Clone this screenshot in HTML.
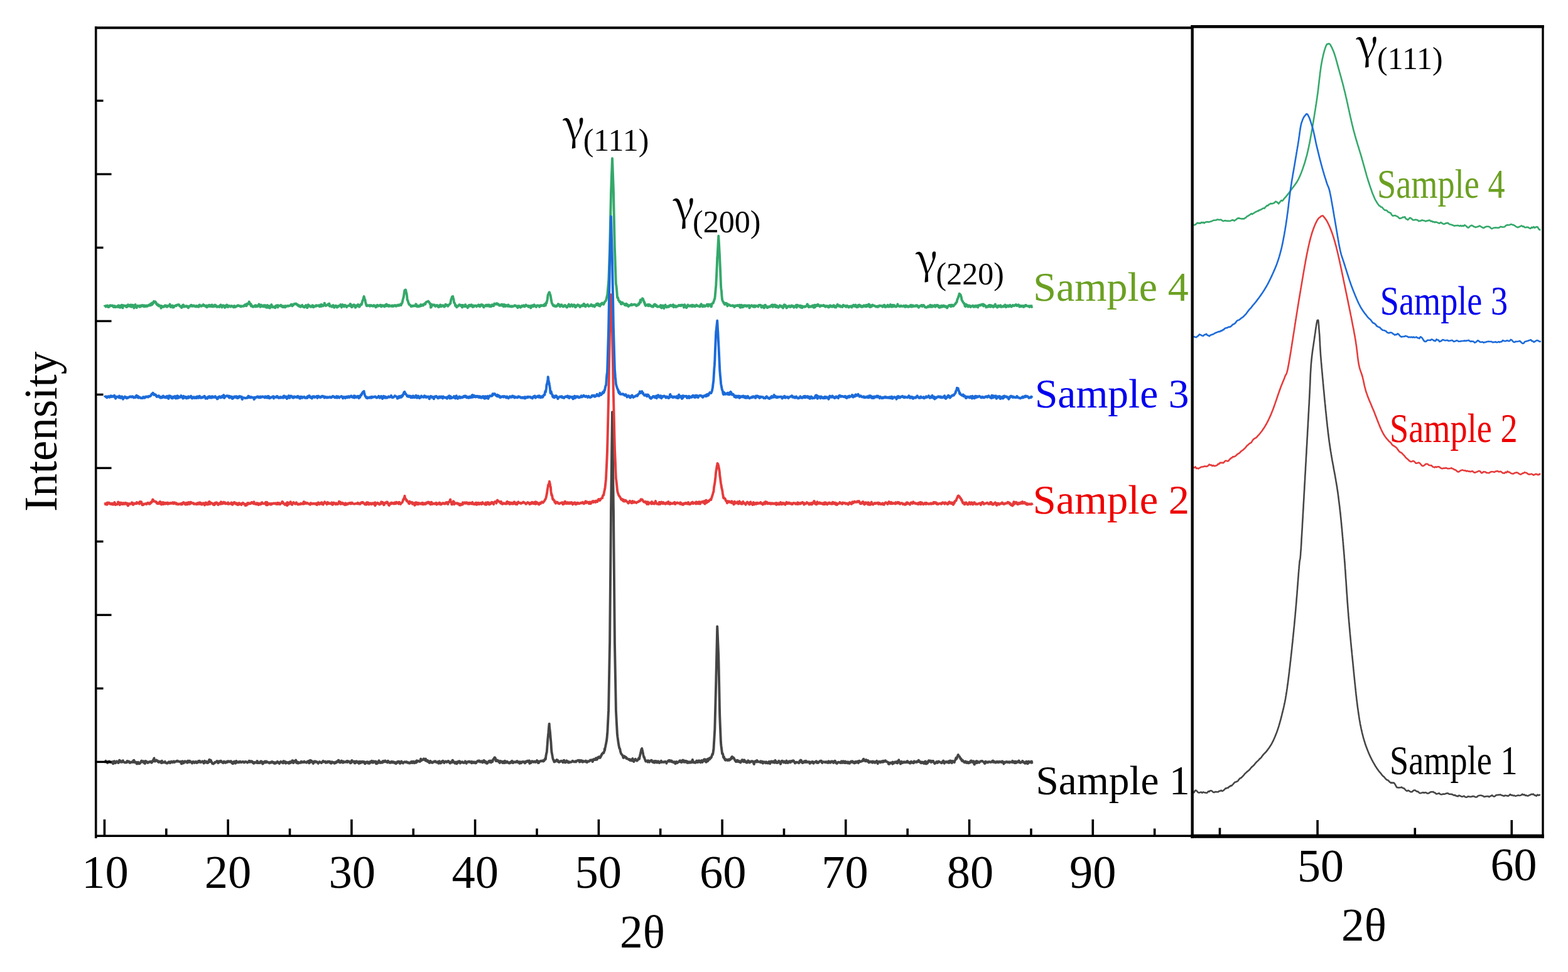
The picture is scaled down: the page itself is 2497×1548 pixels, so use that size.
<!DOCTYPE html>
<html><head><meta charset="utf-8"><title>XRD patterns</title><style>
html,body{margin:0;padding:0;background:#fff;width:2497px;height:1548px;overflow:hidden;}
svg{display:block;position:absolute;left:0;top:0;}
text{font-family:"Liberation Serif",serif;}
text.g{font-family:"Noto Serif CJK SC","Liberation Serif",serif;}
</style></head><body>
<svg width="2497" height="1548" viewBox="0 0 2497 1548">
<rect x="0" y="0" width="2497" height="1548" fill="#fff"/>
<polyline fill="none" stroke="#34a86a" stroke-width="3.9" stroke-linejoin="round" points="166.4,485.7 166.9,486.8 167.4,487.0 167.9,487.3 168.4,488.4 168.4,488.4 168.9,488.1 169.4,488.2 169.9,488.0 170.3,486.6 170.4,486.6 170.9,486.5 171.4,487.4 171.9,487.4 172.3,489.1 172.4,489.0 172.9,489.1 173.4,488.8 173.9,488.6 174.3,486.6 174.4,486.6 174.9,487.0 175.4,487.4 175.9,486.3 176.2,486.6 176.4,486.5 176.9,487.1 177.4,487.0 177.9,486.9 178.2,486.4 178.4,486.4 178.9,486.4 179.4,487.3 179.9,488.1 180.2,488.1 180.4,486.9 180.9,489.1 181.4,489.1 181.9,489.1 182.1,487.9 182.4,487.3 182.9,487.3 183.4,489.1 183.9,489.1 184.1,489.2 184.4,488.7 184.9,488.9 185.4,488.8 185.9,488.0 186.1,488.1 186.4,487.8 186.9,488.6 187.4,488.9 187.9,487.5 188.0,487.3 188.4,486.4 188.9,486.5 189.4,486.6 189.9,489.2 190.0,489.3 190.4,489.5 190.9,487.0 191.4,489.9 191.9,487.8 192.0,489.0 192.4,488.6 192.9,488.0 193.4,486.1 193.9,485.7 193.9,485.6 194.4,485.9 194.9,490.1 195.4,490.4 195.9,486.2 195.9,486.6 196.4,486.7 196.9,486.5 197.4,486.4 197.9,487.3 197.9,486.7 198.4,486.9 198.9,487.0 199.4,486.9 199.8,487.0 199.9,487.2 200.4,487.2 200.9,488.8 201.4,488.9 201.8,489.0 201.9,486.9 202.4,486.4 202.9,488.2 203.4,487.8 203.8,485.3 203.9,485.3 204.4,486.9 204.9,487.1 205.4,487.3 205.7,487.7 205.9,487.7 206.4,487.6 206.9,485.8 207.4,485.7 207.7,488.1 207.9,488.2 208.4,488.4 208.9,485.4 209.4,488.6 209.7,488.7 209.9,488.7 210.4,487.0 210.9,486.9 211.4,486.8 211.7,485.8 211.9,486.0 212.4,487.6 212.9,488.0 213.4,490.5 213.6,489.6 213.9,489.4 214.4,488.5 214.9,485.6 215.4,485.2 215.6,485.0 215.9,487.4 216.4,487.8 216.9,488.2 217.4,490.0 217.6,490.1 217.9,487.9 218.4,489.0 218.9,487.2 219.4,486.8 219.5,487.5 219.9,487.5 220.4,487.7 220.9,487.7 221.4,487.8 221.5,487.9 221.9,487.5 222.4,486.8 222.9,488.9 223.4,487.6 223.5,486.7 223.9,486.7 224.4,486.7 224.9,487.9 225.4,487.9 225.4,487.9 225.9,486.2 226.4,486.0 226.9,487.5 227.4,487.3 227.4,486.5 227.9,486.7 228.4,487.0 228.9,487.2 229.4,486.3 229.4,488.6 229.9,486.6 230.4,486.6 230.9,486.6 231.3,488.0 231.4,488.0 231.9,488.0 232.4,486.8 232.9,486.4 233.3,486.4 233.4,487.9 233.9,488.0 234.4,487.4 234.9,487.5 235.3,487.5 235.4,486.7 235.9,486.4 236.4,485.9 236.9,485.6 237.2,486.4 237.4,486.5 237.9,486.4 238.4,486.6 238.9,486.6 239.2,486.5 239.4,484.3 239.9,483.9 240.4,483.5 240.9,485.3 241.2,485.1 241.4,485.7 241.9,482.5 242.4,485.2 242.9,484.5 243.1,482.5 243.4,481.9 243.9,481.8 244.4,481.7 244.9,479.9 245.1,482.0 245.4,481.6 245.9,481.5 246.4,481.3 246.9,480.3 247.1,480.3 247.4,480.7 247.9,481.1 248.4,481.7 248.9,483.8 249.0,484.0 249.4,484.6 249.9,483.9 250.4,484.8 250.9,486.1 251.0,486.2 251.4,486.2 251.9,485.3 252.4,485.3 252.9,485.9 253.0,487.6 253.4,486.9 253.9,487.0 254.4,487.1 254.9,486.9 254.9,486.7 255.4,486.9 255.9,487.1 256.4,490.8 256.9,487.1 256.9,487.1 257.4,487.1 257.9,489.1 258.4,489.2 258.9,488.4 258.9,487.9 259.4,488.0 259.9,488.1 260.4,488.7 260.8,488.8 260.9,488.8 261.4,487.4 261.9,487.0 262.4,486.8 262.8,486.4 262.9,486.5 263.4,487.8 263.9,487.3 264.4,486.6 264.8,486.9 264.9,488.3 265.4,488.0 265.9,488.9 266.4,488.5 266.7,488.2 266.9,488.2 267.4,486.9 267.9,487.4 268.4,487.2 268.7,487.1 268.9,487.0 269.4,487.1 269.9,487.1 270.4,484.5 270.7,487.8 270.9,487.9 271.4,488.3 271.9,489.0 272.4,487.9 272.6,488.1 272.9,488.0 273.4,486.7 273.9,486.7 274.4,486.6 274.6,488.2 274.9,489.6 275.4,487.3 275.9,487.3 276.4,489.2 276.6,489.5 276.9,489.3 277.4,487.8 277.9,487.4 278.4,487.0 278.5,487.0 278.9,487.0 279.4,487.1 279.9,486.6 280.4,486.0 280.5,487.3 280.9,487.1 281.4,486.1 281.9,486.0 282.4,485.6 282.5,485.5 282.9,485.4 283.4,485.5 283.9,485.4 284.4,485.3 284.4,484.9 284.9,485.2 285.4,485.6 285.9,487.3 286.4,487.6 286.4,487.6 286.9,487.9 287.4,488.1 287.9,488.4 288.4,488.3 288.4,488.2 288.9,490.1 289.4,490.0 289.9,488.7 290.3,488.7 290.4,486.5 290.9,486.1 291.4,487.8 291.9,485.5 292.3,488.3 292.4,488.4 292.9,488.7 293.4,487.1 293.9,487.4 294.3,487.7 294.4,487.8 294.9,487.5 295.4,488.2 295.9,488.3 296.2,488.1 296.4,488.1 296.9,487.1 297.4,487.2 297.9,487.4 298.2,487.5 298.4,487.6 298.9,487.8 299.4,490.2 299.9,490.3 300.2,488.4 300.4,488.3 300.9,488.7 301.4,488.5 301.9,487.4 302.2,487.3 302.4,487.7 302.9,487.7 303.4,487.6 303.9,486.0 304.1,486.0 304.4,486.3 304.9,485.8 305.4,486.0 305.9,487.8 306.1,487.8 306.4,487.7 306.9,487.6 307.4,487.7 307.9,487.5 308.1,486.6 308.4,486.5 308.9,486.5 309.4,487.6 309.9,487.6 310.0,487.6 310.4,488.0 310.9,488.2 311.4,488.4 311.9,487.3 312.0,487.2 312.4,487.1 312.9,486.9 313.4,487.8 313.9,487.6 314.0,488.5 314.4,488.2 314.9,488.3 315.4,488.4 315.9,487.1 315.9,487.6 316.4,488.8 316.9,486.0 317.4,485.8 317.9,485.5 317.9,486.5 318.4,487.3 318.9,487.3 319.4,487.6 319.9,487.1 319.9,487.1 320.4,486.8 320.9,487.7 321.4,486.9 321.8,486.5 321.9,486.5 322.4,486.6 322.9,486.0 323.4,486.1 323.8,485.0 323.9,486.8 324.4,486.6 324.9,486.3 325.4,486.0 325.8,487.1 325.9,487.3 326.4,486.7 326.9,487.2 327.4,487.8 327.7,488.4 327.9,486.9 328.4,486.8 328.9,486.6 329.4,489.3 329.7,489.2 329.9,488.3 330.4,488.1 330.9,488.2 331.4,487.6 331.7,487.6 331.9,486.5 332.4,486.2 332.9,485.8 333.4,487.9 333.6,487.7 333.9,487.9 334.4,486.8 334.9,487.7 335.4,486.3 335.6,487.3 335.9,487.3 336.4,488.2 336.9,485.7 337.4,485.6 337.6,485.5 337.9,488.0 338.4,488.3 338.9,488.5 339.4,488.2 339.5,488.3 339.9,487.2 340.4,486.7 340.9,486.2 341.4,488.0 341.5,487.9 341.9,487.8 342.4,485.6 342.9,486.0 343.4,486.4 343.5,486.4 343.9,486.5 344.4,486.6 344.9,488.8 345.4,488.9 345.4,488.9 345.9,488.7 346.4,488.7 346.9,488.3 347.4,487.9 347.4,488.0 347.9,488.2 348.4,488.6 348.9,488.8 349.4,489.0 349.4,487.2 349.9,487.0 350.4,486.8 350.9,485.9 351.3,485.8 351.4,485.4 351.9,485.6 352.4,487.2 352.9,487.4 353.3,487.6 353.4,489.5 353.9,488.1 354.4,487.8 354.9,487.9 355.3,487.9 355.4,486.3 355.9,486.5 356.4,486.6 356.9,487.5 357.2,487.7 357.4,487.6 357.9,489.9 358.4,489.7 358.9,489.5 359.2,486.6 359.4,486.6 359.9,486.4 360.4,486.8 360.9,486.6 361.2,485.6 361.4,485.7 361.9,486.0 362.4,488.5 362.9,488.2 363.1,489.0 363.4,487.7 363.9,487.6 364.4,487.5 364.9,487.5 365.1,486.9 365.4,487.0 365.9,487.2 366.4,487.4 366.9,488.5 367.1,488.6 367.4,487.6 367.9,487.3 368.4,487.5 368.9,487.2 369.0,487.1 369.4,487.6 369.9,487.9 370.4,488.3 370.9,487.8 371.0,487.9 371.4,487.7 371.9,489.4 372.4,489.2 372.9,489.0 373.0,487.0 373.4,487.0 373.9,489.1 374.4,489.1 374.9,489.1 374.9,488.3 375.4,488.4 375.9,488.6 376.4,487.6 376.9,487.3 376.9,487.3 377.4,487.0 377.9,487.3 378.4,487.4 378.9,486.3 378.9,486.3 379.4,486.3 379.9,486.8 380.4,486.8 380.8,486.8 380.9,487.3 381.4,487.5 381.9,487.7 382.4,487.9 382.8,488.0 382.9,487.3 383.4,487.2 383.9,488.4 384.4,488.2 384.8,487.6 384.9,487.6 385.4,487.6 385.9,487.6 386.4,487.6 386.7,487.3 386.9,487.2 387.4,487.8 387.9,487.7 388.4,487.5 388.7,487.5 388.9,487.5 389.4,485.7 389.9,486.7 390.4,486.6 390.7,485.0 390.9,486.3 391.4,486.1 391.9,486.0 392.4,487.3 392.7,486.5 392.9,486.3 393.4,483.8 393.9,484.8 394.4,484.4 394.6,484.5 394.9,484.0 395.4,483.0 395.9,483.2 396.4,482.3 396.6,480.4 396.9,481.2 397.4,482.2 397.9,484.1 398.4,485.2 398.6,485.5 398.9,483.7 399.4,484.1 399.9,487.6 400.4,485.8 400.5,485.9 400.9,486.2 401.4,487.0 401.9,487.6 402.4,488.0 402.5,488.8 402.9,488.7 403.4,488.6 403.9,488.6 404.4,487.8 404.5,487.7 404.9,487.5 405.4,487.1 405.9,487.0 406.4,486.9 406.4,486.1 406.9,486.2 407.4,488.5 407.9,487.5 408.4,487.6 408.4,486.7 408.9,486.6 409.4,488.2 409.9,488.1 410.4,487.3 410.4,488.0 410.9,487.8 411.4,486.1 411.9,485.9 412.3,484.4 412.4,484.5 412.9,486.4 413.4,486.7 413.9,486.9 414.3,487.1 414.4,488.9 414.9,488.4 415.4,487.0 415.9,485.6 416.3,486.0 416.4,487.4 416.9,487.5 417.4,487.4 417.9,488.1 418.2,488.0 418.4,488.1 418.9,487.6 419.4,487.7 419.9,486.2 420.2,488.5 420.4,487.2 420.9,486.9 421.4,486.6 421.9,486.3 422.2,486.1 422.4,486.3 422.9,488.7 423.4,489.1 423.9,489.6 424.1,487.7 424.4,488.4 424.9,488.1 425.4,487.9 425.9,486.1 426.1,489.9 426.4,486.7 426.9,487.2 427.4,487.2 427.9,487.2 428.1,487.2 428.4,487.2 428.9,490.4 429.4,490.5 429.9,490.6 430.0,488.6 430.4,488.5 430.9,488.2 431.4,486.1 431.9,485.8 432.0,485.8 432.4,485.1 432.9,487.5 433.4,488.8 433.9,489.4 434.0,489.4 434.4,488.7 434.9,488.5 435.4,488.3 435.9,488.6 435.9,488.6 436.4,488.6 436.9,489.8 437.4,489.8 437.9,488.6 437.9,489.0 438.4,490.1 438.9,487.1 439.4,486.9 439.9,486.7 439.9,487.4 440.4,487.3 440.9,487.1 441.4,486.3 441.8,488.1 441.9,488.1 442.4,489.4 442.9,486.2 443.4,486.4 443.8,487.4 443.9,487.3 444.4,487.5 444.9,487.3 445.4,487.1 445.8,487.0 445.9,487.1 446.4,487.3 446.9,487.4 447.4,485.8 447.7,487.4 447.9,487.7 448.4,487.6 448.9,487.6 449.4,488.8 449.7,488.8 449.9,488.9 450.4,487.3 450.9,487.5 451.4,487.5 451.7,487.6 451.9,489.3 452.4,489.1 452.9,489.0 453.4,487.3 453.6,487.3 453.9,487.2 454.4,489.4 454.9,487.3 455.4,487.3 455.6,487.5 455.9,487.4 456.4,487.6 456.9,487.8 457.4,487.2 457.6,487.3 457.9,487.1 458.4,487.6 458.9,487.3 459.4,487.1 459.5,487.5 459.9,487.4 460.4,487.2 460.9,487.1 461.4,487.0 461.5,486.8 461.9,486.7 462.4,486.6 462.9,485.4 463.4,485.9 463.5,486.0 463.9,484.7 464.4,484.9 464.9,485.0 465.4,487.4 465.4,486.8 465.9,486.4 466.4,485.8 466.9,485.3 467.4,484.8 467.4,485.8 467.9,484.3 468.4,484.1 468.9,483.8 469.4,484.4 469.4,484.4 469.9,484.3 470.4,483.7 470.9,483.6 471.3,483.4 471.4,483.5 471.9,483.9 472.4,484.3 472.9,485.5 473.3,485.8 473.4,485.9 473.9,485.0 474.4,485.4 474.9,485.8 475.3,487.3 475.4,487.5 475.9,487.6 476.4,486.5 476.9,486.6 477.2,486.7 477.4,488.3 477.9,488.5 478.4,488.8 478.9,487.5 479.2,487.6 479.4,488.3 479.9,488.0 480.4,487.6 480.9,486.0 481.2,485.8 481.4,486.5 481.9,487.4 482.4,487.6 482.9,488.9 483.2,489.0 483.4,487.8 483.9,487.9 484.4,488.1 484.9,489.6 485.1,489.6 485.4,488.5 485.9,487.8 486.4,487.2 486.9,486.2 487.1,486.0 487.4,486.2 487.9,487.0 488.4,487.9 488.9,487.9 489.1,490.4 489.4,490.0 489.9,489.4 490.4,485.9 490.9,485.2 491.0,486.5 491.4,486.5 491.9,487.5 492.4,486.7 492.9,486.7 493.0,486.7 493.4,487.0 493.9,487.4 494.4,488.5 494.9,488.8 495.0,488.0 495.4,488.7 495.9,488.6 496.4,487.5 496.9,487.4 496.9,487.4 497.4,486.2 497.9,486.4 498.4,486.5 498.9,488.2 498.9,489.3 499.4,489.2 499.9,489.1 500.4,487.8 500.9,487.7 500.9,487.7 501.4,487.6 501.9,487.6 502.4,487.9 502.8,487.8 502.9,486.4 503.4,486.3 503.9,486.2 504.4,487.4 504.8,487.0 504.9,487.0 505.4,486.9 505.9,486.7 506.4,486.6 506.8,486.5 506.9,486.9 507.4,487.2 507.9,486.3 508.4,487.9 508.7,488.0 508.9,488.3 509.4,486.3 509.9,485.9 510.4,485.4 510.7,487.6 510.9,487.7 511.4,487.9 511.9,485.0 512.4,485.2 512.7,485.4 512.9,487.5 513.4,486.3 513.9,487.2 514.4,487.3 514.6,487.0 514.9,486.7 515.4,486.1 515.9,485.9 516.4,485.4 516.6,482.8 516.9,482.9 517.4,486.3 517.9,486.4 518.4,486.5 518.6,487.0 518.9,486.9 519.4,486.8 519.9,486.3 520.4,486.2 520.5,485.5 520.9,485.5 521.4,485.4 521.9,485.5 522.4,484.6 522.5,485.8 522.9,484.5 523.4,484.7 523.9,484.9 524.4,483.6 524.5,487.3 524.9,487.6 525.4,486.1 525.9,486.4 526.4,486.9 526.4,486.9 526.9,487.8 527.4,487.6 527.9,487.7 528.4,487.8 528.4,488.7 528.9,487.1 529.4,487.0 529.9,486.9 530.4,486.0 530.4,486.0 530.9,486.4 531.4,489.0 531.9,489.4 532.3,489.8 532.4,489.3 532.9,487.7 533.4,487.6 533.9,487.5 534.3,486.7 534.4,486.7 534.9,487.3 535.4,487.2 535.9,487.1 536.3,489.5 536.4,489.5 536.9,489.6 537.4,488.1 537.9,488.2 538.2,488.5 538.4,488.5 538.9,488.4 539.4,487.1 539.9,487.5 540.2,487.5 540.4,487.4 540.9,486.9 541.4,486.4 541.9,485.9 542.2,485.6 542.4,485.0 542.9,485.7 543.4,486.4 543.9,489.5 544.1,488.6 544.4,488.2 544.9,485.7 545.4,485.0 545.9,487.2 546.1,486.9 546.4,486.8 546.9,487.1 547.4,487.4 547.9,488.4 548.1,486.2 548.4,486.1 548.9,485.8 549.4,487.5 549.9,487.3 550.0,486.3 550.4,486.5 550.9,486.8 551.4,487.7 551.9,488.0 552.0,489.4 552.4,487.4 552.9,487.4 553.4,487.1 553.9,487.1 554.0,487.3 554.4,487.3 554.9,486.6 555.4,486.6 555.9,486.6 555.9,486.6 556.4,486.5 556.9,486.9 557.4,484.5 557.9,484.0 557.9,484.0 558.4,484.7 558.9,486.7 559.4,488.0 559.9,488.6 559.9,489.2 560.4,489.1 560.9,489.0 561.4,486.2 561.8,486.1 561.9,486.1 562.4,487.1 562.9,486.7 563.4,486.2 563.8,485.2 563.9,487.0 564.4,487.6 564.9,486.2 565.4,488.9 565.8,489.4 565.9,489.8 566.4,489.5 566.9,487.9 567.4,487.6 567.7,486.5 567.9,487.9 568.4,487.6 568.9,487.5 569.4,487.3 569.7,487.3 569.9,485.0 570.4,485.2 570.9,485.3 571.4,487.1 571.7,487.2 571.9,488.7 572.4,488.4 572.9,488.1 573.4,486.0 573.7,485.9 573.9,485.8 574.4,484.8 574.9,484.5 575.4,484.2 575.6,485.4 575.9,484.4 576.4,482.8 576.9,480.5 577.4,478.9 577.6,478.4 577.9,478.0 578.4,476.3 578.9,474.3 579.4,472.6 579.6,472.0 579.9,473.1 580.4,475.4 580.9,477.0 581.4,478.6 581.5,477.5 581.9,481.0 582.4,482.8 582.9,484.7 583.4,484.8 583.5,486.8 583.9,487.0 584.4,487.3 584.9,486.1 585.4,486.5 585.5,486.5 585.9,486.5 586.4,486.9 586.9,486.9 587.4,486.1 587.4,486.1 587.9,486.2 588.4,486.1 588.9,487.8 589.4,486.3 589.4,486.6 589.9,486.6 590.4,486.5 590.9,486.0 591.4,486.5 591.4,486.6 591.9,487.1 592.4,487.0 592.9,487.6 593.3,487.3 593.4,487.3 593.9,487.6 594.4,487.3 594.9,486.2 595.3,486.0 595.4,486.4 595.9,487.6 596.4,487.6 596.9,487.6 597.3,487.0 597.4,487.0 597.9,487.3 598.4,489.3 598.9,487.0 599.2,488.8 599.4,488.7 599.9,488.3 600.4,486.2 600.9,485.7 601.2,486.1 601.4,486.1 601.9,487.5 602.4,487.5 602.9,487.4 603.2,486.9 603.4,486.9 603.9,487.0 604.4,486.5 604.9,486.6 605.1,485.8 605.4,485.9 605.9,485.6 606.4,485.7 606.9,488.3 607.1,488.4 607.4,488.0 607.9,486.8 608.4,486.7 608.9,486.6 609.1,486.1 609.4,486.1 609.9,487.6 610.4,487.6 610.9,487.6 611.0,486.8 611.4,486.9 611.9,487.0 612.4,488.5 612.9,486.6 613.0,485.9 613.4,485.8 613.9,485.7 614.4,487.3 614.9,484.6 615.0,484.6 615.4,484.5 615.9,485.7 616.4,487.3 616.9,487.1 616.9,485.5 617.4,485.8 617.9,486.1 618.4,487.6 618.9,487.9 618.9,487.9 619.4,487.2 619.9,486.0 620.4,487.6 620.9,487.3 620.9,487.3 621.4,487.3 621.9,487.1 622.4,487.1 622.8,486.8 622.9,487.9 623.4,487.6 623.9,487.7 624.4,487.8 624.8,486.5 624.9,486.5 625.4,486.5 625.9,488.0 626.4,487.9 626.8,487.9 626.9,487.6 627.4,487.3 627.9,487.0 628.4,486.2 628.7,486.0 628.9,486.7 629.4,486.8 629.9,486.8 630.4,486.4 630.7,487.7 630.9,487.6 631.4,487.5 631.9,487.2 632.4,487.1 632.7,486.2 632.9,486.2 633.4,486.2 633.9,485.5 634.4,485.5 634.6,486.7 634.9,486.8 635.4,486.3 635.9,486.5 636.4,485.8 636.6,485.5 636.9,485.2 637.4,484.9 637.9,484.5 638.4,485.8 638.6,486.0 638.9,485.6 639.4,483.2 639.9,483.3 640.4,482.7 640.5,482.4 640.9,480.3 641.4,477.9 641.9,475.9 642.4,473.9 642.5,474.5 642.9,472.1 643.4,468.8 643.9,465.4 644.4,462.3 644.5,463.8 644.9,462.1 645.4,461.8 645.9,461.5 646.4,462.8 646.4,462.8 646.9,466.1 647.4,466.8 647.9,470.5 648.4,474.2 648.4,476.7 648.9,478.5 649.4,478.4 649.9,480.3 650.4,482.6 650.4,482.6 650.9,483.0 651.4,484.9 651.9,484.7 652.3,485.1 652.4,485.0 652.9,485.4 653.4,486.4 653.9,486.8 654.3,487.2 654.4,488.0 654.9,488.0 655.4,488.1 655.9,486.9 656.3,487.2 656.4,487.3 656.9,487.5 657.4,487.0 657.9,487.3 658.2,487.5 658.4,486.8 658.9,486.7 659.4,486.6 659.9,487.3 660.2,487.3 660.4,487.2 660.9,486.9 661.4,486.6 661.9,487.3 662.2,484.3 662.4,484.3 662.9,484.6 663.4,487.3 663.9,487.5 664.2,488.2 664.4,486.8 664.9,487.3 665.4,487.3 665.9,488.4 666.1,488.4 666.4,488.4 666.9,487.0 667.4,487.0 667.9,487.0 668.1,487.9 668.4,487.8 668.9,487.2 669.4,487.4 669.9,485.1 670.1,485.7 670.4,487.3 670.9,487.2 671.4,487.0 671.9,485.3 672.0,485.2 672.4,485.4 672.9,485.6 673.4,485.8 673.9,486.4 674.0,486.5 674.4,485.0 674.9,484.9 675.4,484.1 675.9,484.8 676.0,484.8 676.4,484.0 676.9,483.0 677.4,484.4 677.9,481.9 677.9,481.9 678.4,481.5 678.9,481.0 679.4,480.6 679.9,480.8 679.9,480.8 680.4,480.8 680.9,480.4 681.4,480.0 681.9,479.6 681.9,479.7 682.4,480.4 682.9,480.7 683.4,481.4 683.8,481.8 683.9,482.0 684.4,483.2 684.9,484.7 685.4,483.6 685.8,484.5 685.9,489.7 686.4,489.3 686.9,489.0 687.4,486.2 687.8,485.9 687.9,485.0 688.4,485.2 688.9,485.4 689.4,486.1 689.7,486.2 689.9,486.3 690.4,485.4 690.9,485.5 691.4,485.5 691.7,485.5 691.9,485.6 692.4,486.1 692.9,487.5 693.4,487.9 693.7,486.9 693.9,486.8 694.4,486.5 694.9,486.5 695.4,487.1 695.6,486.9 695.9,486.0 696.4,486.3 696.9,486.4 697.4,486.7 697.6,486.8 697.9,489.1 698.4,489.1 698.9,489.0 699.4,486.9 699.6,487.0 699.9,486.9 700.4,486.7 700.9,485.5 701.4,485.4 701.5,488.0 701.9,488.1 702.4,488.2 702.9,486.4 703.4,487.8 703.5,487.0 703.9,486.8 704.4,487.3 704.9,486.3 705.4,486.7 705.5,486.6 705.9,486.9 706.4,486.6 706.9,488.3 707.4,488.7 707.4,488.7 707.9,488.4 708.4,488.0 708.9,487.7 709.4,485.1 709.4,484.7 709.9,486.5 710.4,486.5 710.9,486.2 711.4,486.2 711.4,486.2 711.9,485.5 712.4,485.9 712.9,486.1 713.3,487.7 713.4,487.6 713.9,487.1 714.4,485.9 714.9,485.5 715.3,485.1 715.4,485.2 715.9,484.9 716.4,484.1 716.9,483.4 717.3,482.0 717.4,483.1 717.9,479.1 718.4,476.7 718.9,476.4 719.2,474.8 719.4,474.7 719.9,472.4 720.4,472.3 720.9,472.2 721.2,472.1 721.4,473.0 721.9,475.6 722.4,476.6 722.9,480.7 723.2,482.0 723.4,481.8 723.9,482.7 724.4,483.5 724.9,486.5 725.1,486.9 725.4,487.2 725.9,486.0 726.4,486.6 726.9,487.2 727.1,489.4 727.4,489.2 727.9,488.8 728.4,487.5 728.9,487.6 729.1,487.5 729.4,487.5 729.9,487.0 730.4,486.2 730.9,486.2 731.0,486.2 731.4,485.1 731.9,485.2 732.4,485.3 732.9,486.7 733.0,486.7 733.4,486.7 733.9,487.3 734.4,487.3 734.9,487.3 735.0,486.0 735.4,485.9 735.9,489.5 736.4,489.4 736.9,485.9 736.9,485.9 737.4,486.1 737.9,487.0 738.4,487.2 738.9,487.4 738.9,487.5 739.4,487.4 739.9,488.2 740.4,486.9 740.9,485.3 740.9,485.3 741.4,485.3 741.9,488.1 742.4,488.1 742.8,488.0 742.9,487.9 743.4,488.3 743.9,488.7 744.4,488.1 744.8,490.3 744.9,487.5 745.4,487.2 745.9,488.6 746.4,488.3 746.8,488.1 746.9,485.9 747.4,485.7 747.9,487.4 748.4,487.2 748.8,486.6 748.9,486.6 749.4,487.4 749.9,487.4 750.4,485.4 750.7,485.3 750.9,485.4 751.4,486.7 751.9,486.9 752.4,488.8 752.7,488.9 752.9,486.6 753.4,486.4 753.9,488.6 754.4,488.5 754.7,488.4 754.9,487.0 755.4,487.0 755.9,487.0 756.4,486.6 756.6,486.6 756.9,486.8 757.4,486.6 757.9,487.0 758.4,487.4 758.6,487.1 758.9,488.4 759.4,487.0 759.9,486.7 760.4,486.5 760.6,487.2 760.9,487.2 761.4,487.1 761.9,485.4 762.4,485.4 762.5,486.6 762.9,486.7 763.4,487.9 763.9,488.1 764.4,488.2 764.5,485.9 764.9,485.8 765.4,487.0 765.9,486.6 766.4,486.8 766.5,485.0 766.9,485.1 767.4,485.9 767.9,486.0 768.4,486.2 768.4,485.5 768.9,485.8 769.4,486.1 769.9,489.1 770.4,489.4 770.4,489.4 770.9,488.3 771.4,487.9 771.9,487.6 772.4,487.5 772.4,487.5 772.9,487.4 773.4,485.8 773.9,485.7 774.3,486.6 774.4,486.6 774.9,487.4 775.4,485.7 775.9,485.6 776.3,487.0 776.4,487.1 776.9,486.2 777.4,487.4 777.9,485.5 778.3,485.7 778.4,487.0 778.9,486.0 779.4,485.8 779.9,488.2 780.2,488.1 780.4,487.7 780.9,487.8 781.4,487.8 781.9,486.9 782.2,488.2 782.4,486.4 782.9,485.9 783.4,485.4 783.9,487.2 784.2,487.0 784.4,487.0 784.9,485.6 785.4,487.2 785.9,487.3 786.1,487.3 786.4,484.9 786.9,484.8 787.4,483.6 787.9,484.1 788.1,484.1 788.4,484.0 788.9,484.7 789.4,484.7 789.9,484.6 790.1,484.2 790.4,484.1 790.9,483.2 791.4,483.1 791.9,484.8 792.0,484.8 792.4,484.1 792.9,484.3 793.4,484.2 793.9,484.3 794.0,485.6 794.4,485.9 794.9,486.4 795.4,486.1 795.9,486.6 796.0,486.7 796.4,485.7 796.9,485.6 797.4,485.5 797.9,486.5 797.9,485.2 798.4,484.9 798.9,484.7 799.4,486.2 799.9,485.9 799.9,484.8 800.4,484.9 800.9,486.7 801.4,487.9 801.9,488.1 801.9,486.8 802.4,487.0 802.9,485.0 803.4,485.2 803.8,485.4 803.9,487.9 804.4,488.0 804.9,488.0 805.4,486.1 805.8,486.2 805.9,486.1 806.4,487.2 806.9,486.9 807.4,486.6 807.8,486.4 807.9,486.4 808.4,487.8 808.9,485.4 809.4,485.5 809.7,485.5 809.9,487.7 810.4,487.5 810.9,487.7 811.4,488.0 811.7,487.3 811.9,487.9 812.4,488.3 812.9,488.3 813.4,487.5 813.7,487.5 813.9,487.4 814.4,487.5 814.9,488.6 815.4,488.6 815.6,488.6 815.9,488.1 816.4,487.6 816.9,487.4 817.4,487.5 817.6,487.5 817.9,487.8 818.4,487.5 818.9,487.4 819.4,487.3 819.6,486.3 819.9,486.6 820.4,486.4 820.9,486.6 821.4,487.2 821.5,487.1 821.9,487.4 822.4,488.1 822.9,488.4 823.4,487.8 823.5,487.9 823.9,488.6 824.4,490.2 824.9,487.2 825.4,487.1 825.5,487.2 825.9,488.5 826.4,488.6 826.9,487.2 827.4,489.1 827.4,489.1 827.9,489.0 828.4,488.7 828.9,489.7 829.4,489.4 829.4,488.2 829.9,488.1 830.4,488.1 830.9,487.0 831.4,486.9 831.4,486.9 831.9,488.1 832.4,488.1 832.9,487.5 833.3,487.5 833.4,487.5 833.9,486.2 834.4,487.5 834.9,487.5 835.3,487.5 835.4,488.6 835.9,488.2 836.4,486.5 836.9,486.1 837.3,485.8 837.4,485.6 837.9,486.0 838.4,486.3 838.9,486.6 839.3,486.8 839.4,487.4 839.9,487.4 840.4,487.4 840.9,487.4 841.2,487.4 841.4,488.8 841.9,487.0 842.4,487.1 842.9,488.7 843.2,488.7 843.4,487.9 843.9,487.8 844.4,487.8 844.9,487.0 845.2,490.5 845.4,490.5 845.9,489.0 846.4,487.1 846.9,487.0 847.1,486.9 847.4,486.5 847.9,486.4 848.4,488.4 848.9,488.4 849.1,488.4 849.4,485.9 849.9,485.8 850.4,487.3 850.9,485.3 851.1,487.1 851.4,487.3 851.9,487.1 852.4,487.4 852.9,487.9 853.0,488.0 853.4,487.9 853.9,489.0 854.4,487.0 854.9,486.8 855.0,486.5 855.4,486.5 855.9,486.4 856.4,486.4 856.9,486.4 857.0,486.7 857.4,486.9 857.9,487.1 858.4,486.7 858.9,486.9 858.9,488.7 859.4,488.7 859.9,486.4 860.4,486.4 860.9,486.4 860.9,486.2 861.4,487.0 861.9,486.0 862.4,487.0 862.9,486.7 862.9,486.8 863.4,486.6 863.9,486.8 864.4,486.7 864.8,486.9 864.9,486.9 865.4,485.6 865.9,485.3 866.4,487.3 866.8,487.0 866.9,487.0 867.4,485.5 867.9,483.9 868.4,483.5 868.8,486.5 868.9,486.1 869.4,483.7 869.9,482.1 870.4,482.8 870.7,481.0 870.9,480.2 871.4,478.2 871.9,475.9 872.4,470.8 872.7,469.6 872.9,468.9 873.4,468.9 873.9,467.4 874.4,465.4 874.7,466.1 874.9,465.4 875.4,466.8 875.9,468.9 876.4,469.6 876.6,470.4 876.9,472.0 877.4,475.0 877.9,477.9 878.4,480.9 878.6,482.0 878.9,482.8 879.4,483.7 879.9,484.3 880.4,485.8 880.6,486.1 880.9,486.9 881.4,487.0 881.9,487.2 882.4,487.4 882.5,486.1 882.9,486.5 883.4,486.9 883.9,487.5 884.4,487.9 884.5,488.0 884.9,487.3 885.4,487.1 885.9,488.0 886.4,487.8 886.5,487.5 886.9,486.6 887.4,487.2 887.9,487.0 888.4,486.7 888.4,486.5 888.9,484.1 889.4,484.6 889.9,484.8 890.4,484.9 890.4,486.0 890.9,486.0 891.4,485.9 891.9,488.4 892.4,485.8 892.4,485.8 892.9,485.8 893.4,486.9 893.9,486.9 894.3,486.8 894.4,485.3 894.9,487.2 895.4,487.8 895.9,486.9 896.3,487.3 896.4,487.3 896.9,488.5 897.4,488.2 897.9,487.8 898.3,487.6 898.4,487.6 898.9,486.2 899.4,486.2 899.9,486.0 900.2,487.7 900.4,487.6 900.9,487.8 901.4,487.9 901.9,488.3 902.2,488.4 902.4,489.5 902.9,489.4 903.4,489.4 903.9,487.8 904.2,487.7 904.4,486.4 904.9,486.2 905.4,486.0 905.9,484.5 906.1,487.0 906.4,487.0 906.9,485.7 907.4,485.7 907.9,488.4 908.1,486.4 908.4,486.8 908.9,486.6 909.4,486.1 909.9,485.7 910.1,484.9 910.4,485.2 910.9,485.7 911.4,486.0 911.9,488.0 912.0,487.1 912.4,486.4 912.9,486.1 913.4,485.9 913.9,485.5 914.0,485.4 914.4,486.9 914.9,485.9 915.4,486.1 915.9,486.3 916.0,489.3 916.4,489.1 916.9,489.0 917.4,488.3 917.9,488.0 917.9,488.0 918.4,486.6 918.9,486.4 919.4,486.1 919.9,485.2 919.9,485.2 920.4,485.3 920.9,485.7 921.4,485.8 921.9,485.9 921.9,487.3 922.4,487.7 922.9,488.0 923.4,488.8 923.8,489.1 923.9,489.1 924.4,487.7 924.9,487.3 925.4,486.7 925.8,486.4 925.9,486.4 926.4,486.6 926.9,486.8 927.4,487.3 927.8,487.5 927.9,487.3 928.4,485.3 928.9,484.8 929.4,484.2 929.8,486.9 929.9,483.8 930.4,484.1 930.9,487.0 931.4,486.8 931.7,486.9 931.9,488.1 932.4,488.4 932.9,486.0 933.4,486.3 933.7,486.5 933.9,486.8 934.4,486.3 934.9,485.8 935.4,485.2 935.7,484.9 935.9,485.2 936.4,486.6 936.9,487.2 937.4,487.7 937.6,487.9 937.9,487.7 938.4,487.5 938.9,487.2 939.4,486.9 939.6,487.1 939.9,487.1 940.4,487.1 940.9,485.7 941.4,484.9 941.6,484.9 941.9,485.1 942.4,485.5 942.9,486.1 943.4,486.5 943.5,487.7 943.9,487.8 944.4,487.4 944.9,487.0 945.4,486.1 945.5,486.1 945.9,486.3 946.4,488.2 946.9,488.5 947.4,486.8 947.5,486.8 947.9,486.6 948.4,486.4 948.9,486.1 949.4,485.8 949.4,484.3 949.9,485.6 950.4,485.7 950.9,485.8 951.4,485.7 951.4,483.5 951.9,483.5 952.4,483.6 952.9,486.5 953.4,486.6 953.4,486.8 953.9,486.7 954.4,486.8 954.9,486.7 955.3,486.7 955.4,487.6 955.9,484.4 956.4,484.1 956.9,485.5 957.3,485.2 957.4,485.1 957.9,483.5 958.4,482.9 958.9,482.4 959.3,482.6 959.4,482.7 959.9,483.1 960.4,482.9 960.9,484.5 961.2,484.8 961.4,483.2 961.9,483.2 962.4,482.3 962.9,480.8 963.2,480.3 963.4,480.1 963.9,480.0 964.4,479.6 964.9,478.4 965.2,478.2 965.4,477.2 965.9,474.9 966.4,472.8 966.9,470.7 967.1,470.4 967.4,467.6 967.9,462.5 968.4,456.2 968.9,451.1 969.1,449.0 969.4,443.3 969.9,429.8 970.4,414.9 970.9,401.4 971.1,396.7 971.4,380.2 971.9,357.3 972.4,334.3 972.9,313.7 973.0,307.6 973.4,296.2 973.9,281.9 974.4,269.2 974.9,255.0 975.0,252.1 975.4,261.4 975.9,275.4 976.4,288.7 976.9,302.6 977.0,306.5 977.4,326.4 977.9,349.6 978.4,373.6 978.9,396.7 978.9,395.5 979.4,408.2 979.9,424.5 980.4,438.3 980.9,452.3 980.9,452.4 981.4,454.7 981.9,459.9 982.4,465.1 982.9,472.6 982.9,472.7 983.4,474.3 983.9,473.8 984.4,475.4 984.8,477.9 984.9,477.7 985.4,478.5 985.9,479.3 986.4,480.0 986.8,481.0 986.9,481.1 987.4,480.0 987.9,480.6 988.4,481.2 988.8,483.5 988.9,484.2 989.4,484.2 989.9,484.2 990.4,484.1 990.7,481.7 990.9,481.7 991.4,481.9 991.9,483.3 992.4,483.3 992.7,483.4 992.9,483.5 993.4,484.1 993.9,484.1 994.4,484.3 994.7,485.7 994.9,484.2 995.4,484.4 995.9,485.2 996.4,485.4 996.6,486.3 996.9,484.0 997.4,483.7 997.9,486.5 998.4,486.2 998.6,486.1 998.9,484.9 999.4,485.5 999.9,486.0 1000.4,486.6 1000.6,488.1 1000.9,487.9 1001.4,487.3 1001.9,487.1 1002.4,486.7 1002.5,486.6 1002.9,485.9 1003.4,485.9 1003.9,485.6 1004.4,485.6 1004.5,486.0 1004.9,486.0 1005.4,484.4 1005.9,484.4 1006.4,486.1 1006.5,485.4 1006.9,485.5 1007.4,485.5 1007.9,485.4 1008.4,485.3 1008.4,485.2 1008.9,485.2 1009.4,485.2 1009.9,484.6 1010.4,484.6 1010.4,485.0 1010.9,485.1 1011.4,485.2 1011.9,485.1 1012.4,485.1 1012.4,485.1 1012.9,486.6 1013.4,487.1 1013.9,486.6 1014.3,486.7 1014.4,486.5 1014.9,486.2 1015.4,486.1 1015.9,485.9 1016.3,484.5 1016.4,484.3 1016.9,483.5 1017.4,484.9 1017.9,484.1 1018.3,482.9 1018.4,482.7 1018.9,480.9 1019.4,480.0 1019.9,477.4 1020.3,481.6 1020.4,478.6 1020.9,478.1 1021.4,477.7 1021.9,477.7 1022.2,477.4 1022.4,477.5 1022.9,475.3 1023.4,475.5 1023.9,475.7 1024.2,477.0 1024.4,477.5 1024.9,478.8 1025.4,480.5 1025.9,481.8 1026.2,482.4 1026.4,481.5 1026.9,484.8 1027.4,485.7 1027.9,485.2 1028.1,487.0 1028.4,486.3 1028.9,485.4 1029.4,485.8 1029.9,486.0 1030.1,486.2 1030.4,486.0 1030.9,485.3 1031.4,485.1 1031.9,484.9 1032.1,486.5 1032.4,487.3 1032.9,487.2 1033.4,486.9 1033.9,485.1 1034.0,485.0 1034.4,485.2 1034.9,485.7 1035.4,485.9 1035.9,487.3 1036.0,487.3 1036.4,486.7 1036.9,487.1 1037.4,487.5 1037.9,488.4 1038.0,487.4 1038.4,487.5 1038.9,487.7 1039.4,488.6 1039.9,488.8 1039.9,488.8 1040.4,488.4 1040.9,486.2 1041.4,485.9 1041.9,485.1 1041.9,484.9 1042.4,484.7 1042.9,484.5 1043.4,485.4 1043.9,485.2 1043.9,487.0 1044.4,487.3 1044.9,487.1 1045.4,487.4 1045.8,486.5 1045.9,486.5 1046.4,488.4 1046.9,488.5 1047.4,488.7 1047.8,488.2 1047.9,488.2 1048.4,488.2 1048.9,488.6 1049.4,488.2 1049.8,488.3 1049.9,488.1 1050.4,488.0 1050.9,488.7 1051.4,488.6 1051.7,486.3 1051.9,488.1 1052.4,486.1 1052.9,490.0 1053.4,490.4 1053.7,487.5 1053.9,487.4 1054.4,486.9 1054.9,488.2 1055.4,486.7 1055.7,486.5 1055.9,486.8 1056.4,490.1 1056.9,490.6 1057.4,491.1 1057.6,489.6 1057.9,489.3 1058.4,488.6 1058.9,486.5 1059.4,485.8 1059.6,485.5 1059.9,487.5 1060.4,488.4 1060.9,488.9 1061.4,489.4 1061.6,488.0 1061.9,487.9 1062.4,487.9 1062.9,489.0 1063.4,487.6 1063.5,487.6 1063.9,487.6 1064.4,488.8 1064.9,488.7 1065.4,488.7 1065.5,487.1 1065.9,486.8 1066.4,486.5 1066.9,487.4 1067.4,485.9 1067.5,485.8 1067.9,487.1 1068.4,487.2 1068.9,487.3 1069.4,486.5 1069.4,486.6 1069.9,486.5 1070.4,486.3 1070.9,487.7 1071.4,485.4 1071.4,485.4 1071.9,487.0 1072.4,485.3 1072.9,489.2 1073.4,486.7 1073.4,486.7 1073.9,486.8 1074.4,488.1 1074.9,488.2 1075.3,487.0 1075.4,487.0 1075.9,489.1 1076.4,489.1 1076.9,487.4 1077.3,487.4 1077.4,488.6 1077.9,488.3 1078.4,488.0 1078.9,487.7 1079.3,487.2 1079.4,487.1 1079.9,487.2 1080.4,487.3 1080.9,485.9 1081.2,486.0 1081.4,487.0 1081.9,486.6 1082.4,486.3 1082.9,486.1 1083.2,486.7 1083.4,486.4 1083.9,486.8 1084.4,487.2 1084.9,485.7 1085.2,486.0 1085.4,486.1 1085.9,485.9 1086.4,485.7 1086.9,485.8 1087.1,485.7 1087.4,486.2 1087.9,486.5 1088.4,486.9 1088.9,489.5 1089.1,489.7 1089.4,489.5 1089.9,485.5 1090.4,485.2 1090.9,487.2 1091.1,487.1 1091.4,487.2 1091.9,487.1 1092.4,487.3 1092.9,489.0 1093.0,490.2 1093.4,490.1 1093.9,488.8 1094.4,488.7 1094.9,487.9 1095.0,487.8 1095.4,485.5 1095.9,486.5 1096.4,486.5 1096.9,486.6 1097.0,487.2 1097.4,487.0 1097.9,487.0 1098.4,487.7 1098.9,487.7 1098.9,487.7 1099.4,486.5 1099.9,486.3 1100.4,487.3 1100.9,487.1 1100.9,487.1 1101.4,487.8 1101.9,488.2 1102.4,485.6 1102.9,485.9 1102.9,485.9 1103.4,486.3 1103.9,486.8 1104.4,487.7 1104.8,486.3 1104.9,486.3 1105.4,486.7 1105.9,487.6 1106.4,488.0 1106.8,488.3 1106.9,487.4 1107.4,486.7 1107.9,486.9 1108.4,486.2 1108.8,485.7 1108.9,485.6 1109.4,485.9 1109.9,487.3 1110.4,486.6 1110.8,486.9 1110.9,486.9 1111.4,487.1 1111.9,487.4 1112.4,487.6 1112.7,487.8 1112.9,487.6 1113.4,487.6 1113.9,487.6 1114.4,488.5 1114.7,488.4 1114.9,488.2 1115.4,485.7 1115.9,485.2 1116.4,487.5 1116.7,484.3 1116.9,484.5 1117.4,486.2 1117.9,486.5 1118.4,487.9 1118.6,488.0 1118.9,488.0 1119.4,488.4 1119.9,487.3 1120.4,486.1 1120.6,486.1 1120.9,486.4 1121.4,486.4 1121.9,486.4 1122.4,488.1 1122.6,488.1 1122.9,488.0 1123.4,487.0 1123.9,486.9 1124.4,486.7 1124.5,486.7 1124.9,486.9 1125.4,486.8 1125.9,484.8 1126.4,484.6 1126.5,484.6 1126.9,487.6 1127.4,487.7 1127.9,487.7 1128.4,484.8 1128.5,484.8 1128.9,484.8 1129.4,486.4 1129.9,486.3 1130.4,486.3 1130.4,486.3 1130.9,486.2 1131.4,486.1 1131.9,484.6 1132.4,484.5 1132.4,488.6 1132.9,488.2 1133.4,484.7 1133.9,484.0 1134.4,483.6 1134.4,483.5 1134.9,482.8 1135.4,483.0 1135.9,482.4 1136.3,480.7 1136.4,480.6 1136.9,479.4 1137.4,477.6 1137.9,476.4 1138.3,475.4 1138.4,474.4 1138.9,469.6 1139.4,464.3 1139.9,458.0 1140.3,454.1 1140.4,450.7 1140.9,441.8 1141.4,430.8 1141.9,419.7 1142.2,410.0 1142.4,409.8 1142.9,400.8 1143.4,391.8 1143.9,382.3 1144.2,375.6 1144.4,379.3 1144.9,387.0 1145.4,396.1 1145.9,405.2 1146.2,411.7 1146.4,416.3 1146.9,427.5 1147.4,438.8 1147.9,451.3 1148.1,456.5 1148.4,460.0 1148.9,463.0 1149.4,470.6 1149.9,475.9 1150.1,477.3 1150.4,478.1 1150.9,479.4 1151.4,480.6 1151.9,480.7 1152.1,481.2 1152.4,482.6 1152.9,482.3 1153.4,482.9 1153.9,484.9 1154.0,484.1 1154.4,484.3 1154.9,484.4 1155.4,484.6 1155.9,482.7 1156.0,482.7 1156.4,484.1 1156.9,484.2 1157.4,484.3 1157.9,483.6 1158.0,485.9 1158.4,487.4 1158.9,484.4 1159.4,484.6 1159.9,485.7 1159.9,485.7 1160.4,485.7 1160.9,485.7 1161.4,485.4 1161.9,485.4 1161.9,485.7 1162.4,486.3 1162.9,486.8 1163.4,486.5 1163.9,487.0 1163.9,487.0 1164.4,486.8 1164.9,486.7 1165.4,486.7 1165.8,486.7 1165.9,486.7 1166.4,487.2 1166.9,486.2 1167.4,486.8 1167.8,487.1 1167.9,487.3 1168.4,487.2 1168.9,486.7 1169.4,489.0 1169.8,488.9 1169.9,488.9 1170.4,487.6 1170.9,487.4 1171.4,487.4 1171.7,487.3 1171.9,486.6 1172.4,486.8 1172.9,487.0 1173.4,486.9 1173.7,487.0 1173.9,487.0 1174.4,486.1 1174.9,487.0 1175.4,487.0 1175.7,487.0 1175.9,486.2 1176.4,486.2 1176.9,486.2 1177.4,486.0 1177.6,485.7 1177.9,485.9 1178.4,489.4 1178.9,489.6 1179.4,489.8 1179.6,487.6 1179.9,487.8 1180.4,485.7 1180.9,486.0 1181.4,488.5 1181.6,488.6 1181.9,488.6 1182.4,489.0 1182.9,489.3 1183.4,487.5 1183.5,487.5 1183.9,486.5 1184.4,488.1 1184.9,487.7 1185.4,487.3 1185.5,487.1 1185.9,486.3 1186.4,487.4 1186.9,486.5 1187.4,486.5 1187.5,486.5 1187.9,486.8 1188.4,486.8 1188.9,488.0 1189.4,488.0 1189.4,486.7 1189.9,486.5 1190.4,487.2 1190.9,487.0 1191.4,486.9 1191.4,486.8 1191.9,487.1 1192.4,487.5 1192.9,486.4 1193.4,487.5 1193.4,490.4 1193.9,490.2 1194.4,487.8 1194.9,487.7 1195.4,487.7 1195.4,486.9 1195.9,486.8 1196.4,487.3 1196.9,486.3 1197.3,486.3 1197.4,487.5 1197.9,487.6 1198.4,487.4 1198.9,487.5 1199.3,488.4 1199.4,488.3 1199.9,488.2 1200.4,488.8 1200.9,486.5 1201.3,487.8 1201.4,488.8 1201.9,488.9 1202.4,488.9 1202.9,486.7 1203.2,486.7 1203.4,486.8 1203.9,487.4 1204.4,487.7 1204.9,487.3 1205.2,487.5 1205.4,487.5 1205.9,487.2 1206.4,487.2 1206.9,487.8 1207.2,487.7 1207.4,488.6 1207.9,486.2 1208.4,486.0 1208.9,485.9 1209.1,486.3 1209.4,486.1 1209.9,485.8 1210.4,486.1 1210.9,485.9 1211.1,485.7 1211.4,486.1 1211.9,486.8 1212.4,489.5 1212.9,489.2 1213.1,488.7 1213.4,487.8 1213.9,487.4 1214.4,487.1 1214.9,489.1 1215.0,489.0 1215.4,489.0 1215.9,489.0 1216.4,490.4 1216.9,490.5 1217.0,490.5 1217.4,487.1 1217.9,486.0 1218.4,486.2 1218.9,485.9 1219.0,485.8 1219.4,487.8 1219.9,488.4 1220.4,487.9 1220.9,488.1 1220.9,488.2 1221.4,490.0 1221.9,490.0 1222.4,490.1 1222.9,488.4 1222.9,489.3 1223.4,489.0 1223.9,488.9 1224.4,488.2 1224.9,488.2 1224.9,488.7 1225.4,488.8 1225.9,487.9 1226.4,488.1 1226.8,488.6 1226.9,488.5 1227.4,488.0 1227.9,486.7 1228.4,486.1 1228.8,485.8 1228.9,486.0 1229.4,486.5 1229.9,487.1 1230.4,485.4 1230.8,489.0 1230.9,488.3 1231.4,488.0 1231.9,487.7 1232.4,486.7 1232.7,486.5 1232.9,485.6 1233.4,485.6 1233.9,487.2 1234.4,485.5 1234.7,487.2 1234.9,488.9 1235.4,489.0 1235.9,489.1 1236.4,486.8 1236.7,486.7 1236.9,486.7 1237.4,486.8 1237.9,488.0 1238.4,488.1 1238.6,488.2 1238.9,489.7 1239.4,489.7 1239.9,489.7 1240.4,488.6 1240.6,488.0 1240.9,488.0 1241.4,487.9 1241.9,486.3 1242.4,487.2 1242.6,487.2 1242.9,487.6 1243.4,487.8 1243.9,488.5 1244.4,488.7 1244.5,487.3 1244.9,487.5 1245.4,487.9 1245.9,488.7 1246.4,489.1 1246.5,489.4 1246.9,490.6 1247.4,488.1 1247.9,488.8 1248.4,488.4 1248.5,485.4 1248.9,485.3 1249.4,486.4 1249.9,487.8 1250.4,485.8 1250.4,485.8 1250.9,486.1 1251.4,487.0 1251.9,487.3 1252.4,490.5 1252.4,490.5 1252.9,490.4 1253.4,489.9 1253.9,488.0 1254.4,488.8 1254.4,487.9 1254.9,487.6 1255.4,488.1 1255.9,487.8 1256.3,488.1 1256.4,488.2 1256.9,487.0 1257.4,487.4 1257.9,487.8 1258.3,489.1 1258.4,489.0 1258.9,488.5 1259.4,487.4 1259.9,488.4 1260.3,488.0 1260.4,488.1 1260.9,486.5 1261.4,486.8 1261.9,487.1 1262.2,488.2 1262.4,488.3 1262.9,488.6 1263.4,487.3 1263.9,487.6 1264.2,489.2 1264.4,489.8 1264.9,488.1 1265.4,487.6 1265.9,487.6 1266.2,487.3 1266.4,487.3 1266.9,486.9 1267.4,488.1 1267.9,485.8 1268.1,485.9 1268.4,489.7 1268.9,489.6 1269.4,485.6 1269.9,485.6 1270.1,486.9 1270.4,487.1 1270.9,487.5 1271.4,487.1 1271.9,486.8 1272.1,487.0 1272.4,486.7 1272.9,487.3 1273.4,488.4 1273.9,488.1 1274.0,486.6 1274.4,489.3 1274.9,489.4 1275.4,486.8 1275.9,487.6 1276.0,488.9 1276.4,489.0 1276.9,490.1 1277.4,490.2 1277.9,487.5 1278.0,487.5 1278.4,487.8 1278.9,487.9 1279.4,488.8 1279.9,488.9 1279.9,488.9 1280.4,488.6 1280.9,488.5 1281.4,488.5 1281.9,488.8 1281.9,487.7 1282.4,488.6 1282.9,488.3 1283.4,488.0 1283.9,487.9 1283.9,487.8 1284.4,487.7 1284.9,487.2 1285.4,484.4 1285.9,484.4 1285.9,486.7 1286.4,487.2 1286.9,486.2 1287.4,486.8 1287.8,489.2 1287.9,489.2 1288.4,489.0 1288.9,488.8 1289.4,487.8 1289.8,487.7 1289.9,488.5 1290.4,488.7 1290.9,488.4 1291.4,488.5 1291.8,488.0 1291.9,488.0 1292.4,487.7 1292.9,488.4 1293.4,488.1 1293.7,486.4 1293.9,486.4 1294.4,487.3 1294.9,487.4 1295.4,487.5 1295.7,489.7 1295.9,489.4 1296.4,489.7 1296.9,485.7 1297.4,485.9 1297.7,486.1 1297.9,489.2 1298.4,488.7 1298.9,486.4 1299.4,485.9 1299.6,485.7 1299.9,486.4 1300.4,486.6 1300.9,486.8 1301.4,487.1 1301.6,487.2 1301.9,487.0 1302.4,484.7 1302.9,485.9 1303.4,485.6 1303.6,485.5 1303.9,486.6 1304.4,487.1 1304.9,487.6 1305.4,488.1 1305.5,488.2 1305.9,488.0 1306.4,488.0 1306.9,487.2 1307.4,486.3 1307.5,487.0 1307.9,486.9 1308.4,487.0 1308.9,487.0 1309.4,486.8 1309.5,486.8 1309.9,487.1 1310.4,487.2 1310.9,487.1 1311.4,485.9 1311.4,485.9 1311.9,486.2 1312.4,486.5 1312.9,487.0 1313.4,488.1 1313.4,488.1 1313.9,488.1 1314.4,488.7 1314.9,487.3 1315.4,487.3 1315.4,487.2 1315.9,487.1 1316.4,487.1 1316.9,487.3 1317.3,487.3 1317.4,487.3 1317.9,488.7 1318.4,488.9 1318.9,487.7 1319.3,487.9 1319.4,488.8 1319.9,489.5 1320.4,489.1 1320.9,486.8 1321.3,486.7 1321.4,486.8 1321.9,486.3 1322.4,488.3 1322.9,487.0 1323.2,487.2 1323.4,487.0 1323.9,487.1 1324.4,487.5 1324.9,488.6 1325.2,488.7 1325.4,488.6 1325.9,487.8 1326.4,487.4 1326.9,488.0 1327.2,486.2 1327.4,486.3 1327.9,486.6 1328.4,486.4 1328.9,489.1 1329.1,489.2 1329.4,488.1 1329.9,488.3 1330.4,488.4 1330.9,489.5 1331.1,489.5 1331.4,489.2 1331.9,487.5 1332.4,487.0 1332.9,486.4 1333.1,486.2 1333.4,484.9 1333.9,485.0 1334.4,487.4 1334.9,487.5 1335.0,486.8 1335.4,486.9 1335.9,486.7 1336.4,486.6 1336.9,486.4 1337.0,486.4 1337.4,486.6 1337.9,488.4 1338.4,488.7 1338.9,487.4 1339.0,487.4 1339.4,488.1 1339.9,488.3 1340.4,487.8 1340.9,488.0 1340.9,488.1 1341.4,489.0 1341.9,488.4 1342.4,486.4 1342.9,485.8 1342.9,485.8 1343.4,486.2 1343.9,486.5 1344.4,486.7 1344.9,487.4 1344.9,487.4 1345.4,487.4 1345.9,487.9 1346.4,487.1 1346.8,487.5 1346.9,487.4 1347.4,489.0 1347.9,488.4 1348.4,488.2 1348.8,487.7 1348.9,486.6 1349.4,486.9 1349.9,488.2 1350.4,488.5 1350.8,488.2 1350.9,488.2 1351.4,489.5 1351.9,489.5 1352.4,487.7 1352.7,487.7 1352.9,488.4 1353.4,488.0 1353.9,487.8 1354.4,487.6 1354.7,487.6 1354.9,487.7 1355.4,487.4 1355.9,489.3 1356.4,489.5 1356.7,488.3 1356.9,488.2 1357.4,488.1 1357.9,487.1 1358.4,486.8 1358.6,487.8 1358.9,485.8 1359.4,485.8 1359.9,487.5 1360.4,487.4 1360.6,487.7 1360.9,487.7 1361.4,487.7 1361.9,486.4 1362.4,486.4 1362.6,485.6 1362.9,485.8 1363.4,488.7 1363.9,488.9 1364.4,488.3 1364.5,488.3 1364.9,489.2 1365.4,489.0 1365.9,488.8 1366.4,488.9 1366.5,488.8 1366.9,485.9 1367.4,485.8 1367.9,485.7 1368.4,485.6 1368.5,487.4 1368.9,487.4 1369.4,487.5 1369.9,488.1 1370.4,486.5 1370.4,486.5 1370.9,487.1 1371.4,487.3 1371.9,488.7 1372.4,488.9 1372.4,488.9 1372.9,487.4 1373.4,487.4 1373.9,487.4 1374.4,488.4 1374.4,488.4 1374.9,488.1 1375.4,486.5 1375.9,486.2 1376.4,486.7 1376.4,486.7 1376.9,487.1 1377.4,487.8 1377.9,488.2 1378.3,488.0 1378.4,487.9 1378.9,486.1 1379.4,485.7 1379.9,488.4 1380.3,488.1 1380.4,487.2 1380.9,487.4 1381.4,485.8 1381.9,485.6 1382.3,487.2 1382.4,487.2 1382.9,487.5 1383.4,484.4 1383.9,484.7 1384.2,484.9 1384.4,488.2 1384.9,488.8 1385.4,488.9 1385.9,489.1 1386.2,486.2 1386.4,486.3 1386.9,488.2 1387.4,488.3 1387.9,488.3 1388.2,488.0 1388.4,486.4 1388.9,486.0 1389.4,485.6 1389.9,486.7 1390.1,486.5 1390.4,486.2 1390.9,486.3 1391.4,486.4 1391.9,487.0 1392.1,487.0 1392.4,487.2 1392.9,486.9 1393.4,487.2 1393.9,488.1 1394.1,488.1 1394.4,488.0 1394.9,488.5 1395.4,487.9 1395.9,487.8 1396.0,488.3 1396.4,488.4 1396.9,488.5 1397.4,488.8 1397.9,489.0 1398.0,487.5 1398.4,487.5 1398.9,488.2 1399.4,487.4 1399.9,487.7 1400.0,487.7 1400.4,487.3 1400.9,486.6 1401.4,487.4 1401.9,487.0 1401.9,487.0 1402.4,486.9 1402.9,487.0 1403.4,487.1 1403.9,487.2 1403.9,487.2 1404.4,487.9 1404.9,487.6 1405.4,488.7 1405.9,487.0 1405.9,487.0 1406.4,486.8 1406.9,486.2 1407.4,488.2 1407.8,487.7 1407.9,487.7 1408.4,485.7 1408.9,486.3 1409.4,488.6 1409.8,489.1 1409.9,487.6 1410.4,488.0 1410.9,487.8 1411.4,487.6 1411.8,487.8 1411.9,488.6 1412.4,488.5 1412.9,488.3 1413.4,485.9 1413.7,485.8 1413.9,486.0 1414.4,487.5 1414.9,488.1 1415.4,488.6 1415.7,487.7 1415.9,487.4 1416.4,488.2 1416.9,488.0 1417.4,488.2 1417.7,487.9 1417.9,484.9 1418.4,485.8 1418.9,485.8 1419.4,487.0 1419.6,487.1 1419.9,488.7 1420.4,488.8 1420.9,488.4 1421.4,488.4 1421.6,485.7 1421.9,488.1 1422.4,488.1 1422.9,488.0 1423.4,488.0 1423.6,486.0 1423.9,486.1 1424.4,486.2 1424.9,487.8 1425.4,488.0 1425.5,488.0 1425.9,488.0 1426.4,488.5 1426.9,488.3 1427.4,488.3 1427.5,488.4 1427.9,488.1 1428.4,486.9 1428.9,486.4 1429.4,484.5 1429.5,485.4 1429.9,486.0 1430.4,486.6 1430.9,486.9 1431.4,487.5 1431.4,487.6 1431.9,488.0 1432.4,488.0 1432.9,488.0 1433.4,488.1 1433.4,488.1 1433.9,486.9 1434.4,486.9 1434.9,486.8 1435.4,487.9 1435.4,487.9 1435.9,487.9 1436.4,487.8 1436.9,487.7 1437.3,488.0 1437.4,488.0 1437.9,487.7 1438.4,487.3 1438.9,487.0 1439.3,486.8 1439.4,486.9 1439.9,487.4 1440.4,487.8 1440.9,488.6 1441.3,488.9 1441.4,488.8 1441.9,486.8 1442.4,486.6 1442.9,488.5 1443.2,488.4 1443.4,488.4 1443.9,487.3 1444.4,487.2 1444.9,487.5 1445.2,487.5 1445.4,487.5 1445.9,488.8 1446.4,489.0 1446.9,488.0 1447.2,488.2 1447.4,488.2 1447.9,487.5 1448.4,487.2 1448.9,488.4 1449.1,488.4 1449.4,488.3 1449.9,486.2 1450.4,485.9 1450.9,487.0 1451.1,486.9 1451.4,488.6 1451.9,488.6 1452.4,488.5 1452.9,486.2 1453.1,486.3 1453.4,486.5 1453.9,486.8 1454.4,488.1 1454.9,486.8 1455.0,486.9 1455.4,487.7 1455.9,487.6 1456.4,487.7 1456.9,487.8 1457.0,488.0 1457.4,487.8 1457.9,486.8 1458.4,486.5 1458.9,486.8 1459.0,486.1 1459.4,486.2 1459.9,486.4 1460.4,486.5 1460.9,486.4 1460.9,488.2 1461.4,487.9 1461.9,487.9 1462.4,487.9 1462.9,489.8 1462.9,489.8 1463.4,487.7 1463.9,488.0 1464.4,488.2 1464.9,487.3 1464.9,487.3 1465.4,487.1 1465.9,487.4 1466.4,487.2 1466.9,487.2 1466.9,486.4 1467.4,486.0 1467.9,486.4 1468.4,486.0 1468.8,488.2 1468.9,486.2 1469.4,486.3 1469.9,486.5 1470.4,486.6 1470.8,486.8 1470.9,485.9 1471.4,487.1 1471.9,487.5 1472.4,487.8 1472.8,489.2 1472.9,489.2 1473.4,489.2 1473.9,489.1 1474.4,489.1 1474.7,489.1 1474.9,489.7 1475.4,489.7 1475.9,489.2 1476.4,489.2 1476.7,488.7 1476.9,488.6 1477.4,488.3 1477.9,487.6 1478.4,487.4 1478.7,488.8 1478.9,488.7 1479.4,488.6 1479.9,487.2 1480.4,487.0 1480.6,487.0 1480.9,488.4 1481.4,485.7 1481.9,487.6 1482.4,487.9 1482.6,488.8 1482.9,488.7 1483.4,486.7 1483.9,486.6 1484.4,486.4 1484.6,488.7 1484.9,488.7 1485.4,487.1 1485.9,487.1 1486.4,487.9 1486.5,487.9 1486.9,487.9 1487.4,486.9 1487.9,486.9 1488.4,486.0 1488.5,486.0 1488.9,486.2 1489.4,488.8 1489.9,486.4 1490.4,486.6 1490.5,486.6 1490.9,486.9 1491.4,486.7 1491.9,486.4 1492.4,487.5 1492.4,485.7 1492.9,486.8 1493.4,486.9 1493.9,487.0 1494.4,486.6 1494.4,486.6 1494.9,489.2 1495.4,489.6 1495.9,487.4 1496.4,487.8 1496.4,487.7 1496.9,489.7 1497.4,489.4 1497.9,487.8 1498.3,487.5 1498.4,487.5 1498.9,486.8 1499.4,487.0 1499.9,487.2 1500.3,488.8 1500.4,488.7 1500.9,488.5 1501.4,486.9 1501.9,486.7 1502.3,486.6 1502.4,488.0 1502.9,488.1 1503.4,486.9 1503.9,486.9 1504.2,488.6 1504.4,488.6 1504.9,487.4 1505.4,488.1 1505.9,487.9 1506.2,487.8 1506.4,489.0 1506.9,489.3 1507.4,489.7 1507.9,488.4 1508.2,490.5 1508.4,490.3 1508.9,489.0 1509.4,488.6 1509.9,488.2 1510.1,487.2 1510.4,487.1 1510.9,487.1 1511.4,486.1 1511.9,486.0 1512.1,486.0 1512.4,486.0 1512.9,485.9 1513.4,485.9 1513.9,485.9 1514.1,488.3 1514.4,488.2 1514.9,488.1 1515.4,485.7 1515.9,485.6 1516.0,485.5 1516.4,486.9 1516.9,487.1 1517.4,487.4 1517.9,486.8 1518.0,486.9 1518.4,487.4 1518.9,486.6 1519.4,486.1 1519.9,485.6 1520.0,485.4 1520.4,484.6 1520.9,484.5 1521.4,484.0 1521.9,483.5 1521.9,482.7 1522.4,482.2 1522.9,482.3 1523.4,481.2 1523.9,480.6 1523.9,479.0 1524.4,477.5 1524.9,475.9 1525.4,475.3 1525.9,473.8 1525.9,473.7 1526.4,472.2 1526.9,470.9 1527.4,469.1 1527.8,467.6 1527.9,467.6 1528.4,468.3 1528.9,469.0 1529.4,469.1 1529.8,469.6 1529.9,470.3 1530.4,471.9 1530.9,473.6 1531.4,476.9 1531.8,478.1 1531.9,478.0 1532.4,479.1 1532.9,480.1 1533.4,480.7 1533.7,481.4 1533.9,481.6 1534.4,482.1 1534.9,483.3 1535.4,483.8 1535.7,484.2 1535.9,483.3 1536.4,487.0 1536.9,487.7 1537.4,488.3 1537.7,487.3 1537.9,486.2 1538.4,486.3 1538.9,484.9 1539.4,486.6 1539.6,486.7 1539.9,486.8 1540.4,487.5 1540.9,487.7 1541.4,486.3 1541.6,488.7 1541.9,488.5 1542.4,488.0 1542.9,487.6 1543.4,486.6 1543.6,486.9 1543.9,487.2 1544.4,487.2 1544.9,487.0 1545.4,487.5 1545.5,489.1 1545.9,488.9 1546.4,487.7 1546.9,487.6 1547.4,487.7 1547.5,487.5 1547.9,487.6 1548.4,487.7 1548.9,486.6 1549.4,486.7 1549.5,486.7 1549.9,488.4 1550.4,488.6 1550.9,488.9 1551.4,487.6 1551.4,487.7 1551.9,487.9 1552.4,487.5 1552.9,487.2 1553.4,486.7 1553.4,488.6 1553.9,488.5 1554.4,488.5 1554.9,487.8 1555.4,487.8 1555.4,487.8 1555.9,486.7 1556.4,486.7 1556.9,486.6 1557.4,487.3 1557.4,489.5 1557.9,486.5 1558.4,486.3 1558.9,486.6 1559.3,486.5 1559.4,485.8 1559.9,485.6 1560.4,485.8 1560.9,486.5 1561.3,486.6 1561.4,486.6 1561.9,485.6 1562.4,485.4 1562.9,484.9 1563.3,484.8 1563.4,484.8 1563.9,485.7 1564.4,485.8 1564.9,485.8 1565.2,486.8 1565.4,484.5 1565.9,484.4 1566.4,487.6 1566.9,486.7 1567.2,486.6 1567.4,485.4 1567.9,485.9 1568.4,486.2 1568.9,486.9 1569.2,487.2 1569.4,487.1 1569.9,487.5 1570.4,489.4 1570.9,487.8 1571.1,487.7 1571.4,488.4 1571.9,488.2 1572.4,488.7 1572.9,488.9 1573.1,488.8 1573.4,488.6 1573.9,486.8 1574.4,486.4 1574.9,486.1 1575.1,487.8 1575.4,487.8 1575.9,485.9 1576.4,488.6 1576.9,488.7 1577.0,486.2 1577.4,486.2 1577.9,487.4 1578.4,486.2 1578.9,488.4 1579.0,488.4 1579.4,488.4 1579.9,487.3 1580.4,487.3 1580.9,487.0 1581.0,488.1 1581.4,488.6 1581.9,489.1 1582.4,488.7 1582.9,488.6 1582.9,488.7 1583.4,488.0 1583.9,487.2 1584.4,485.3 1584.9,484.5 1584.9,484.5 1585.4,486.8 1585.9,487.6 1586.4,487.9 1586.9,488.6 1586.9,487.5 1587.4,487.5 1587.9,489.5 1588.4,489.5 1588.8,489.4 1588.9,487.3 1589.4,487.0 1589.9,486.7 1590.4,488.1 1590.8,487.9 1590.9,487.9 1591.4,487.0 1591.9,487.1 1592.4,488.4 1592.8,488.4 1592.9,488.5 1593.4,486.2 1593.9,488.5 1594.4,488.8 1594.7,489.0 1594.9,488.6 1595.4,488.3 1595.9,488.1 1596.4,488.0 1596.7,487.8 1596.9,487.7 1597.4,488.6 1597.9,488.2 1598.4,486.9 1598.7,487.6 1598.9,487.7 1599.4,488.0 1599.9,487.0 1600.4,487.3 1600.6,485.5 1600.9,485.7 1601.4,488.8 1601.9,489.2 1602.4,488.9 1602.6,489.0 1602.9,488.8 1603.4,487.4 1603.9,487.0 1604.4,486.6 1604.6,486.5 1604.9,486.8 1605.4,487.1 1605.9,487.5 1606.4,488.3 1606.5,488.4 1606.9,488.1 1607.4,486.5 1607.9,486.2 1608.4,485.9 1608.5,487.3 1608.9,487.5 1609.4,487.2 1609.9,487.4 1610.4,487.6 1610.5,488.6 1610.9,488.4 1611.4,487.9 1611.9,487.7 1612.4,487.4 1612.4,486.1 1612.9,486.0 1613.4,486.8 1613.9,486.7 1614.4,486.7 1614.4,486.7 1614.9,487.1 1615.4,486.3 1615.9,486.5 1616.4,486.5 1616.4,486.5 1616.9,485.6 1617.4,485.3 1617.9,485.0 1618.3,485.4 1618.4,485.4 1618.9,486.9 1619.4,486.4 1619.9,486.9 1620.3,486.3 1620.4,486.2 1620.9,486.2 1621.4,485.7 1621.9,485.3 1622.3,485.8 1622.4,485.9 1622.9,486.3 1623.4,488.5 1623.9,486.6 1624.2,486.8 1624.4,486.8 1624.9,488.3 1625.4,488.1 1625.9,487.0 1626.2,486.9 1626.4,487.8 1626.9,488.0 1627.4,487.2 1627.9,487.8 1628.2,488.0 1628.4,488.1 1628.9,486.9 1629.4,487.0 1629.9,488.9 1630.1,489.0 1630.4,488.9 1630.9,488.1 1631.4,487.8 1631.9,487.8 1632.1,487.7 1632.4,487.7 1632.9,486.0 1633.4,486.0 1633.9,485.9 1634.1,487.1 1634.4,487.2 1634.9,487.3 1635.4,487.1 1635.9,487.2 1636.0,487.2 1636.4,487.5 1636.9,487.7 1637.4,487.7 1637.9,487.4 1638.0,487.7 1638.4,487.8 1638.9,488.2 1639.4,488.9 1639.9,487.7 1640.0,487.4 1640.4,487.2 1640.9,487.3 1641.4,487.1 1641.9,487.1 1642.0,487.1 1642.4,488.6 1642.9,488.9 1643.4,487.3 1643.9,487.5 1643.9,487.5"/>
<polyline fill="none" stroke="#454545" stroke-width="3.9" stroke-linejoin="round" points="166.4,1213.6 166.9,1213.5 167.4,1213.2 167.9,1213.0 168.4,1211.8 168.4,1211.8 168.9,1212.6 169.4,1213.0 169.9,1213.5 170.3,1213.9 170.4,1213.9 170.9,1215.1 171.4,1215.1 171.9,1213.7 172.3,1213.7 172.4,1213.7 172.9,1212.7 173.4,1212.6 173.9,1212.4 174.3,1213.6 174.4,1213.6 174.9,1213.7 175.4,1214.0 175.9,1213.6 176.2,1213.7 176.4,1213.8 176.9,1214.0 177.4,1214.2 177.9,1214.4 178.2,1213.9 178.4,1213.4 178.9,1213.2 179.4,1213.1 179.9,1216.2 180.2,1216.2 180.4,1216.2 180.9,1214.7 181.4,1213.5 181.9,1212.1 182.1,1212.1 182.4,1213.1 182.9,1213.1 183.4,1215.3 183.9,1215.3 184.1,1214.3 184.4,1214.1 184.9,1213.8 185.4,1212.8 185.9,1212.2 186.1,1212.7 186.4,1213.5 186.9,1213.8 187.4,1213.7 187.9,1214.0 188.0,1213.5 188.4,1215.1 188.9,1214.6 189.4,1213.3 189.9,1211.7 190.0,1210.6 190.4,1210.8 190.9,1211.1 191.4,1213.4 191.9,1213.6 192.0,1212.0 192.4,1213.3 192.9,1213.2 193.4,1213.7 193.9,1213.7 193.9,1213.7 194.4,1213.7 194.9,1211.7 195.4,1211.5 195.9,1211.2 195.9,1213.2 196.4,1213.1 196.9,1213.4 197.4,1213.7 197.9,1214.0 197.9,1214.0 198.4,1213.9 198.9,1214.2 199.4,1214.5 199.8,1214.5 199.9,1214.5 200.4,1214.1 200.9,1213.8 201.4,1213.4 201.8,1213.1 201.9,1214.4 202.4,1211.9 202.9,1212.6 203.4,1212.4 203.8,1212.3 203.9,1213.2 204.4,1213.4 204.9,1213.6 205.4,1212.7 205.7,1212.8 205.9,1212.9 206.4,1214.7 206.9,1214.9 207.4,1214.1 207.7,1214.4 207.9,1214.3 208.4,1213.7 208.9,1213.6 209.4,1213.5 209.7,1213.5 209.9,1213.5 210.4,1214.0 210.9,1213.9 211.4,1212.9 211.7,1212.9 211.9,1212.8 212.4,1211.2 212.9,1210.9 213.4,1210.7 213.6,1214.1 213.9,1212.2 214.4,1213.0 214.9,1213.3 215.4,1213.6 215.6,1213.2 215.9,1214.6 216.4,1214.9 216.9,1213.9 217.4,1213.9 217.6,1216.3 217.9,1216.4 218.4,1216.5 218.9,1215.5 219.4,1215.6 219.5,1215.7 219.9,1213.7 220.4,1216.1 220.9,1216.1 221.4,1216.1 221.5,1216.3 221.9,1216.2 222.4,1216.1 222.9,1215.3 223.4,1215.2 223.5,1214.3 223.9,1214.5 224.4,1214.1 224.9,1212.0 225.4,1211.6 225.4,1211.6 225.9,1213.2 226.4,1213.2 226.9,1213.2 227.4,1213.8 227.4,1213.8 227.9,1212.3 228.4,1212.3 228.9,1212.4 229.4,1213.1 229.4,1213.1 229.9,1215.5 230.4,1215.8 230.9,1216.0 231.3,1212.1 231.4,1212.1 231.9,1211.9 232.4,1213.5 232.9,1213.3 233.3,1212.6 233.4,1212.6 233.9,1213.6 234.4,1213.9 234.9,1214.8 235.3,1215.0 235.4,1215.0 235.9,1214.3 236.4,1214.1 236.9,1213.4 237.2,1213.3 237.4,1213.8 237.9,1213.7 238.4,1213.7 238.9,1213.6 239.2,1212.8 239.4,1212.8 239.9,1212.9 240.4,1212.8 240.9,1214.5 241.2,1214.5 241.4,1214.7 241.9,1214.3 242.4,1213.0 242.9,1211.8 243.1,1211.7 243.4,1211.3 243.9,1212.4 244.4,1209.3 244.9,1208.8 245.1,1208.6 245.4,1207.4 245.9,1211.7 246.4,1212.2 246.9,1212.7 247.1,1211.7 247.4,1211.7 247.9,1211.6 248.4,1211.6 248.9,1210.4 249.0,1210.4 249.4,1210.7 249.9,1211.1 250.4,1211.2 250.9,1211.6 251.0,1212.7 251.4,1212.6 251.9,1212.0 252.4,1213.9 252.9,1213.7 253.0,1213.7 253.4,1213.9 253.9,1213.8 254.4,1212.6 254.9,1212.7 254.9,1212.7 255.4,1212.8 255.9,1212.6 256.4,1212.8 256.9,1215.1 256.9,1215.1 257.4,1213.4 257.9,1211.7 258.4,1214.8 258.9,1214.6 258.9,1214.7 259.4,1213.6 259.9,1213.7 260.4,1214.0 260.8,1214.3 260.9,1213.9 261.4,1213.9 261.9,1214.0 262.4,1213.6 262.8,1212.8 262.9,1214.6 263.4,1214.7 263.9,1214.8 264.4,1214.7 264.8,1214.8 264.9,1214.9 265.4,1215.5 265.9,1215.6 266.4,1215.4 266.7,1215.5 266.9,1214.8 267.4,1214.4 267.9,1214.1 268.4,1213.5 268.7,1213.3 268.9,1213.3 269.4,1214.6 269.9,1213.5 270.4,1213.5 270.7,1213.5 270.9,1215.4 271.4,1214.1 271.9,1214.0 272.4,1213.9 272.6,1212.6 272.9,1212.6 273.4,1212.6 273.9,1213.5 274.4,1214.2 274.6,1214.4 274.9,1214.3 275.4,1214.2 275.9,1212.8 276.4,1212.7 276.6,1212.6 276.9,1212.2 277.4,1213.8 277.9,1214.1 278.4,1213.2 278.5,1213.3 278.9,1213.3 279.4,1213.2 279.9,1212.6 280.4,1212.6 280.5,1212.6 280.9,1212.1 281.4,1211.9 281.9,1211.8 282.4,1212.8 282.5,1212.8 282.9,1211.9 283.4,1212.3 283.9,1212.6 284.4,1212.5 284.4,1212.7 284.9,1212.9 285.4,1213.0 285.9,1213.2 286.4,1213.4 286.4,1213.4 286.9,1213.5 287.4,1212.7 287.9,1213.5 288.4,1213.6 288.4,1213.6 288.9,1216.4 289.4,1216.2 289.9,1216.0 290.3,1212.2 290.4,1212.2 290.9,1213.4 291.4,1215.4 291.9,1215.4 292.3,1215.4 292.4,1213.1 292.9,1212.9 293.4,1214.1 293.9,1214.0 294.3,1213.9 294.4,1212.3 294.9,1212.4 295.4,1212.6 295.9,1212.6 296.2,1213.6 296.4,1213.6 296.9,1214.0 297.4,1214.0 297.9,1213.9 298.2,1214.7 298.4,1214.7 298.9,1211.7 299.4,1211.7 299.9,1211.7 300.2,1212.4 300.4,1212.4 300.9,1213.9 301.4,1213.8 301.9,1211.6 302.2,1211.6 302.4,1213.5 302.9,1213.7 303.4,1213.1 303.9,1213.3 304.1,1213.0 304.4,1213.6 304.9,1213.8 305.4,1214.0 305.9,1215.6 306.1,1215.6 306.4,1213.5 306.9,1213.1 307.4,1214.3 307.9,1213.9 308.1,1213.6 308.4,1213.0 308.9,1214.0 309.4,1214.5 309.9,1214.9 310.0,1214.2 310.4,1214.0 310.9,1213.7 311.4,1213.3 311.9,1213.6 312.0,1212.7 312.4,1213.8 312.9,1213.8 313.4,1214.9 313.9,1214.7 314.0,1214.7 314.4,1214.5 314.9,1213.7 315.4,1213.4 315.9,1213.1 315.9,1212.0 316.4,1211.9 316.9,1213.9 317.4,1213.9 317.9,1213.8 317.9,1211.6 318.4,1212.5 318.9,1213.0 319.4,1213.6 319.9,1214.2 319.9,1214.2 320.4,1213.9 320.9,1213.5 321.4,1213.2 321.8,1213.1 321.9,1213.1 322.4,1212.4 322.9,1213.0 323.4,1213.3 323.8,1214.4 323.9,1214.4 324.4,1215.6 324.9,1215.4 325.4,1214.3 325.8,1214.2 325.9,1211.8 326.4,1214.2 326.9,1214.3 327.4,1214.3 327.7,1213.8 327.9,1213.9 328.4,1214.0 328.9,1212.8 329.4,1213.0 329.7,1213.1 329.9,1215.0 330.4,1214.7 330.9,1215.0 331.4,1214.7 331.7,1214.4 331.9,1214.1 332.4,1213.6 332.9,1210.4 333.4,1209.8 333.6,1212.8 333.9,1212.9 334.4,1213.2 334.9,1212.8 335.4,1210.6 335.6,1210.7 335.9,1211.0 336.4,1213.4 336.9,1213.5 337.4,1214.0 337.6,1214.2 337.9,1215.9 338.4,1216.0 338.9,1215.5 339.4,1215.7 339.5,1216.6 339.9,1216.3 340.4,1215.9 340.9,1215.3 341.4,1215.0 341.5,1214.9 341.9,1215.0 342.4,1213.7 342.9,1214.1 343.4,1214.0 343.5,1213.7 343.9,1213.5 344.4,1213.4 344.9,1213.1 345.4,1213.0 345.4,1211.9 345.9,1212.2 346.4,1212.5 346.9,1214.4 347.4,1214.7 347.4,1215.2 347.9,1214.8 348.4,1212.7 348.9,1212.3 349.4,1213.2 349.4,1213.2 349.9,1213.4 350.4,1213.5 350.9,1212.7 351.3,1212.8 351.4,1211.6 351.9,1211.8 352.4,1212.1 352.9,1213.2 353.3,1213.4 353.4,1213.4 353.9,1214.5 354.4,1214.5 354.9,1214.1 355.3,1214.0 355.4,1215.2 355.9,1214.1 356.4,1212.7 356.9,1212.6 357.2,1212.6 357.4,1213.6 357.9,1213.8 358.4,1214.6 358.9,1214.8 359.2,1215.0 359.4,1214.1 359.9,1213.7 360.4,1213.2 360.9,1212.9 361.2,1214.1 361.4,1214.1 361.9,1214.1 362.4,1213.5 362.9,1212.1 363.1,1212.1 363.4,1213.1 363.9,1213.3 364.4,1213.4 364.9,1212.5 365.1,1212.5 365.4,1212.7 365.9,1212.8 366.4,1213.3 366.9,1213.3 367.1,1213.4 367.4,1212.2 367.9,1212.1 368.4,1213.5 368.9,1213.4 369.0,1215.0 369.4,1215.3 369.9,1215.7 370.4,1215.0 370.9,1215.4 371.0,1216.2 371.4,1215.8 371.9,1213.3 372.4,1212.9 372.9,1212.8 373.0,1214.4 373.4,1214.6 373.9,1214.8 374.4,1213.8 374.9,1215.7 374.9,1215.7 375.4,1215.5 375.9,1212.1 376.4,1211.9 376.9,1214.4 376.9,1214.4 377.4,1213.2 377.9,1213.4 378.4,1214.0 378.9,1214.2 378.9,1214.1 379.4,1214.4 379.9,1213.4 380.4,1213.2 380.8,1213.1 380.9,1212.9 381.4,1212.9 381.9,1214.1 382.4,1214.1 382.8,1212.8 382.9,1212.9 383.4,1213.1 383.9,1213.4 384.4,1213.9 384.8,1214.2 384.9,1214.1 385.4,1213.7 385.9,1213.3 386.4,1213.0 386.7,1213.0 386.9,1213.1 387.4,1212.9 387.9,1213.3 388.4,1213.7 388.7,1214.5 388.9,1214.4 389.4,1213.9 389.9,1214.0 390.4,1213.2 390.7,1212.9 390.9,1213.3 391.4,1213.3 391.9,1213.4 392.4,1213.3 392.7,1213.3 392.9,1213.5 393.4,1214.3 393.9,1214.6 394.4,1213.9 394.6,1213.8 394.9,1214.1 395.4,1213.7 395.9,1213.1 396.4,1212.9 396.6,1211.7 396.9,1213.4 397.4,1213.5 397.9,1213.7 398.4,1212.3 398.6,1212.3 398.9,1212.9 399.4,1213.2 399.9,1213.0 400.4,1213.3 400.5,1212.3 400.9,1212.3 401.4,1212.4 401.9,1214.2 402.4,1213.3 402.5,1213.3 402.9,1213.6 403.4,1215.4 403.9,1215.8 404.4,1215.8 404.5,1215.8 404.9,1214.3 405.4,1214.2 405.9,1213.8 406.4,1214.3 406.4,1214.3 406.9,1214.6 407.4,1214.4 407.9,1214.2 408.4,1214.3 408.4,1214.4 408.9,1214.8 409.4,1211.9 409.9,1212.3 410.4,1212.7 410.4,1215.2 410.9,1214.9 411.4,1214.7 411.9,1214.6 412.3,1214.6 412.4,1215.0 412.9,1214.7 413.4,1214.4 413.9,1215.0 414.3,1214.7 414.4,1214.8 414.9,1212.5 415.4,1214.0 415.9,1214.2 416.3,1212.4 416.4,1212.5 416.9,1212.8 417.4,1214.9 417.9,1215.2 418.2,1216.6 418.4,1216.5 418.9,1216.2 419.4,1213.6 419.9,1215.2 420.2,1215.0 420.4,1214.3 420.9,1214.1 421.4,1212.8 421.9,1212.5 422.2,1212.4 422.4,1214.3 422.9,1214.4 423.4,1214.6 423.9,1212.5 424.1,1212.5 424.4,1213.7 424.9,1213.7 425.4,1213.4 425.9,1213.4 426.1,1213.4 426.4,1214.2 426.9,1214.3 427.4,1214.4 427.9,1214.3 428.1,1214.7 428.4,1214.7 428.9,1215.4 429.4,1215.0 429.9,1214.4 430.0,1214.4 430.4,1213.9 430.9,1214.8 431.4,1214.4 431.9,1214.1 432.0,1214.6 432.4,1214.6 432.9,1213.0 433.4,1213.0 433.9,1213.9 434.0,1213.9 434.4,1214.1 434.9,1214.4 435.4,1214.7 435.9,1213.9 435.9,1215.5 436.4,1214.8 436.9,1214.8 437.4,1214.7 437.9,1216.0 437.9,1216.0 438.4,1214.3 438.9,1215.0 439.4,1215.2 439.9,1215.2 439.9,1215.2 440.4,1214.7 440.9,1213.7 441.4,1213.2 441.8,1212.7 441.9,1213.5 442.4,1213.6 442.9,1213.7 443.4,1214.9 443.8,1215.0 443.9,1215.1 444.4,1215.7 444.9,1216.1 445.4,1214.2 445.8,1214.4 445.9,1214.3 446.4,1213.3 446.9,1212.9 447.4,1214.0 447.7,1213.8 447.9,1213.3 448.4,1213.4 448.9,1213.6 449.4,1213.6 449.7,1213.7 449.9,1214.9 450.4,1214.8 450.9,1215.3 451.4,1212.2 451.7,1212.1 451.9,1212.1 452.4,1213.3 452.9,1213.2 453.4,1213.0 453.6,1212.7 453.9,1214.7 454.4,1215.1 454.9,1215.6 455.4,1213.7 455.6,1213.9 455.9,1213.7 456.4,1215.1 456.9,1214.8 457.4,1214.5 457.6,1214.4 457.9,1214.3 458.4,1214.2 458.9,1214.3 459.4,1214.2 459.5,1214.1 459.9,1215.8 460.4,1215.8 460.9,1213.7 461.4,1213.8 461.5,1213.1 461.9,1213.2 462.4,1213.3 462.9,1214.9 463.4,1213.0 463.5,1213.0 463.9,1213.9 464.4,1213.6 464.9,1213.2 465.4,1211.1 465.4,1211.1 465.9,1211.2 466.4,1214.8 466.9,1214.9 467.4,1215.1 467.4,1212.1 467.9,1212.1 468.4,1212.0 468.9,1212.5 469.4,1212.4 469.4,1212.4 469.9,1212.1 470.4,1211.9 470.9,1212.1 471.3,1210.6 471.4,1214.2 471.9,1214.8 472.4,1212.7 472.9,1213.2 473.3,1213.7 473.4,1215.3 473.9,1215.4 474.4,1215.5 474.9,1215.6 475.3,1213.8 475.4,1214.3 475.9,1214.2 476.4,1214.6 476.9,1214.8 477.2,1214.7 477.4,1214.6 477.9,1214.9 478.4,1214.4 478.9,1213.9 479.2,1213.0 479.4,1213.2 479.9,1214.6 480.4,1212.8 480.9,1213.2 481.2,1213.4 481.4,1214.0 481.9,1214.0 482.4,1213.9 482.9,1213.9 483.2,1214.0 483.4,1213.8 483.9,1212.9 484.4,1212.6 484.9,1213.9 485.1,1213.1 485.4,1213.3 485.9,1213.7 486.4,1213.9 486.9,1214.2 487.1,1213.9 487.4,1213.7 487.9,1214.7 488.4,1214.3 488.9,1213.0 489.1,1212.9 489.4,1212.9 489.9,1213.5 490.4,1213.5 490.9,1212.4 491.0,1212.0 491.4,1212.1 491.9,1215.3 492.4,1215.4 492.9,1213.9 493.0,1213.9 493.4,1213.9 493.9,1210.8 494.4,1212.4 494.9,1212.4 495.0,1212.4 495.4,1213.7 495.9,1211.5 496.4,1212.9 496.9,1212.5 496.9,1212.5 497.4,1212.8 497.9,1214.2 498.4,1214.6 498.9,1216.0 498.9,1214.7 499.4,1214.3 499.9,1212.9 500.4,1212.5 500.9,1214.0 500.9,1214.0 501.4,1212.4 501.9,1213.6 502.4,1213.8 502.8,1212.6 502.9,1213.6 503.4,1213.6 503.9,1213.4 504.4,1213.4 504.8,1213.3 504.9,1213.2 505.4,1213.8 505.9,1214.9 506.4,1215.4 506.8,1215.8 506.9,1215.4 507.4,1214.4 507.9,1214.2 508.4,1213.8 508.7,1213.9 508.9,1213.1 509.4,1213.3 509.9,1214.1 510.4,1214.3 510.7,1214.1 510.9,1214.2 511.4,1214.5 511.9,1215.0 512.4,1214.4 512.7,1213.9 512.9,1213.6 513.4,1213.1 513.9,1212.6 514.4,1212.1 514.6,1211.8 514.9,1213.4 515.4,1213.5 515.9,1212.9 516.4,1213.3 516.6,1213.3 516.9,1213.3 517.4,1212.6 517.9,1212.7 518.4,1212.8 518.6,1214.9 518.9,1214.8 519.4,1213.6 519.9,1213.4 520.4,1213.2 520.5,1213.8 520.9,1213.9 521.4,1214.4 521.9,1213.1 522.4,1212.6 522.5,1213.9 522.9,1213.6 523.4,1213.3 523.9,1213.3 524.4,1213.0 524.5,1213.0 524.9,1212.6 525.4,1212.9 525.9,1215.1 526.4,1215.4 526.4,1214.5 526.9,1214.4 527.4,1215.7 527.9,1215.6 528.4,1213.2 528.4,1213.2 528.9,1213.6 529.4,1213.5 529.9,1213.8 530.4,1213.8 530.4,1213.8 530.9,1214.4 531.4,1214.6 531.9,1214.7 532.3,1214.3 532.4,1215.8 532.9,1215.6 533.4,1215.4 533.9,1213.9 534.3,1214.7 534.4,1214.8 534.9,1215.0 535.4,1214.8 535.9,1212.7 536.3,1213.9 536.4,1213.8 536.9,1213.4 537.4,1212.3 537.9,1213.5 538.2,1212.5 538.4,1212.5 538.9,1210.7 539.4,1210.9 539.9,1213.4 540.2,1213.4 540.4,1213.6 540.9,1214.2 541.4,1214.5 541.9,1213.7 542.2,1213.9 542.4,1213.5 542.9,1214.2 543.4,1211.7 543.9,1211.9 544.1,1211.6 544.4,1212.4 544.9,1212.5 545.4,1213.0 545.9,1213.4 546.1,1214.8 546.4,1214.7 546.9,1212.4 547.4,1214.0 547.9,1213.9 548.1,1213.9 548.4,1213.8 548.9,1213.4 549.4,1213.3 549.9,1213.3 550.0,1213.9 550.4,1212.9 550.9,1213.3 551.4,1212.9 551.9,1212.9 552.0,1212.9 552.4,1212.0 552.9,1214.1 553.4,1211.9 553.9,1212.3 554.0,1213.0 554.4,1213.3 554.9,1213.4 555.4,1213.5 555.9,1213.0 555.9,1212.5 556.4,1212.9 556.9,1213.3 557.4,1213.8 557.9,1214.2 557.9,1215.4 558.4,1215.0 558.9,1214.9 559.4,1214.9 559.9,1213.8 559.9,1211.3 560.4,1211.1 560.9,1212.7 561.4,1212.5 561.8,1213.0 561.9,1213.0 562.4,1213.0 562.9,1212.8 563.4,1212.9 563.8,1212.4 563.9,1212.4 564.4,1215.2 564.9,1215.4 565.4,1215.5 565.8,1215.0 565.9,1215.0 566.4,1214.2 566.9,1212.4 567.4,1212.2 567.7,1212.5 567.9,1214.2 568.4,1214.1 568.9,1213.9 569.4,1213.1 569.7,1213.0 569.9,1213.1 570.4,1213.6 570.9,1215.4 571.4,1215.8 571.7,1215.9 571.9,1213.1 572.4,1212.9 572.9,1212.7 573.4,1214.1 573.7,1214.0 573.9,1214.1 574.4,1215.1 574.9,1213.0 575.4,1213.1 575.6,1214.2 575.9,1212.9 576.4,1213.0 576.9,1213.2 577.4,1212.7 577.6,1212.7 577.9,1214.1 578.4,1213.4 578.9,1213.5 579.4,1213.6 579.6,1213.0 579.9,1213.1 580.4,1213.3 580.9,1216.2 581.4,1216.4 581.5,1216.4 581.9,1214.9 582.4,1214.0 582.9,1213.7 583.4,1213.5 583.5,1214.6 583.9,1214.6 584.4,1214.6 584.9,1213.2 585.4,1213.2 585.5,1213.2 585.9,1215.5 586.4,1215.6 586.9,1215.7 587.4,1214.3 587.4,1214.3 587.9,1215.9 588.4,1215.8 588.9,1213.2 589.4,1213.1 589.4,1214.9 589.9,1214.5 590.4,1214.3 590.9,1214.0 591.4,1213.6 591.4,1213.4 591.9,1211.8 592.4,1214.2 592.9,1214.4 593.3,1214.6 593.4,1212.3 593.9,1214.6 594.4,1214.5 594.9,1213.6 595.3,1213.5 595.4,1212.3 595.9,1212.6 596.4,1213.5 596.9,1213.9 597.3,1214.1 597.4,1213.9 597.9,1214.0 598.4,1212.6 598.9,1216.2 599.2,1216.2 599.4,1216.2 599.9,1215.2 600.4,1215.0 600.9,1215.9 601.2,1213.4 601.4,1213.3 601.9,1214.1 602.4,1213.8 602.9,1213.6 603.2,1214.6 603.4,1211.2 603.9,1214.2 604.4,1212.8 604.9,1213.1 605.1,1214.8 605.4,1214.4 605.9,1214.1 606.4,1213.8 606.9,1213.8 607.1,1214.9 607.4,1213.5 607.9,1213.7 608.4,1213.9 608.9,1213.0 609.1,1213.0 609.4,1214.5 609.9,1211.9 610.4,1212.7 610.9,1212.4 611.0,1212.4 611.4,1213.4 611.9,1213.4 612.4,1213.0 612.9,1213.0 613.0,1211.4 613.4,1211.4 613.9,1213.2 614.4,1213.2 614.9,1212.6 615.0,1212.6 615.4,1213.5 615.9,1213.7 616.4,1212.5 616.9,1214.4 616.9,1214.2 617.4,1214.1 617.9,1211.7 618.4,1212.8 618.9,1212.6 618.9,1213.7 619.4,1213.9 619.9,1213.5 620.4,1214.7 620.9,1214.9 620.9,1214.9 621.4,1214.7 621.9,1214.4 622.4,1214.7 622.8,1214.4 622.9,1213.0 623.4,1213.3 623.9,1213.6 624.4,1212.8 624.8,1213.1 624.9,1214.6 625.4,1214.4 625.9,1213.5 626.4,1213.3 626.8,1213.2 626.9,1213.3 627.4,1214.6 627.9,1214.9 628.4,1215.3 628.7,1214.2 628.9,1214.2 629.4,1214.3 629.9,1214.3 630.4,1214.2 630.7,1216.2 630.9,1215.0 631.4,1214.8 631.9,1215.2 632.4,1214.9 632.7,1214.8 632.9,1212.9 633.4,1213.0 633.9,1213.2 634.4,1213.3 634.6,1212.8 634.9,1212.8 635.4,1212.8 635.9,1214.4 636.4,1214.4 636.6,1215.8 636.9,1215.9 637.4,1215.9 637.9,1213.5 638.4,1214.4 638.6,1214.5 638.9,1212.6 639.4,1212.5 639.9,1214.4 640.4,1214.3 640.5,1214.2 640.9,1215.0 641.4,1215.3 641.9,1215.5 642.4,1214.2 642.5,1214.3 642.9,1214.0 643.4,1213.8 643.9,1213.5 644.4,1213.2 644.5,1213.6 644.9,1213.4 645.4,1214.0 645.9,1213.8 646.4,1213.5 646.4,1213.3 646.9,1213.7 647.4,1214.0 647.9,1213.3 648.4,1213.8 648.4,1213.8 648.9,1214.9 649.4,1214.9 649.9,1214.3 650.4,1214.3 650.4,1215.0 650.9,1215.2 651.4,1214.8 651.9,1214.9 652.3,1215.1 652.4,1215.5 652.9,1215.4 653.4,1214.3 653.9,1214.3 654.3,1214.9 654.4,1214.9 654.9,1213.0 655.4,1212.9 655.9,1213.9 656.3,1213.8 656.4,1213.8 656.9,1215.1 657.4,1212.8 657.9,1212.8 658.2,1212.8 658.4,1213.4 658.9,1214.0 659.4,1214.0 659.9,1215.2 660.2,1213.1 660.4,1213.3 660.9,1213.1 661.4,1213.0 661.9,1213.3 662.2,1213.2 662.4,1214.8 662.9,1212.0 663.4,1211.4 663.9,1211.8 664.2,1213.3 664.4,1213.4 664.9,1211.7 665.4,1211.8 665.9,1211.8 666.1,1212.2 666.4,1212.2 666.9,1212.3 667.4,1212.3 667.9,1212.4 668.1,1212.5 668.4,1213.0 668.9,1212.5 669.4,1212.0 669.9,1208.8 670.1,1208.6 670.4,1211.4 670.9,1211.5 671.4,1210.5 671.9,1210.6 672.0,1210.6 672.4,1210.4 672.9,1210.0 673.4,1210.1 673.9,1209.1 674.0,1209.0 674.4,1209.0 674.9,1208.3 675.4,1208.9 675.9,1208.9 676.0,1210.0 676.4,1209.8 676.9,1209.9 677.4,1211.4 677.9,1211.5 677.9,1208.5 678.4,1210.8 678.9,1211.3 679.4,1211.1 679.9,1212.2 679.9,1211.1 680.4,1212.8 680.9,1211.0 681.4,1211.2 681.9,1213.2 681.9,1212.4 682.4,1212.8 682.9,1213.2 683.4,1214.7 683.8,1215.0 683.9,1215.0 684.4,1212.4 684.9,1212.1 685.4,1211.9 685.8,1214.1 685.9,1214.1 686.4,1213.7 686.9,1214.6 687.4,1214.6 687.8,1213.5 687.9,1213.5 688.4,1214.8 688.9,1214.9 689.4,1213.8 689.7,1213.9 689.9,1213.8 690.4,1213.3 690.9,1212.9 691.4,1212.5 691.7,1212.4 691.9,1213.3 692.4,1213.4 692.9,1213.5 693.4,1212.3 693.7,1212.4 693.9,1212.6 694.4,1213.4 694.9,1213.7 695.4,1214.2 695.6,1214.4 695.9,1213.8 696.4,1213.6 696.9,1213.4 697.4,1213.2 697.6,1213.1 697.9,1214.7 698.4,1215.8 698.9,1214.8 699.4,1213.2 699.6,1212.2 699.9,1213.5 700.4,1213.7 700.9,1213.9 701.4,1215.4 701.5,1215.5 701.9,1215.3 702.4,1214.6 702.9,1214.8 703.4,1212.6 703.5,1213.7 703.9,1213.7 704.4,1213.3 704.9,1213.3 705.4,1211.7 705.5,1213.6 705.9,1213.6 706.4,1213.6 706.9,1212.7 707.4,1215.0 707.4,1213.6 707.9,1213.3 708.4,1213.6 708.9,1213.4 709.4,1213.1 709.4,1212.6 709.9,1212.4 710.4,1212.9 710.9,1213.3 711.4,1213.8 711.4,1214.0 711.9,1213.8 712.4,1212.9 712.9,1212.7 713.3,1212.5 713.4,1212.0 713.9,1212.0 714.4,1212.1 714.9,1213.7 715.3,1214.1 715.4,1214.1 715.9,1214.0 716.4,1215.5 716.9,1215.5 717.3,1213.6 717.4,1214.1 717.9,1213.8 718.4,1213.7 718.9,1213.6 719.2,1213.0 719.4,1212.9 719.9,1214.2 720.4,1211.0 720.9,1210.7 721.2,1211.5 721.4,1211.7 721.9,1212.1 722.4,1213.4 722.9,1213.9 723.2,1214.5 723.4,1214.8 723.9,1215.2 724.4,1215.6 724.9,1215.1 725.1,1213.8 725.4,1213.7 725.9,1213.5 726.4,1214.5 726.9,1214.1 727.1,1216.3 727.4,1216.2 727.9,1215.9 728.4,1215.1 728.9,1214.9 729.1,1212.9 729.4,1212.8 729.9,1212.7 730.4,1214.0 730.9,1213.9 731.0,1213.8 731.4,1212.2 731.9,1212.4 732.4,1214.1 732.9,1215.6 733.0,1214.3 733.4,1214.5 733.9,1213.5 734.4,1213.6 734.9,1214.3 735.0,1214.3 735.4,1213.6 735.9,1213.4 736.4,1213.3 736.9,1214.6 736.9,1214.6 737.4,1214.7 737.9,1214.8 738.4,1214.7 738.9,1214.9 738.9,1214.9 739.4,1214.1 739.9,1213.8 740.4,1213.7 740.9,1212.3 740.9,1213.9 741.4,1214.3 741.9,1214.6 742.4,1215.3 742.8,1215.8 742.9,1215.6 743.4,1213.6 743.9,1213.5 744.4,1213.3 744.8,1213.2 744.9,1213.2 745.4,1213.1 745.9,1213.2 746.4,1213.9 746.8,1213.8 746.9,1212.4 747.4,1213.7 747.9,1213.0 748.4,1213.8 748.8,1213.8 748.9,1213.7 749.4,1213.8 749.9,1213.2 750.4,1213.3 750.7,1212.8 750.9,1215.3 751.4,1215.4 751.9,1214.3 752.4,1213.3 752.7,1213.3 752.9,1213.7 753.4,1213.6 753.9,1213.5 754.4,1215.0 754.7,1214.9 754.9,1214.9 755.4,1214.7 755.9,1213.5 756.4,1213.6 756.6,1213.7 756.9,1213.9 757.4,1215.5 757.9,1214.6 758.4,1214.9 758.6,1214.3 758.9,1213.8 759.4,1213.1 759.9,1212.7 760.4,1212.0 760.6,1211.8 760.9,1211.8 761.4,1212.3 761.9,1212.3 762.4,1212.2 762.5,1212.9 762.9,1211.3 763.4,1211.7 763.9,1212.9 764.4,1213.3 764.5,1213.4 764.9,1213.6 765.4,1213.5 765.9,1213.3 766.4,1212.3 766.5,1212.3 766.9,1213.3 767.4,1213.4 767.9,1212.4 768.4,1214.5 768.4,1214.6 768.9,1214.0 769.4,1213.7 769.9,1213.4 770.4,1211.6 770.4,1210.9 770.9,1211.2 771.4,1211.5 771.9,1214.0 772.4,1214.3 772.4,1214.3 772.9,1213.6 773.4,1214.4 773.9,1213.1 774.3,1213.3 774.4,1213.3 774.9,1215.8 775.4,1215.7 775.9,1215.7 776.3,1215.7 776.4,1214.4 776.9,1214.5 777.4,1214.1 777.9,1213.7 778.3,1212.2 778.4,1213.0 778.9,1213.1 779.4,1213.6 779.9,1213.7 780.2,1213.8 780.4,1211.4 780.9,1212.0 781.4,1212.1 781.9,1212.2 782.2,1214.4 782.4,1213.8 782.9,1213.7 783.4,1211.4 783.9,1211.2 784.2,1211.1 784.4,1213.0 784.9,1210.8 785.4,1209.7 785.9,1208.6 786.1,1208.6 786.4,1208.3 786.9,1207.9 787.4,1206.5 787.9,1206.3 788.1,1206.4 788.4,1206.8 788.9,1207.6 789.4,1211.3 789.9,1212.0 790.1,1210.0 790.4,1210.3 790.9,1210.1 791.4,1210.4 791.9,1210.4 792.0,1212.3 792.4,1211.2 792.9,1211.4 793.4,1211.3 793.9,1211.5 794.0,1211.5 794.4,1212.9 794.9,1214.0 795.4,1214.5 795.9,1214.9 796.0,1212.9 796.4,1212.5 796.9,1212.1 797.4,1213.6 797.9,1213.2 797.9,1212.3 798.4,1212.5 798.9,1213.0 799.4,1213.2 799.9,1214.7 799.9,1214.7 800.4,1215.0 800.9,1212.7 801.4,1213.0 801.9,1213.3 801.9,1213.7 802.4,1213.4 802.9,1215.2 803.4,1215.0 803.8,1212.8 803.9,1211.8 804.4,1212.1 804.9,1212.3 805.4,1214.5 805.8,1214.7 805.9,1214.7 806.4,1213.3 806.9,1212.9 807.4,1213.0 807.8,1212.7 807.9,1212.8 808.4,1213.6 808.9,1214.6 809.4,1215.0 809.7,1215.2 809.9,1214.5 810.4,1214.5 810.9,1214.4 811.4,1215.3 811.7,1215.3 811.9,1215.4 812.4,1214.1 812.9,1214.3 813.4,1214.5 813.7,1214.6 813.9,1214.4 814.4,1212.5 814.9,1212.2 815.4,1211.9 815.6,1213.4 815.9,1213.4 816.4,1215.0 816.9,1215.0 817.4,1215.0 817.6,1214.6 817.9,1214.6 818.4,1213.2 818.9,1213.4 819.4,1213.5 819.6,1213.8 819.9,1213.7 820.4,1213.9 820.9,1214.1 821.4,1213.7 821.5,1213.0 821.9,1212.7 822.4,1213.8 822.9,1212.4 823.4,1212.1 823.5,1212.0 823.9,1212.9 824.4,1213.0 824.9,1214.1 825.4,1213.2 825.5,1213.6 825.9,1213.9 826.4,1214.3 826.9,1213.2 827.4,1215.9 827.4,1214.9 827.9,1213.4 828.4,1213.2 828.9,1214.1 829.4,1213.7 829.4,1215.4 829.9,1215.4 830.4,1214.5 830.9,1214.5 831.4,1213.2 831.4,1213.2 831.9,1212.9 832.4,1213.4 832.9,1213.2 833.3,1213.0 833.4,1213.6 833.9,1213.8 834.4,1214.1 834.9,1213.2 835.3,1213.4 835.4,1213.4 835.9,1215.4 836.4,1215.0 836.9,1214.4 837.3,1214.1 837.4,1212.6 837.9,1212.5 838.4,1212.4 838.9,1213.0 839.3,1212.9 839.4,1213.1 839.9,1211.6 840.4,1211.7 840.9,1211.8 841.2,1212.0 841.4,1212.2 841.9,1213.6 842.4,1214.0 842.9,1211.3 843.2,1211.5 843.4,1215.8 843.9,1215.5 844.4,1214.3 844.9,1214.1 845.2,1213.9 845.4,1215.1 845.9,1213.2 846.4,1213.0 846.9,1212.8 847.1,1212.1 847.4,1212.1 847.9,1213.6 848.4,1213.1 848.9,1213.2 849.1,1213.5 849.4,1213.6 849.9,1213.8 850.4,1213.9 850.9,1212.5 851.1,1212.5 851.4,1212.6 851.9,1213.5 852.4,1213.6 852.9,1213.7 853.0,1214.0 853.4,1213.6 853.9,1212.7 854.4,1212.2 854.9,1211.2 855.0,1211.1 855.4,1211.5 855.9,1211.7 856.4,1212.2 856.9,1212.7 857.0,1215.1 857.4,1215.0 857.9,1214.9 858.4,1214.3 858.9,1212.8 858.9,1212.8 859.4,1213.0 859.9,1212.7 860.4,1212.3 860.9,1211.7 860.9,1212.4 861.4,1212.3 861.9,1212.3 862.4,1212.2 862.9,1212.2 862.9,1211.6 863.4,1211.4 863.9,1211.5 864.4,1211.5 864.8,1211.9 864.9,1211.2 865.4,1212.5 865.9,1212.1 866.4,1211.7 866.8,1211.2 866.9,1210.2 867.4,1209.6 867.9,1208.4 868.4,1207.9 868.8,1209.3 868.9,1208.6 869.4,1203.8 869.9,1201.2 870.4,1198.6 870.7,1198.3 870.9,1196.0 871.4,1189.4 871.9,1182.8 872.4,1176.3 872.7,1173.6 872.9,1171.5 873.4,1166.4 873.9,1159.8 874.4,1154.7 874.7,1152.6 874.9,1156.1 875.4,1161.6 875.9,1165.1 876.4,1170.9 876.6,1173.4 876.9,1176.9 877.4,1182.2 877.9,1190.7 878.4,1197.1 878.6,1198.5 878.9,1199.9 879.4,1202.3 879.9,1205.3 880.4,1207.7 880.6,1208.5 880.9,1209.6 881.4,1210.4 881.9,1211.2 882.4,1213.3 882.5,1213.5 882.9,1211.9 883.4,1211.4 883.9,1211.5 884.4,1211.7 884.5,1212.8 884.9,1212.7 885.4,1211.5 885.9,1211.3 886.4,1211.1 886.5,1210.0 886.9,1210.2 887.4,1210.4 887.9,1210.7 888.4,1211.0 888.4,1211.0 888.9,1213.3 889.4,1212.3 889.9,1213.8 890.4,1213.9 890.4,1213.0 890.9,1213.1 891.4,1213.3 891.9,1213.2 892.4,1212.2 892.4,1212.2 892.9,1212.0 893.4,1212.1 893.9,1211.9 894.3,1211.7 894.4,1212.3 894.9,1212.5 895.4,1213.0 895.9,1213.2 896.3,1213.4 896.4,1214.3 896.9,1213.0 897.4,1213.0 897.9,1210.8 898.3,1210.8 898.4,1213.8 898.9,1214.0 899.4,1214.2 899.9,1214.2 900.2,1214.4 900.4,1214.2 900.9,1214.1 901.4,1213.4 901.9,1212.7 902.2,1211.3 902.4,1211.7 902.9,1213.0 903.4,1213.4 903.9,1213.9 904.2,1212.4 904.4,1212.4 904.9,1214.4 905.4,1214.6 905.9,1214.6 906.1,1214.6 906.4,1213.6 906.9,1213.6 907.4,1213.3 907.9,1213.4 908.1,1213.4 908.4,1213.8 908.9,1213.7 909.4,1213.7 909.9,1213.6 910.1,1213.3 910.4,1213.2 910.9,1213.1 911.4,1211.9 911.9,1211.7 912.0,1212.4 912.4,1212.6 912.9,1212.4 913.4,1212.6 913.9,1212.9 914.0,1213.3 914.4,1213.0 914.9,1213.0 915.4,1213.3 915.9,1213.3 916.0,1213.3 916.4,1212.2 916.9,1212.0 917.4,1213.4 917.9,1212.5 917.9,1212.4 918.4,1212.3 918.9,1211.8 919.4,1211.7 919.9,1211.6 919.9,1210.9 920.4,1211.2 920.9,1210.8 921.4,1211.2 921.9,1211.5 921.9,1211.0 922.4,1210.7 922.9,1213.6 923.4,1213.3 923.8,1213.1 923.9,1212.3 924.4,1212.6 924.9,1212.8 925.4,1211.0 925.8,1211.2 925.9,1211.4 926.4,1212.8 926.9,1212.9 927.4,1213.1 927.8,1211.7 927.9,1213.7 928.4,1213.5 928.9,1212.6 929.4,1212.4 929.8,1212.2 929.9,1212.8 930.4,1212.7 930.9,1212.7 931.4,1212.9 931.7,1212.9 931.9,1212.8 932.4,1213.1 932.9,1211.5 933.4,1212.1 933.7,1212.1 933.9,1213.7 934.4,1213.9 934.9,1214.1 935.4,1212.4 935.7,1212.5 935.9,1212.4 936.4,1212.3 936.9,1212.3 937.4,1212.3 937.6,1212.7 937.9,1212.5 938.4,1212.2 938.9,1212.0 939.4,1211.7 939.6,1211.6 939.9,1210.4 940.4,1210.4 940.9,1210.4 941.4,1210.5 941.6,1210.5 941.9,1210.6 942.4,1210.4 942.9,1210.1 943.4,1213.0 943.5,1212.9 943.9,1212.8 944.4,1210.1 944.9,1209.8 945.4,1209.6 945.5,1209.1 945.9,1209.2 946.4,1210.0 946.9,1210.1 947.4,1209.5 947.5,1208.6 947.9,1210.0 948.4,1207.8 948.9,1207.5 949.4,1207.2 949.4,1208.6 949.9,1208.6 950.4,1209.7 950.9,1209.5 951.4,1207.5 951.4,1206.9 951.9,1206.5 952.4,1205.9 952.9,1205.5 953.4,1206.9 953.4,1206.9 953.9,1205.4 954.4,1205.8 954.9,1205.9 955.3,1204.9 955.4,1207.0 955.9,1206.8 956.4,1204.5 956.9,1204.8 957.3,1204.0 957.4,1203.9 957.9,1201.7 958.4,1202.1 958.9,1200.3 959.3,1200.1 959.4,1199.9 959.9,1199.7 960.4,1199.0 960.9,1198.3 961.2,1199.4 961.4,1199.0 961.9,1197.4 962.4,1196.3 962.9,1192.2 963.2,1194.5 963.4,1192.1 963.9,1190.1 964.4,1187.5 964.9,1185.0 965.2,1184.0 965.4,1182.3 965.9,1180.2 966.4,1176.6 966.9,1170.8 967.1,1169.1 967.4,1165.3 967.9,1155.2 968.4,1145.1 968.9,1134.6 969.1,1131.9 969.4,1115.4 969.9,1086.8 970.4,1059.4 970.9,1032.3 971.1,1023.2 971.4,988.4 971.9,935.3 972.4,882.2 972.9,826.9 973.0,812.5 973.4,783.7 973.9,743.6 974.4,703.6 974.9,664.2 975.0,656.1 975.4,688.4 975.9,730.3 976.4,769.5 976.9,810.1 977.0,814.1 977.4,859.5 977.9,912.3 978.4,966.8 978.9,1018.0 978.9,1021.8 979.4,1048.9 979.9,1076.3 980.4,1102.9 980.9,1130.3 980.9,1131.2 981.4,1140.8 981.9,1150.8 982.4,1159.7 982.9,1168.9 982.9,1169.1 983.4,1173.3 983.9,1176.8 984.4,1180.4 984.8,1183.5 984.9,1183.8 985.4,1187.0 985.9,1189.4 986.4,1191.8 986.8,1192.1 986.9,1192.0 987.4,1193.2 987.9,1196.7 988.4,1198.1 988.8,1199.2 988.9,1200.0 989.4,1200.6 989.9,1201.3 990.4,1201.9 990.7,1202.4 990.9,1202.3 991.4,1203.2 991.9,1204.1 992.4,1206.3 992.7,1206.9 992.9,1206.4 993.4,1206.1 993.9,1204.2 994.4,1204.2 994.7,1206.2 994.9,1205.6 995.4,1205.8 995.9,1206.2 996.4,1206.3 996.6,1205.7 996.9,1205.9 997.4,1207.9 997.9,1207.0 998.4,1207.8 998.6,1208.0 998.9,1208.2 999.4,1208.4 999.9,1208.8 1000.4,1209.2 1000.6,1209.1 1000.9,1209.0 1001.4,1209.9 1001.9,1209.9 1002.4,1209.8 1002.5,1209.2 1002.9,1210.7 1003.4,1211.0 1003.9,1209.8 1004.4,1209.8 1004.5,1210.8 1004.9,1210.5 1005.4,1210.2 1005.9,1211.4 1006.4,1211.1 1006.5,1211.0 1006.9,1208.9 1007.4,1208.0 1007.9,1209.1 1008.4,1210.8 1008.4,1212.2 1008.9,1212.6 1009.4,1213.0 1009.9,1210.8 1010.4,1211.2 1010.4,1211.3 1010.9,1210.1 1011.4,1209.4 1011.9,1208.7 1012.4,1210.9 1012.4,1210.9 1012.9,1210.8 1013.4,1210.5 1013.9,1211.0 1014.3,1211.6 1014.4,1211.5 1014.9,1211.1 1015.4,1210.8 1015.9,1209.7 1016.3,1209.4 1016.4,1209.2 1016.9,1207.8 1017.4,1207.1 1017.9,1208.8 1018.3,1208.3 1018.4,1206.4 1018.9,1204.5 1019.4,1202.1 1019.9,1200.2 1020.3,1198.5 1020.4,1197.9 1020.9,1195.8 1021.4,1193.5 1021.9,1193.2 1022.2,1192.0 1022.4,1192.8 1022.9,1195.1 1023.4,1196.9 1023.9,1199.3 1024.2,1200.6 1024.4,1202.1 1024.9,1204.1 1025.4,1206.1 1025.9,1205.7 1026.2,1207.1 1026.4,1207.5 1026.9,1209.2 1027.4,1210.1 1027.9,1211.8 1028.1,1212.1 1028.4,1212.5 1028.9,1212.0 1029.4,1212.1 1029.9,1212.1 1030.1,1211.7 1030.4,1211.6 1030.9,1212.6 1031.4,1213.6 1031.9,1211.3 1032.1,1211.2 1032.4,1211.2 1032.9,1211.6 1033.4,1212.0 1033.9,1212.3 1034.0,1213.9 1034.4,1212.5 1034.9,1212.1 1035.4,1211.8 1035.9,1211.6 1036.0,1211.5 1036.4,1211.6 1036.9,1210.8 1037.4,1210.7 1037.9,1210.8 1038.0,1212.5 1038.4,1213.0 1038.9,1213.5 1039.4,1213.4 1039.9,1213.9 1039.9,1213.9 1040.4,1212.6 1040.9,1212.5 1041.4,1212.3 1041.9,1212.1 1041.9,1214.7 1042.4,1214.6 1042.9,1213.0 1043.4,1213.2 1043.9,1213.1 1043.9,1213.1 1044.4,1211.9 1044.9,1212.3 1045.4,1214.0 1045.8,1214.2 1045.9,1214.6 1046.4,1214.3 1046.9,1214.0 1047.4,1214.3 1047.8,1212.1 1047.9,1212.2 1048.4,1212.8 1048.9,1213.0 1049.4,1213.3 1049.8,1213.3 1049.9,1215.0 1050.4,1214.7 1050.9,1214.5 1051.4,1213.3 1051.7,1213.1 1051.9,1213.1 1052.4,1213.2 1052.9,1211.7 1053.4,1214.0 1053.7,1214.1 1053.9,1214.1 1054.4,1213.7 1054.9,1213.8 1055.4,1213.9 1055.7,1213.6 1055.9,1213.8 1056.4,1213.3 1056.9,1213.6 1057.4,1213.9 1057.6,1213.6 1057.9,1213.4 1058.4,1213.0 1058.9,1213.3 1059.4,1212.9 1059.6,1212.8 1059.9,1213.0 1060.4,1213.3 1060.9,1214.1 1061.4,1215.7 1061.6,1213.9 1061.9,1213.8 1062.4,1213.6 1062.9,1212.7 1063.4,1212.5 1063.5,1212.4 1063.9,1211.6 1064.4,1211.3 1064.9,1210.9 1065.4,1211.0 1065.5,1210.9 1065.9,1212.8 1066.4,1212.7 1066.9,1211.3 1067.4,1211.3 1067.5,1211.3 1067.9,1212.4 1068.4,1211.9 1068.9,1212.1 1069.4,1213.2 1069.4,1211.5 1069.9,1211.8 1070.4,1213.1 1070.9,1213.4 1071.4,1213.8 1071.4,1213.8 1071.9,1213.6 1072.4,1214.3 1072.9,1214.1 1073.4,1214.0 1073.4,1213.3 1073.9,1213.6 1074.4,1213.2 1074.9,1213.5 1075.3,1216.3 1075.4,1214.9 1075.9,1215.3 1076.4,1213.5 1076.9,1215.3 1077.3,1215.1 1077.4,1213.0 1077.9,1214.5 1078.4,1214.7 1078.9,1214.9 1079.3,1214.2 1079.4,1214.2 1079.9,1214.0 1080.4,1213.6 1080.9,1213.4 1081.2,1213.4 1081.4,1213.3 1081.9,1211.7 1082.4,1211.5 1082.9,1211.2 1083.2,1212.8 1083.4,1212.9 1083.9,1213.2 1084.4,1213.9 1084.9,1214.2 1085.2,1211.6 1085.4,1211.5 1085.9,1213.7 1086.4,1213.4 1086.9,1213.2 1087.1,1210.6 1087.4,1210.5 1087.9,1212.1 1088.4,1213.6 1088.9,1213.5 1089.1,1213.4 1089.4,1211.4 1089.9,1211.5 1090.4,1213.8 1090.9,1212.4 1091.1,1212.5 1091.4,1212.5 1091.9,1211.9 1092.4,1211.9 1092.9,1212.0 1093.0,1213.8 1093.4,1213.9 1093.9,1214.2 1094.4,1214.9 1094.9,1212.6 1095.0,1212.6 1095.4,1214.7 1095.9,1214.8 1096.4,1214.9 1096.9,1214.8 1097.0,1214.8 1097.4,1213.4 1097.9,1213.3 1098.4,1213.3 1098.9,1213.8 1098.9,1214.5 1099.4,1214.3 1099.9,1213.4 1100.4,1214.5 1100.9,1213.7 1100.9,1213.7 1101.4,1214.1 1101.9,1213.9 1102.4,1210.6 1102.9,1209.9 1102.9,1209.9 1103.4,1213.7 1103.9,1214.0 1104.4,1214.3 1104.8,1213.1 1104.9,1213.2 1105.4,1213.6 1105.9,1214.2 1106.4,1214.7 1106.8,1214.1 1106.9,1214.9 1107.4,1214.3 1107.9,1214.4 1108.4,1213.8 1108.8,1213.4 1108.9,1211.8 1109.4,1211.6 1109.9,1213.2 1110.4,1213.0 1110.8,1214.0 1110.9,1214.0 1111.4,1214.0 1111.9,1211.8 1112.4,1213.3 1112.7,1211.5 1112.9,1211.4 1113.4,1212.7 1113.9,1212.7 1114.4,1212.6 1114.7,1211.7 1114.9,1211.7 1115.4,1214.3 1115.9,1214.3 1116.4,1213.2 1116.7,1213.2 1116.9,1213.4 1117.4,1211.0 1117.9,1211.4 1118.4,1211.7 1118.6,1214.0 1118.9,1212.9 1119.4,1212.9 1119.9,1212.2 1120.4,1211.6 1120.6,1210.7 1120.9,1209.4 1121.4,1209.4 1121.9,1209.4 1122.4,1210.9 1122.6,1209.3 1122.9,1212.4 1123.4,1212.6 1123.9,1212.9 1124.4,1210.3 1124.5,1213.7 1124.9,1213.5 1125.4,1213.1 1125.9,1212.0 1126.4,1209.0 1126.5,1208.9 1126.9,1208.8 1127.4,1212.1 1127.9,1210.7 1128.4,1210.5 1128.5,1208.3 1128.9,1207.9 1129.4,1207.9 1129.9,1207.4 1130.4,1209.2 1130.4,1207.1 1130.9,1206.8 1131.4,1206.5 1131.9,1207.4 1132.4,1206.2 1132.4,1206.2 1132.9,1206.1 1133.4,1204.0 1133.9,1202.7 1134.4,1201.2 1134.4,1201.0 1134.9,1201.9 1135.4,1199.8 1135.9,1196.6 1136.3,1193.0 1136.4,1194.2 1136.9,1184.7 1137.4,1176.8 1137.9,1168.2 1138.3,1162.0 1138.4,1157.8 1138.9,1138.0 1139.4,1119.8 1139.9,1100.0 1140.3,1084.5 1140.4,1078.5 1140.9,1057.6 1141.4,1035.5 1141.9,1013.4 1142.2,997.8 1142.4,1001.2 1142.9,1013.1 1143.4,1025.1 1143.9,1037.0 1144.2,1044.1 1144.4,1052.3 1144.9,1076.1 1145.4,1099.9 1145.9,1126.5 1146.2,1139.1 1146.4,1144.7 1146.9,1157.7 1147.4,1169.6 1147.9,1181.5 1148.1,1183.9 1148.4,1187.2 1148.9,1191.0 1149.4,1195.1 1149.9,1199.0 1150.1,1200.6 1150.4,1199.4 1150.9,1200.5 1151.4,1201.8 1151.9,1205.7 1152.1,1206.1 1152.4,1206.8 1152.9,1205.3 1153.4,1207.4 1153.9,1208.5 1154.0,1208.7 1154.4,1210.0 1154.9,1210.4 1155.4,1210.8 1155.9,1209.2 1156.0,1209.2 1156.4,1209.7 1156.9,1209.9 1157.4,1210.0 1157.9,1210.0 1158.0,1210.0 1158.4,1210.9 1158.9,1210.8 1159.4,1211.1 1159.9,1209.5 1159.9,1209.5 1160.4,1209.4 1160.9,1209.4 1161.4,1209.5 1161.9,1210.7 1161.9,1210.7 1162.4,1209.7 1162.9,1209.0 1163.4,1208.2 1163.9,1209.0 1163.9,1209.0 1164.4,1207.2 1164.9,1206.1 1165.4,1205.7 1165.8,1206.7 1165.9,1204.9 1166.4,1207.5 1166.9,1207.6 1167.4,1207.6 1167.8,1206.4 1167.9,1206.5 1168.4,1207.0 1168.9,1207.8 1169.4,1208.5 1169.8,1209.5 1169.9,1209.7 1170.4,1211.0 1170.9,1211.7 1171.4,1211.0 1171.7,1213.0 1171.9,1213.1 1172.4,1211.8 1172.9,1212.8 1173.4,1212.8 1173.7,1212.9 1173.9,1210.8 1174.4,1210.9 1174.9,1210.9 1175.4,1212.8 1175.7,1212.9 1175.9,1213.1 1176.4,1212.8 1176.9,1213.2 1177.4,1213.6 1177.6,1212.2 1177.9,1213.5 1178.4,1213.3 1178.9,1213.0 1179.4,1214.4 1179.6,1212.7 1179.9,1212.1 1180.4,1212.0 1180.9,1211.7 1181.4,1212.6 1181.6,1210.3 1181.9,1210.1 1182.4,1212.3 1182.9,1211.7 1183.4,1211.5 1183.5,1211.4 1183.9,1213.2 1184.4,1213.3 1184.9,1210.3 1185.4,1210.4 1185.5,1210.5 1185.9,1212.7 1186.4,1212.9 1186.9,1213.1 1187.4,1213.0 1187.5,1213.8 1187.9,1212.6 1188.4,1212.7 1188.9,1214.6 1189.4,1214.7 1189.4,1214.8 1189.9,1213.9 1190.4,1213.6 1190.9,1213.2 1191.4,1211.3 1191.4,1211.3 1191.9,1211.6 1192.4,1213.9 1192.9,1214.2 1193.4,1214.4 1193.4,1214.4 1193.9,1214.5 1194.4,1212.8 1194.9,1212.9 1195.4,1213.0 1195.4,1213.5 1195.9,1213.4 1196.4,1213.2 1196.9,1212.2 1197.3,1212.1 1197.4,1212.1 1197.9,1212.2 1198.4,1212.3 1198.9,1212.4 1199.3,1213.0 1199.4,1214.0 1199.9,1214.2 1200.4,1216.7 1200.9,1217.0 1201.3,1214.5 1201.4,1214.4 1201.9,1214.0 1202.4,1212.5 1202.9,1212.1 1203.2,1212.9 1203.4,1212.9 1203.9,1212.7 1204.4,1212.2 1204.9,1213.6 1205.2,1213.5 1205.4,1211.0 1205.9,1211.2 1206.4,1212.7 1206.9,1212.9 1207.2,1213.1 1207.4,1213.3 1207.9,1213.2 1208.4,1213.1 1208.9,1213.3 1209.1,1213.3 1209.4,1213.2 1209.9,1213.4 1210.4,1213.5 1210.9,1214.4 1211.1,1214.4 1211.4,1212.3 1211.9,1213.0 1212.4,1213.1 1212.9,1213.5 1213.1,1213.5 1213.4,1212.6 1213.9,1212.7 1214.4,1215.5 1214.9,1215.5 1215.0,1215.5 1215.4,1213.6 1215.9,1213.5 1216.4,1213.4 1216.9,1214.4 1217.0,1213.3 1217.4,1213.4 1217.9,1213.6 1218.4,1214.0 1218.9,1214.2 1219.0,1214.3 1219.4,1215.2 1219.9,1215.0 1220.4,1213.3 1220.9,1213.8 1220.9,1215.0 1221.4,1215.1 1221.9,1215.3 1222.4,1215.4 1222.9,1215.5 1222.9,1214.4 1223.4,1214.5 1223.9,1214.4 1224.4,1213.0 1224.9,1212.9 1224.9,1215.3 1225.4,1215.3 1225.9,1215.3 1226.4,1216.1 1226.8,1213.9 1226.9,1213.9 1227.4,1212.7 1227.9,1212.6 1228.4,1212.4 1228.8,1213.7 1228.9,1213.8 1229.4,1213.8 1229.9,1212.6 1230.4,1212.7 1230.8,1214.4 1230.9,1214.4 1231.4,1214.3 1231.9,1212.5 1232.4,1212.4 1232.7,1212.3 1232.9,1214.7 1233.4,1214.8 1233.9,1214.8 1234.4,1211.0 1234.7,1211.0 1234.9,1212.2 1235.4,1212.3 1235.9,1213.0 1236.4,1213.0 1236.7,1214.8 1236.9,1214.9 1237.4,1213.4 1237.9,1213.6 1238.4,1213.8 1238.6,1214.8 1238.9,1214.7 1239.4,1213.5 1239.9,1213.3 1240.4,1211.8 1240.6,1213.6 1240.9,1213.7 1241.4,1213.8 1241.9,1213.5 1242.4,1213.7 1242.6,1213.7 1242.9,1216.7 1243.4,1216.3 1243.9,1214.0 1244.4,1212.2 1244.5,1212.1 1244.9,1212.7 1245.4,1211.6 1245.9,1211.7 1246.4,1212.3 1246.5,1212.3 1246.9,1212.5 1247.4,1213.9 1247.9,1214.2 1248.4,1214.5 1248.5,1212.7 1248.9,1212.5 1249.4,1214.0 1249.9,1213.8 1250.4,1213.7 1250.4,1214.0 1250.9,1213.7 1251.4,1214.9 1251.9,1214.5 1252.4,1212.8 1252.4,1211.4 1252.9,1213.4 1253.4,1213.5 1253.9,1213.8 1254.4,1215.1 1254.4,1215.1 1254.9,1215.1 1255.4,1214.1 1255.9,1212.8 1256.3,1212.8 1256.4,1212.6 1256.9,1212.5 1257.4,1212.3 1257.9,1213.0 1258.3,1214.3 1258.4,1214.3 1258.9,1214.2 1259.4,1212.2 1259.9,1212.1 1260.3,1212.0 1260.4,1212.4 1260.9,1212.6 1261.4,1212.7 1261.9,1212.5 1262.2,1212.6 1262.4,1212.6 1262.9,1211.3 1263.4,1211.3 1263.9,1211.8 1264.2,1211.8 1264.4,1213.1 1264.9,1213.5 1265.4,1213.8 1265.9,1215.6 1266.2,1214.1 1266.4,1214.1 1266.9,1214.0 1267.4,1214.4 1267.9,1214.4 1268.1,1214.5 1268.4,1213.8 1268.9,1213.8 1269.4,1213.8 1269.9,1214.2 1270.1,1214.2 1270.4,1214.3 1270.9,1214.4 1271.4,1214.5 1271.9,1214.6 1272.1,1215.3 1272.4,1214.9 1272.9,1214.3 1273.4,1211.9 1273.9,1211.3 1274.0,1211.2 1274.4,1213.3 1274.9,1212.4 1275.4,1210.6 1275.9,1210.9 1276.0,1211.0 1276.4,1212.6 1276.9,1212.7 1277.4,1214.8 1277.9,1214.9 1278.0,1215.0 1278.4,1213.3 1278.9,1214.6 1279.4,1214.4 1279.9,1214.2 1279.9,1214.2 1280.4,1214.2 1280.9,1212.2 1281.4,1212.2 1281.9,1213.8 1281.9,1213.8 1282.4,1213.8 1282.9,1214.0 1283.4,1211.7 1283.9,1213.0 1283.9,1213.0 1284.4,1213.6 1284.9,1213.8 1285.4,1214.0 1285.9,1213.2 1285.9,1213.2 1286.4,1213.1 1286.9,1213.1 1287.4,1213.1 1287.8,1213.1 1287.9,1213.1 1288.4,1214.2 1288.9,1213.3 1289.4,1215.9 1289.8,1215.8 1289.9,1215.8 1290.4,1214.4 1290.9,1214.2 1291.4,1214.6 1291.8,1214.5 1291.9,1213.4 1292.4,1213.3 1292.9,1214.1 1293.4,1214.3 1293.7,1212.9 1293.9,1212.9 1294.4,1212.9 1294.9,1215.4 1295.4,1215.7 1295.7,1215.7 1295.9,1214.1 1296.4,1214.0 1296.9,1213.9 1297.4,1213.8 1297.7,1213.5 1297.9,1213.5 1298.4,1213.7 1298.9,1213.2 1299.4,1213.3 1299.6,1212.3 1299.9,1212.3 1300.4,1212.5 1300.9,1214.8 1301.4,1214.9 1301.6,1215.0 1301.9,1214.5 1302.4,1214.4 1302.9,1213.8 1303.4,1214.7 1303.6,1213.4 1303.9,1213.6 1304.4,1213.3 1304.9,1213.0 1305.4,1212.3 1305.5,1212.3 1305.9,1212.2 1306.4,1211.8 1306.9,1211.8 1307.4,1212.8 1307.5,1213.0 1307.9,1211.7 1308.4,1212.1 1308.9,1214.6 1309.4,1215.0 1309.5,1213.7 1309.9,1213.6 1310.4,1213.6 1310.9,1213.5 1311.4,1213.4 1311.4,1213.3 1311.9,1213.3 1312.4,1213.3 1312.9,1213.6 1313.4,1214.0 1313.4,1213.9 1313.9,1213.6 1314.4,1213.4 1314.9,1213.2 1315.4,1214.3 1315.4,1213.3 1315.9,1213.1 1316.4,1213.4 1316.9,1213.6 1317.3,1214.4 1317.4,1214.5 1317.9,1214.7 1318.4,1214.9 1318.9,1213.6 1319.3,1213.6 1319.4,1212.3 1319.9,1214.5 1320.4,1213.4 1320.9,1213.3 1321.3,1213.1 1321.4,1214.4 1321.9,1214.6 1322.4,1214.7 1322.9,1214.5 1323.2,1212.8 1323.4,1212.7 1323.9,1212.9 1324.4,1212.6 1324.9,1212.3 1325.2,1212.6 1325.4,1212.7 1325.9,1213.6 1326.4,1213.8 1326.9,1212.9 1327.2,1215.0 1327.4,1214.5 1327.9,1214.1 1328.4,1213.8 1328.9,1212.4 1329.1,1212.3 1329.4,1211.7 1329.9,1212.0 1330.4,1212.3 1330.9,1214.6 1331.1,1214.8 1331.4,1215.1 1331.9,1215.6 1332.4,1215.4 1332.9,1215.9 1333.1,1215.3 1333.4,1215.1 1333.9,1214.8 1334.4,1214.0 1334.9,1213.7 1335.0,1213.6 1335.4,1213.7 1335.9,1213.9 1336.4,1214.1 1336.9,1213.9 1337.0,1213.9 1337.4,1214.7 1337.9,1214.5 1338.4,1214.2 1338.9,1214.9 1339.0,1214.8 1339.4,1214.8 1339.9,1212.3 1340.4,1213.9 1340.9,1212.8 1340.9,1214.8 1341.4,1214.8 1341.9,1214.8 1342.4,1212.2 1342.9,1212.2 1342.9,1214.6 1343.4,1214.5 1343.9,1214.4 1344.4,1214.3 1344.9,1214.1 1344.9,1214.9 1345.4,1215.1 1345.9,1212.4 1346.4,1215.1 1346.8,1213.7 1346.9,1213.7 1347.4,1213.4 1347.9,1213.6 1348.4,1213.6 1348.8,1213.4 1348.9,1213.4 1349.4,1215.1 1349.9,1215.2 1350.4,1215.4 1350.8,1213.3 1350.9,1214.4 1351.4,1214.9 1351.9,1214.0 1352.4,1215.4 1352.7,1215.8 1352.9,1215.8 1353.4,1215.3 1353.9,1214.4 1354.4,1214.0 1354.7,1212.6 1354.9,1212.6 1355.4,1213.2 1355.9,1213.0 1356.4,1213.9 1356.7,1213.8 1356.9,1212.2 1357.4,1212.4 1357.9,1212.6 1358.4,1212.9 1358.6,1214.4 1358.9,1214.7 1359.4,1214.6 1359.9,1214.5 1360.4,1215.5 1360.6,1215.5 1360.9,1214.8 1361.4,1214.7 1361.9,1213.1 1362.4,1212.9 1362.6,1212.9 1362.9,1214.8 1363.4,1214.6 1363.9,1213.7 1364.4,1213.6 1364.5,1212.7 1364.9,1212.8 1365.4,1213.0 1365.9,1212.4 1366.4,1212.5 1366.5,1212.5 1366.9,1215.2 1367.4,1214.7 1367.9,1211.9 1368.4,1211.7 1368.5,1211.7 1368.9,1213.2 1369.4,1213.1 1369.9,1213.1 1370.4,1213.2 1370.4,1213.2 1370.9,1212.9 1371.4,1212.8 1371.9,1212.1 1372.4,1212.0 1372.4,1212.0 1372.9,1211.8 1373.4,1211.6 1373.9,1211.9 1374.4,1210.0 1374.4,1209.3 1374.9,1209.0 1375.4,1208.7 1375.9,1210.5 1376.4,1210.2 1376.4,1210.3 1376.9,1211.5 1377.4,1211.8 1377.9,1212.2 1378.3,1210.9 1378.4,1211.0 1378.9,1211.1 1379.4,1210.0 1379.9,1211.1 1380.3,1211.2 1380.4,1211.2 1380.9,1212.5 1381.4,1212.3 1381.9,1212.2 1382.3,1211.0 1382.4,1211.2 1382.9,1213.6 1383.4,1214.0 1383.9,1214.5 1384.2,1214.3 1384.4,1213.8 1384.9,1213.7 1385.4,1212.8 1385.9,1212.8 1386.2,1213.5 1386.4,1213.6 1386.9,1213.7 1387.4,1212.9 1387.9,1213.0 1388.2,1213.0 1388.4,1212.9 1388.9,1212.6 1389.4,1214.7 1389.9,1212.7 1390.1,1212.6 1390.4,1212.7 1390.9,1213.2 1391.4,1213.3 1391.9,1213.5 1392.1,1213.2 1392.4,1213.3 1392.9,1214.8 1393.4,1214.8 1393.9,1214.8 1394.1,1213.2 1394.4,1213.1 1394.9,1212.9 1395.4,1213.4 1395.9,1213.2 1396.0,1213.2 1396.4,1211.8 1396.9,1213.8 1397.4,1214.1 1397.9,1216.2 1398.0,1214.0 1398.4,1213.8 1398.9,1213.5 1399.4,1213.4 1399.9,1213.3 1400.0,1212.6 1400.4,1212.7 1400.9,1212.8 1401.4,1214.1 1401.9,1214.2 1401.9,1214.4 1402.4,1214.2 1402.9,1212.9 1403.4,1212.7 1403.9,1212.4 1403.9,1213.5 1404.4,1213.4 1404.9,1213.3 1405.4,1213.8 1405.9,1213.8 1405.9,1213.8 1406.4,1211.7 1406.9,1213.1 1407.4,1213.2 1407.8,1212.2 1407.9,1212.2 1408.4,1212.8 1408.9,1212.7 1409.4,1212.5 1409.8,1211.2 1409.9,1211.2 1410.4,1211.5 1410.9,1212.7 1411.4,1213.0 1411.8,1213.3 1411.9,1213.3 1412.4,1213.1 1412.9,1213.3 1413.4,1213.5 1413.7,1213.8 1413.9,1213.9 1414.4,1214.1 1414.9,1216.6 1415.4,1216.8 1415.7,1216.9 1415.9,1216.1 1416.4,1216.0 1416.9,1216.0 1417.4,1214.7 1417.7,1214.6 1417.9,1214.7 1418.4,1215.4 1418.9,1215.4 1419.4,1214.5 1419.6,1215.3 1419.9,1215.3 1420.4,1215.2 1420.9,1214.9 1421.4,1216.7 1421.6,1213.5 1421.9,1213.6 1422.4,1213.8 1422.9,1214.6 1423.4,1215.6 1423.6,1215.6 1423.9,1215.1 1424.4,1214.7 1424.9,1214.4 1425.4,1213.4 1425.5,1213.3 1425.9,1213.6 1426.4,1213.5 1426.9,1213.6 1427.4,1213.7 1427.5,1215.1 1427.9,1213.0 1428.4,1212.9 1428.9,1212.9 1429.4,1215.4 1429.5,1214.1 1429.9,1213.6 1430.4,1211.5 1430.9,1210.9 1431.4,1210.3 1431.4,1213.3 1431.9,1213.7 1432.4,1213.6 1432.9,1212.9 1433.4,1213.4 1433.4,1213.4 1433.9,1216.5 1434.4,1216.4 1434.9,1213.4 1435.4,1213.4 1435.4,1214.0 1435.9,1212.7 1436.4,1213.9 1436.9,1214.0 1437.3,1215.0 1437.4,1215.0 1437.9,1214.8 1438.4,1213.9 1438.9,1213.7 1439.3,1213.7 1439.4,1213.1 1439.9,1213.1 1440.4,1214.4 1440.9,1214.3 1441.3,1214.3 1441.4,1214.3 1441.9,1214.3 1442.4,1214.3 1442.9,1213.2 1443.2,1213.2 1443.4,1213.7 1443.9,1213.9 1444.4,1214.2 1444.9,1212.1 1445.2,1212.2 1445.4,1212.2 1445.9,1214.1 1446.4,1214.4 1446.9,1214.3 1447.2,1214.3 1447.4,1214.0 1447.9,1214.9 1448.4,1215.1 1448.9,1213.8 1449.1,1213.9 1449.4,1215.7 1449.9,1213.8 1450.4,1213.4 1450.9,1212.9 1451.1,1212.7 1451.4,1213.0 1451.9,1213.4 1452.4,1214.8 1452.9,1213.6 1453.1,1214.6 1453.4,1214.9 1453.9,1214.9 1454.4,1215.0 1454.9,1215.2 1455.0,1214.4 1455.4,1214.0 1455.9,1212.3 1456.4,1213.7 1456.9,1213.1 1457.0,1213.0 1457.4,1213.8 1457.9,1213.9 1458.4,1213.4 1458.9,1213.6 1459.0,1213.0 1459.4,1212.7 1459.9,1213.9 1460.4,1213.7 1460.9,1213.4 1460.9,1213.3 1461.4,1212.3 1461.9,1212.9 1462.4,1211.0 1462.9,1210.8 1462.9,1210.8 1463.4,1213.0 1463.9,1213.2 1464.4,1212.5 1464.9,1212.7 1464.9,1212.7 1465.4,1212.9 1465.9,1214.7 1466.4,1215.0 1466.9,1215.2 1466.9,1215.0 1467.4,1215.1 1467.9,1215.1 1468.4,1213.5 1468.8,1213.5 1468.9,1214.0 1469.4,1213.9 1469.9,1214.2 1470.4,1214.1 1470.8,1214.0 1470.9,1215.8 1471.4,1216.0 1471.9,1213.8 1472.4,1214.0 1472.8,1214.2 1472.9,1212.6 1473.4,1212.6 1473.9,1212.5 1474.4,1216.4 1474.7,1216.4 1474.9,1216.5 1475.4,1215.9 1475.9,1214.9 1476.4,1215.1 1476.7,1215.7 1476.9,1215.4 1477.4,1214.8 1477.9,1212.5 1478.4,1211.9 1478.7,1212.9 1478.9,1211.2 1479.4,1213.2 1479.9,1211.5 1480.4,1211.8 1480.6,1211.8 1480.9,1211.9 1481.4,1211.5 1481.9,1211.6 1482.4,1211.6 1482.6,1213.5 1482.9,1214.1 1483.4,1213.4 1483.9,1213.4 1484.4,1212.3 1484.6,1212.0 1484.9,1212.0 1485.4,1212.1 1485.9,1211.9 1486.4,1212.1 1486.5,1213.6 1486.9,1214.2 1487.4,1214.7 1487.9,1215.2 1488.4,1216.0 1488.5,1216.1 1488.9,1215.7 1489.4,1215.5 1489.9,1215.0 1490.4,1214.1 1490.5,1214.0 1490.9,1214.2 1491.4,1213.1 1491.9,1213.3 1492.4,1213.8 1492.4,1213.8 1492.9,1215.0 1493.4,1214.6 1493.9,1214.3 1494.4,1212.6 1494.4,1212.6 1494.9,1212.8 1495.4,1212.8 1495.9,1213.0 1496.4,1213.5 1496.4,1213.5 1496.9,1213.7 1497.4,1214.0 1497.9,1214.0 1498.3,1214.2 1498.4,1214.2 1498.9,1215.2 1499.4,1215.3 1499.9,1214.5 1500.3,1214.5 1500.4,1214.4 1500.9,1213.0 1501.4,1212.5 1501.9,1212.0 1502.3,1211.5 1502.4,1211.7 1502.9,1212.4 1503.4,1215.2 1503.9,1215.8 1504.2,1214.7 1504.4,1214.6 1504.9,1214.3 1505.4,1213.5 1505.9,1213.2 1506.2,1213.4 1506.4,1213.3 1506.9,1213.1 1507.4,1213.9 1507.9,1213.6 1508.2,1213.5 1508.4,1213.7 1508.9,1214.0 1509.4,1214.2 1509.9,1214.7 1510.1,1212.7 1510.4,1212.6 1510.9,1212.3 1511.4,1214.9 1511.9,1214.7 1512.1,1214.6 1512.4,1211.8 1512.9,1211.6 1513.4,1211.5 1513.9,1212.9 1514.1,1212.8 1514.4,1212.4 1514.9,1214.1 1515.4,1214.4 1515.9,1215.1 1516.0,1212.0 1516.4,1212.0 1516.9,1213.2 1517.4,1213.2 1517.9,1213.3 1518.0,1212.7 1518.4,1212.3 1518.9,1213.2 1519.4,1213.7 1519.9,1214.2 1520.0,1212.0 1520.4,1212.0 1520.9,1211.0 1521.4,1210.1 1521.9,1209.3 1521.9,1208.6 1522.4,1207.1 1522.9,1208.9 1523.4,1208.2 1523.9,1207.4 1523.9,1206.1 1524.4,1205.4 1524.9,1204.6 1525.4,1202.8 1525.9,1202.0 1525.9,1203.4 1526.4,1203.8 1526.9,1204.1 1527.4,1204.3 1527.8,1204.7 1527.9,1204.8 1528.4,1205.7 1528.9,1207.0 1529.4,1208.0 1529.8,1208.8 1529.9,1207.9 1530.4,1208.4 1530.9,1208.9 1531.4,1211.2 1531.8,1211.6 1531.9,1211.7 1532.4,1212.0 1532.9,1210.7 1533.4,1211.4 1533.7,1211.6 1533.9,1211.7 1534.4,1212.9 1534.9,1213.4 1535.4,1213.7 1535.7,1214.0 1535.9,1214.3 1536.4,1214.2 1536.9,1212.7 1537.4,1212.6 1537.7,1212.5 1537.9,1213.2 1538.4,1213.4 1538.9,1215.0 1539.4,1214.6 1539.6,1214.7 1539.9,1214.8 1540.4,1213.4 1540.9,1213.6 1541.4,1213.7 1541.6,1213.8 1541.9,1215.4 1542.4,1215.4 1542.9,1215.3 1543.4,1214.5 1543.6,1214.4 1543.9,1214.3 1544.4,1213.2 1544.9,1214.4 1545.4,1214.1 1545.5,1214.0 1545.9,1211.6 1546.4,1211.5 1546.9,1211.5 1547.4,1212.5 1547.5,1212.5 1547.9,1212.5 1548.4,1213.8 1548.9,1213.8 1549.4,1214.3 1549.5,1212.3 1549.9,1212.6 1550.4,1212.2 1550.9,1212.7 1551.4,1217.3 1551.4,1217.3 1551.9,1217.4 1552.4,1214.4 1552.9,1214.5 1553.4,1214.6 1553.4,1215.3 1553.9,1214.5 1554.4,1212.4 1554.9,1212.0 1555.4,1212.4 1555.4,1212.4 1555.9,1215.2 1556.4,1212.4 1556.9,1212.8 1557.4,1212.9 1557.4,1213.7 1557.9,1213.6 1558.4,1213.6 1558.9,1214.5 1559.3,1214.4 1559.4,1214.5 1559.9,1213.1 1560.4,1213.2 1560.9,1212.8 1561.3,1212.9 1561.4,1212.8 1561.9,1212.2 1562.4,1212.1 1562.9,1212.0 1563.3,1212.3 1563.4,1212.3 1563.9,1212.3 1564.4,1212.0 1564.9,1212.9 1565.2,1212.9 1565.4,1213.0 1565.9,1213.4 1566.4,1213.8 1566.9,1214.1 1567.2,1214.3 1567.4,1214.3 1567.9,1216.1 1568.4,1216.1 1568.9,1215.5 1569.2,1212.6 1569.4,1213.0 1569.9,1213.6 1570.4,1213.5 1570.9,1213.3 1571.1,1213.3 1571.4,1213.4 1571.9,1214.4 1572.4,1214.3 1572.9,1214.5 1573.1,1213.5 1573.4,1214.3 1573.9,1213.9 1574.4,1213.6 1574.9,1213.2 1575.1,1213.0 1575.4,1213.1 1575.9,1213.5 1576.4,1213.6 1576.9,1213.8 1577.0,1213.8 1577.4,1213.6 1577.9,1214.0 1578.4,1213.7 1578.9,1213.5 1579.0,1213.4 1579.4,1213.4 1579.9,1212.9 1580.4,1211.7 1580.9,1211.7 1581.0,1211.7 1581.4,1211.6 1581.9,1213.9 1582.4,1213.4 1582.9,1213.0 1582.9,1213.0 1583.4,1212.7 1583.9,1212.8 1584.4,1213.1 1584.9,1214.6 1584.9,1214.6 1585.4,1214.2 1585.9,1214.4 1586.4,1213.4 1586.9,1213.5 1586.9,1213.5 1587.4,1212.8 1587.9,1214.0 1588.4,1213.9 1588.8,1213.7 1588.9,1213.0 1589.4,1213.0 1589.9,1214.2 1590.4,1214.2 1590.8,1214.2 1590.9,1213.2 1591.4,1213.4 1591.9,1212.8 1592.4,1213.0 1592.8,1213.2 1592.9,1213.1 1593.4,1213.1 1593.9,1213.1 1594.4,1214.1 1594.7,1214.1 1594.9,1214.0 1595.4,1212.6 1595.9,1212.3 1596.4,1212.9 1596.7,1212.7 1596.9,1213.0 1597.4,1214.9 1597.9,1213.8 1598.4,1216.5 1598.7,1213.8 1598.9,1213.7 1599.4,1213.8 1599.9,1213.7 1600.4,1213.6 1600.6,1214.5 1600.9,1214.5 1601.4,1214.0 1601.9,1213.5 1602.4,1213.1 1602.6,1212.9 1602.9,1212.9 1603.4,1213.3 1603.9,1213.5 1604.4,1213.2 1604.6,1214.2 1604.9,1214.2 1605.4,1214.1 1605.9,1214.1 1606.4,1214.0 1606.5,1213.3 1606.9,1213.2 1607.4,1214.6 1607.9,1214.4 1608.4,1214.3 1608.5,1213.5 1608.9,1213.8 1609.4,1213.6 1609.9,1213.5 1610.4,1213.6 1610.5,1213.6 1610.9,1213.8 1611.4,1213.3 1611.9,1213.6 1612.4,1211.8 1612.4,1214.2 1612.9,1214.1 1613.4,1213.6 1613.9,1212.7 1614.4,1212.7 1614.4,1212.7 1614.9,1214.7 1615.4,1214.9 1615.9,1215.2 1616.4,1212.7 1616.4,1212.7 1616.9,1212.9 1617.4,1212.7 1617.9,1215.1 1618.3,1214.9 1618.4,1214.9 1618.9,1213.6 1619.4,1213.4 1619.9,1213.8 1620.3,1213.6 1620.4,1212.8 1620.9,1212.8 1621.4,1213.8 1621.9,1213.8 1622.3,1211.5 1622.4,1211.5 1622.9,1211.6 1623.4,1213.7 1623.9,1213.9 1624.2,1213.9 1624.4,1214.7 1624.9,1214.9 1625.4,1214.7 1625.9,1214.0 1626.2,1214.1 1626.4,1214.0 1626.9,1213.7 1627.4,1213.3 1627.9,1212.9 1628.2,1211.9 1628.4,1212.0 1628.9,1212.3 1629.4,1213.9 1629.9,1214.2 1630.1,1214.3 1630.4,1213.6 1630.9,1213.8 1631.4,1215.1 1631.9,1214.3 1632.1,1214.5 1632.4,1215.8 1632.9,1215.3 1633.4,1214.8 1633.9,1213.1 1634.1,1212.9 1634.4,1214.8 1634.9,1212.8 1635.4,1215.6 1635.9,1216.0 1636.0,1216.2 1636.4,1216.3 1636.9,1215.9 1637.4,1215.5 1637.9,1212.4 1638.0,1212.4 1638.4,1214.1 1638.9,1214.2 1639.4,1214.3 1639.9,1214.1 1640.0,1214.1 1640.4,1213.2 1640.9,1213.1 1641.4,1213.0 1641.9,1214.5 1642.0,1214.5 1642.4,1214.7 1642.9,1212.5 1643.4,1214.6 1643.9,1213.8 1643.9,1213.8"/>
<polyline fill="none" stroke="#e63b3b" stroke-width="3.9" stroke-linejoin="round" points="166.4,802.4 166.9,802.7 167.4,802.0 167.9,802.3 168.4,802.5 168.4,803.2 168.9,803.0 169.4,801.8 169.9,801.6 170.3,800.9 170.4,803.7 170.9,803.4 171.4,800.8 171.9,800.5 172.3,801.2 172.4,801.2 172.9,801.3 173.4,800.6 173.9,800.7 174.3,801.0 174.4,801.0 174.9,802.6 175.4,802.8 175.9,801.7 176.2,801.9 176.4,802.7 176.9,802.6 177.4,802.4 177.9,803.1 178.2,802.5 178.4,801.6 178.9,801.8 179.4,802.0 179.9,802.8 180.2,802.9 180.4,803.7 180.9,803.2 181.4,801.5 181.9,801.0 182.1,800.7 182.4,800.0 182.9,800.7 183.4,801.7 183.9,804.1 184.1,803.3 184.4,803.3 184.9,803.2 185.4,803.1 185.9,803.2 186.1,803.1 186.4,802.8 186.9,803.3 187.4,802.7 187.9,802.1 188.0,799.4 188.4,799.6 188.9,799.8 189.4,801.0 189.9,801.2 190.0,801.2 190.4,801.2 190.9,804.2 191.4,800.7 191.9,800.7 192.0,800.6 192.4,800.8 192.9,800.9 193.4,800.9 193.9,802.8 193.9,802.8 194.4,803.0 194.9,802.9 195.4,803.1 195.9,801.3 195.9,801.3 196.4,801.0 196.9,802.6 197.4,802.4 197.9,802.1 197.9,802.9 198.4,802.8 198.9,802.7 199.4,800.8 199.8,800.7 199.9,800.8 200.4,801.1 200.9,801.8 201.4,802.1 201.8,803.2 201.9,801.4 202.4,801.5 202.9,801.6 203.4,804.8 203.8,805.4 203.9,805.3 204.4,805.0 204.9,803.5 205.4,802.3 205.7,802.1 205.9,802.0 206.4,802.2 206.9,802.6 207.4,802.8 207.7,802.5 207.9,802.3 208.4,802.0 208.9,802.2 209.4,802.2 209.7,802.0 209.9,800.1 210.4,800.5 210.9,801.8 211.4,802.2 211.7,802.5 211.9,804.1 212.4,801.3 212.9,802.5 213.4,802.7 213.6,802.1 213.9,801.9 214.4,801.6 214.9,802.4 215.4,802.1 215.6,802.0 215.9,801.6 216.4,802.0 216.9,801.9 217.4,801.8 217.6,800.0 217.9,802.0 218.4,801.7 218.9,801.3 219.4,800.8 219.5,800.7 219.9,801.0 220.4,800.9 220.9,801.2 221.4,801.5 221.5,801.8 221.9,802.6 222.4,799.1 222.9,800.5 223.4,800.2 223.5,798.9 223.9,799.4 224.4,799.9 224.9,799.2 225.4,800.2 225.4,800.3 225.9,802.4 226.4,804.1 226.9,804.3 227.4,804.3 227.4,804.3 227.9,804.2 228.4,803.2 228.9,802.6 229.4,802.5 229.4,802.5 229.9,803.0 230.4,802.8 230.9,802.4 231.3,802.2 231.4,802.2 231.9,802.0 232.4,801.9 232.9,803.0 233.3,803.0 233.4,803.0 233.9,801.6 234.4,801.4 234.9,801.1 235.3,800.6 235.4,800.6 235.9,800.7 236.4,802.0 236.9,802.1 237.2,802.2 237.4,801.5 237.9,802.7 238.4,802.6 238.9,802.5 239.2,800.5 239.4,800.5 239.9,800.4 240.4,800.2 240.9,799.4 241.2,800.5 241.4,800.2 241.9,798.6 242.4,797.7 242.9,796.9 243.1,795.4 243.4,795.6 243.9,796.0 244.4,797.4 244.9,798.3 245.1,798.5 245.4,798.6 245.9,798.4 246.4,798.6 246.9,798.5 247.1,798.5 247.4,798.6 247.9,799.4 248.4,799.5 248.9,799.2 249.0,799.2 249.4,801.1 249.9,801.6 250.4,802.0 250.9,801.0 251.0,801.0 251.4,801.2 251.9,802.0 252.4,802.2 252.9,801.7 253.0,801.7 253.4,801.2 253.9,799.8 254.4,799.3 254.9,798.8 254.9,801.8 255.4,802.3 255.9,799.6 256.4,800.2 256.9,803.5 256.9,803.5 257.4,801.7 257.9,801.4 258.4,801.1 258.9,800.2 258.9,800.2 259.4,800.1 259.9,803.1 260.4,803.0 260.8,800.5 260.9,800.6 261.4,800.8 261.9,800.8 262.4,801.0 262.8,802.4 262.9,802.6 263.4,802.5 263.9,800.9 264.4,800.7 264.8,801.7 264.9,801.7 265.4,801.7 265.9,802.3 266.4,802.4 266.7,802.4 266.9,800.5 267.4,802.8 267.9,802.7 268.4,801.1 268.7,801.1 268.9,801.1 269.4,801.9 269.9,802.0 270.4,802.1 270.7,801.5 270.9,801.4 271.4,800.9 271.9,801.7 272.4,801.6 272.6,801.5 272.9,801.7 273.4,801.8 273.9,801.9 274.4,800.5 274.6,800.6 274.9,800.4 275.4,800.3 275.9,800.2 276.4,802.2 276.6,802.2 276.9,800.4 277.4,800.3 277.9,800.3 278.4,800.4 278.5,800.4 278.9,801.0 279.4,801.4 279.9,802.4 280.4,802.8 280.5,801.3 280.9,801.2 281.4,802.6 281.9,802.4 282.4,802.3 282.5,803.2 282.9,803.3 283.4,803.0 283.9,803.1 284.4,803.2 284.4,802.5 284.9,802.7 285.4,802.9 285.9,802.4 286.4,802.6 286.4,802.4 286.9,802.2 287.4,802.3 287.9,802.1 288.4,801.9 288.4,803.5 288.9,803.3 289.4,803.2 289.9,803.2 290.3,803.1 290.4,801.2 290.9,800.7 291.4,800.5 291.9,800.3 292.3,800.0 292.4,800.0 292.9,800.4 293.4,801.3 293.9,801.7 294.3,801.9 294.4,803.2 294.9,803.2 295.4,803.6 295.9,803.5 296.2,801.0 296.4,801.1 296.9,801.2 297.4,803.2 297.9,800.6 298.2,800.6 298.4,803.4 298.9,803.1 299.4,802.9 299.9,800.2 300.2,800.1 300.4,802.3 300.9,802.2 301.4,801.2 301.9,802.4 302.2,802.8 302.4,802.7 302.9,799.9 303.4,799.6 303.9,799.9 304.1,799.7 304.4,800.4 304.9,800.9 305.4,801.4 305.9,801.0 306.1,801.1 306.4,801.3 306.9,800.9 307.4,801.3 307.9,801.3 308.1,801.2 308.4,802.7 308.9,802.9 309.4,802.9 309.9,802.4 310.0,802.4 310.4,802.6 310.9,802.4 311.4,802.6 311.9,802.8 312.0,802.3 312.4,803.0 312.9,803.3 313.4,803.2 313.9,803.1 314.0,801.3 314.4,801.3 314.9,801.2 315.4,802.2 315.9,801.7 315.9,801.7 316.4,802.8 316.9,800.5 317.4,800.6 317.9,802.4 317.9,801.7 318.4,802.7 318.9,800.3 319.4,801.6 319.9,801.3 319.9,801.3 320.4,803.0 320.9,803.4 321.4,803.7 321.8,801.5 321.9,801.6 322.4,801.8 322.9,801.8 323.4,802.0 323.8,801.3 323.9,801.3 324.4,802.8 324.9,802.9 325.4,802.8 325.8,804.6 325.9,804.5 326.4,802.0 326.9,801.0 327.4,800.5 327.7,802.1 327.9,802.2 328.4,800.5 328.9,800.9 329.4,803.3 329.7,803.5 329.9,803.3 330.4,801.6 330.9,801.5 331.4,801.4 331.7,803.3 331.9,803.2 332.4,799.4 332.9,799.1 333.4,798.8 333.6,802.9 333.9,802.9 334.4,802.8 334.9,801.8 335.4,801.8 335.6,800.5 335.9,800.7 336.4,801.3 336.9,801.5 337.4,801.2 337.6,801.3 337.9,802.0 338.4,801.8 338.9,802.1 339.4,802.4 339.5,803.8 339.9,803.7 340.4,803.5 340.9,802.3 341.4,804.2 341.5,801.3 341.9,801.1 342.4,803.0 342.9,802.7 343.4,802.5 343.5,800.5 343.9,800.7 344.4,800.8 344.9,800.3 345.4,800.5 345.4,801.6 345.9,801.8 346.4,802.0 346.9,802.9 347.4,804.0 347.4,804.0 347.9,803.8 348.4,801.7 348.9,802.4 349.4,802.2 349.4,802.2 349.9,802.3 350.4,801.1 350.9,802.8 351.3,802.8 351.4,802.8 351.9,799.3 352.4,799.5 352.9,802.3 353.3,801.5 353.4,801.5 353.9,802.4 354.4,800.6 354.9,800.9 355.3,800.6 355.4,801.1 355.9,801.6 356.4,799.6 356.9,800.1 357.2,800.4 357.4,800.9 357.9,800.5 358.4,800.2 358.9,802.4 359.2,801.0 359.4,801.1 359.9,801.3 360.4,801.7 360.9,801.9 361.2,802.3 361.4,802.3 361.9,802.4 362.4,801.7 362.9,802.6 363.1,800.2 363.4,802.9 363.9,802.4 364.4,802.3 364.9,802.6 365.1,802.6 365.4,802.5 365.9,801.8 366.4,801.7 366.9,801.6 367.1,801.8 367.4,801.8 367.9,802.4 368.4,800.4 368.9,800.4 369.0,800.5 369.4,803.4 369.9,803.6 370.4,803.8 370.9,802.6 371.0,802.7 371.4,802.3 371.9,801.0 372.4,800.6 372.9,800.2 373.0,799.9 373.4,800.0 373.9,800.1 374.4,802.1 374.9,802.2 374.9,801.9 375.4,802.1 375.9,802.8 376.4,803.0 376.9,803.3 376.9,801.1 377.4,802.6 377.9,802.7 378.4,803.9 378.9,804.0 378.9,804.0 379.4,801.9 379.9,801.7 380.4,801.2 380.8,801.0 380.9,803.3 381.4,803.2 381.9,803.1 382.4,802.6 382.8,802.3 382.9,802.3 383.4,802.5 383.9,803.1 384.4,804.0 384.8,801.6 384.9,802.4 385.4,802.2 385.9,801.4 386.4,801.2 386.7,800.9 386.9,802.1 387.4,802.5 387.9,801.2 388.4,802.4 388.7,802.7 388.9,802.6 389.4,803.2 389.9,803.1 390.4,803.0 390.7,805.1 390.9,803.2 391.4,803.3 391.9,804.5 392.4,804.6 392.7,804.7 392.9,802.3 393.4,801.8 393.9,801.3 394.4,802.6 394.6,803.2 394.9,801.0 395.4,801.1 395.9,801.1 396.4,802.3 396.6,802.3 396.9,802.4 397.4,801.5 397.9,801.5 398.4,801.6 398.6,802.2 398.9,802.1 399.4,801.9 399.9,801.2 400.4,801.0 400.5,799.9 400.9,800.0 401.4,800.1 401.9,800.1 402.4,800.3 402.5,801.5 402.9,801.7 403.4,802.0 403.9,802.0 404.4,802.2 404.5,799.3 404.9,802.6 405.4,802.2 405.9,801.9 406.4,802.2 406.4,802.1 406.9,802.3 407.4,803.0 407.9,803.1 408.4,803.2 408.4,801.1 408.9,801.2 409.4,801.6 409.9,801.9 410.4,801.4 410.4,801.4 410.9,803.2 411.4,804.1 411.9,803.9 412.3,803.7 412.4,801.8 412.9,801.9 413.4,801.9 413.9,803.0 414.3,803.0 414.4,802.1 414.9,803.3 415.4,803.2 415.9,802.1 416.3,802.0 416.4,800.4 416.9,800.3 417.4,800.2 417.9,801.9 418.2,801.8 418.4,801.5 418.9,801.6 419.4,802.1 419.9,802.2 420.2,802.2 420.4,802.1 420.9,801.7 421.4,802.1 421.9,802.3 422.2,802.3 422.4,801.9 422.9,800.0 423.4,799.8 423.9,799.7 424.1,804.3 424.4,804.3 424.9,799.9 425.4,800.1 425.9,804.4 426.1,801.4 426.4,801.9 426.9,801.8 427.4,803.2 427.9,803.1 428.1,803.1 428.4,801.9 428.9,801.9 429.4,801.9 429.9,802.0 430.0,803.0 430.4,803.3 430.9,802.3 431.4,803.7 431.9,801.9 432.0,802.0 432.4,801.8 432.9,802.9 433.4,802.7 433.9,802.5 434.0,802.0 434.4,801.7 434.9,801.9 435.4,801.5 435.9,801.9 435.9,801.9 436.4,802.0 436.9,801.5 437.4,801.7 437.9,801.4 437.9,801.4 438.4,801.9 438.9,802.3 439.4,801.4 439.9,802.9 439.9,802.7 440.4,801.9 440.9,801.9 441.4,801.9 441.8,801.0 441.9,800.9 442.4,803.0 442.9,802.5 443.4,801.9 443.8,801.5 443.9,801.1 444.4,801.4 444.9,801.2 445.4,803.0 445.8,803.2 445.9,803.2 446.4,801.9 446.9,801.8 447.4,801.7 447.7,801.7 447.9,801.5 448.4,800.9 448.9,800.4 449.4,798.9 449.7,800.8 449.9,801.0 450.4,799.4 450.9,800.6 451.4,801.1 451.7,802.1 451.9,802.3 452.4,802.6 452.9,802.2 453.4,802.5 453.6,803.9 453.9,803.7 454.4,803.2 454.9,803.7 455.4,801.7 455.6,801.5 455.9,801.5 456.4,804.8 456.9,804.9 457.4,805.0 457.6,800.0 457.9,800.2 458.4,800.4 458.9,803.3 459.4,803.3 459.5,803.3 459.9,803.2 460.4,802.5 460.9,802.0 461.4,801.7 461.5,801.4 461.9,801.4 462.4,799.3 462.9,799.3 463.4,802.2 463.5,801.4 463.9,801.6 464.4,803.5 464.9,803.6 465.4,803.8 465.4,802.3 465.9,802.0 466.4,801.7 466.9,800.9 467.4,800.0 467.4,800.0 467.9,800.3 468.4,801.0 468.9,801.8 469.4,802.2 469.4,802.2 469.9,801.9 470.4,802.7 470.9,801.6 471.3,801.3 471.4,801.4 471.9,800.3 472.4,800.7 472.9,802.5 473.3,802.8 473.4,802.8 473.9,803.2 474.4,802.8 474.9,803.5 475.3,802.5 475.4,802.5 475.9,802.4 476.4,802.5 476.9,802.7 477.2,803.3 477.4,803.2 477.9,802.9 478.4,802.4 478.9,802.8 479.2,801.6 479.4,802.2 479.9,802.4 480.4,802.6 480.9,802.1 481.2,801.6 481.4,801.6 481.9,801.6 482.4,801.4 482.9,802.7 483.2,800.7 483.4,799.4 483.9,799.0 484.4,802.6 484.9,802.2 485.1,800.4 485.4,800.6 485.9,800.9 486.4,800.2 486.9,801.6 487.1,801.7 487.4,801.8 487.9,802.1 488.4,801.5 488.9,801.1 489.1,801.0 489.4,801.0 489.9,801.1 490.4,801.6 490.9,802.2 491.0,802.2 491.4,802.4 491.9,802.5 492.4,802.8 492.9,803.1 493.0,802.8 493.4,803.4 493.9,803.7 494.4,801.5 494.9,801.2 495.0,801.1 495.4,801.9 495.9,801.9 496.4,801.8 496.9,802.5 496.9,802.5 497.4,802.5 497.9,801.9 498.4,802.5 498.9,802.5 498.9,802.1 499.4,802.1 499.9,801.7 500.4,801.7 500.9,802.4 500.9,802.3 501.4,802.4 501.9,802.5 502.4,802.4 502.8,802.6 502.9,802.6 503.4,801.5 503.9,803.7 504.4,803.9 504.8,804.1 504.9,804.1 505.4,801.5 505.9,801.1 506.4,800.5 506.8,800.2 506.9,800.2 507.4,800.9 507.9,801.4 508.4,801.6 508.7,803.2 508.9,803.0 509.4,802.6 509.9,801.6 510.4,801.2 510.7,800.9 510.9,800.7 511.4,800.5 511.9,802.6 512.4,800.1 512.7,800.1 512.9,801.9 513.4,802.3 513.9,803.2 514.4,803.5 514.6,803.7 514.9,803.3 515.4,801.7 515.9,801.3 516.4,800.8 516.6,801.1 516.9,799.2 517.4,799.7 517.9,800.1 518.4,800.6 518.6,801.3 518.9,801.4 519.4,801.5 519.9,801.7 520.4,803.2 520.5,803.3 520.9,803.0 521.4,802.6 521.9,799.8 522.4,801.4 522.5,801.3 522.9,801.3 523.4,801.0 523.9,802.1 524.4,802.1 524.5,802.1 524.9,801.4 525.4,801.5 525.9,802.0 526.4,802.2 526.4,802.2 526.9,801.3 527.4,801.2 527.9,801.3 528.4,800.4 528.4,800.4 528.9,803.7 529.4,803.8 529.9,803.9 530.4,802.4 530.4,802.4 530.9,800.6 531.4,800.5 531.9,802.1 532.3,802.0 532.4,801.5 532.9,801.8 533.4,801.3 533.9,801.7 534.3,801.9 534.4,803.2 534.9,803.1 535.4,803.0 535.9,801.3 536.3,802.5 536.4,802.5 536.9,802.5 537.4,803.1 537.9,803.0 538.2,803.0 538.4,802.4 538.9,801.0 539.4,800.6 539.9,798.7 540.2,800.3 540.4,800.4 540.9,799.2 541.4,799.4 541.9,799.7 542.2,802.8 542.4,801.2 542.9,801.3 543.4,801.4 543.9,802.4 544.1,800.6 544.4,800.6 544.9,800.6 545.4,800.7 545.9,802.6 546.1,802.2 546.4,802.1 546.9,801.8 547.4,803.0 547.9,802.7 548.1,802.6 548.4,803.6 548.9,803.8 549.4,804.1 549.9,801.5 550.0,801.3 550.4,801.4 550.9,801.4 551.4,803.7 551.9,803.7 552.0,803.7 552.4,802.6 552.9,802.4 553.4,802.1 553.9,802.6 554.0,802.6 554.4,802.8 554.9,801.4 555.4,801.7 555.9,801.9 555.9,801.9 556.4,801.8 556.9,801.0 557.4,800.9 557.9,800.7 557.9,801.8 558.4,802.4 558.9,802.2 559.4,802.3 559.9,802.1 559.9,801.6 560.4,800.6 560.9,800.8 561.4,801.0 561.8,801.9 561.9,801.9 562.4,802.2 562.9,802.3 563.4,802.5 563.8,802.8 563.9,802.8 564.4,802.6 564.9,802.4 565.4,802.2 565.8,802.3 565.9,802.3 566.4,802.2 566.9,802.0 567.4,801.9 567.7,801.8 567.9,802.0 568.4,802.2 568.9,802.3 569.4,801.7 569.7,800.8 569.9,800.8 570.4,802.3 570.9,802.3 571.4,802.3 571.7,801.8 571.9,801.7 572.4,801.7 572.9,802.9 573.4,802.8 573.7,802.7 573.9,801.5 574.4,801.1 574.9,800.7 575.4,800.4 575.6,800.2 575.9,800.1 576.4,801.0 576.9,800.9 577.4,799.8 577.6,799.7 577.9,800.5 578.4,800.7 578.9,801.0 579.4,801.1 579.6,801.2 579.9,802.1 580.4,802.7 580.9,803.3 581.4,803.0 581.5,803.2 581.9,803.0 582.4,802.8 582.9,803.7 583.4,803.6 583.5,800.6 583.9,800.2 584.4,802.1 584.9,801.7 585.4,802.4 585.5,800.2 585.9,801.1 586.4,800.6 586.9,801.0 587.4,801.4 587.4,803.5 587.9,803.2 588.4,802.8 588.9,801.7 589.4,801.3 589.4,801.3 589.9,801.2 590.4,801.5 590.9,801.8 591.4,803.1 591.4,803.2 591.9,801.7 592.4,801.9 592.9,802.0 593.3,801.2 593.4,801.2 593.9,802.5 594.4,801.5 594.9,801.3 595.3,802.9 595.4,803.0 595.9,803.1 596.4,802.4 596.9,802.5 597.3,800.2 597.4,805.4 597.9,803.2 598.4,803.2 598.9,803.2 599.2,801.6 599.4,801.4 599.9,801.6 600.4,801.2 600.9,801.7 601.2,800.7 601.4,800.8 601.9,801.1 602.4,802.2 602.9,801.5 603.2,802.9 603.4,803.0 603.9,803.1 604.4,803.5 604.9,801.9 605.1,802.0 605.4,801.9 605.9,802.6 606.4,802.4 606.9,802.2 607.1,799.3 607.4,801.3 607.9,801.1 608.4,801.7 608.9,801.5 609.1,799.7 609.4,800.0 609.9,800.6 610.4,802.5 610.9,803.0 611.0,804.2 611.4,804.1 611.9,803.8 612.4,801.2 612.9,801.0 613.0,800.9 613.4,800.8 613.9,800.6 614.4,800.4 614.9,800.2 615.0,799.7 615.4,801.4 615.9,801.3 616.4,799.5 616.9,799.4 616.9,800.2 617.4,800.4 617.9,802.2 618.4,802.4 618.9,802.5 618.9,804.5 619.4,804.7 619.9,804.9 620.4,802.6 620.9,802.8 620.9,801.8 621.4,801.5 621.9,801.2 622.4,802.4 622.8,802.1 622.9,800.8 623.4,800.5 623.9,800.6 624.4,801.8 624.8,802.0 624.9,801.1 625.4,801.1 625.9,801.0 626.4,802.0 626.8,802.0 626.9,801.3 627.4,802.5 627.9,802.4 628.4,802.3 628.7,800.2 628.9,801.5 629.4,801.5 629.9,801.5 630.4,802.3 630.7,799.8 630.9,799.8 631.4,799.8 631.9,800.9 632.4,800.8 632.7,800.8 632.9,801.0 633.4,800.8 633.9,800.6 634.4,801.2 634.6,802.5 634.9,799.8 635.4,799.7 635.9,799.9 636.4,801.8 636.6,801.7 636.9,802.4 637.4,802.7 637.9,802.9 638.4,801.2 638.6,801.3 638.9,801.1 639.4,801.0 639.9,800.7 640.4,800.2 640.5,800.1 640.9,799.2 641.4,798.0 641.9,796.2 642.4,794.9 642.5,796.0 642.9,794.6 643.4,793.4 643.9,792.5 644.4,789.8 644.5,789.8 644.9,792.5 645.4,793.7 645.9,794.3 646.4,795.2 646.4,795.3 646.9,796.2 647.4,797.7 647.9,796.6 648.4,797.7 648.4,797.7 648.9,798.9 649.4,799.2 649.9,799.4 650.4,799.3 650.4,799.3 650.9,801.8 651.4,802.0 651.9,802.2 652.3,800.2 652.4,798.5 652.9,800.4 653.4,800.2 653.9,800.3 654.3,800.4 654.4,800.5 654.9,800.7 655.4,800.9 655.9,799.9 656.3,800.1 656.4,800.0 656.9,802.8 657.4,801.5 657.9,801.2 658.2,801.0 658.4,801.7 658.9,801.3 659.4,801.7 659.9,802.1 660.2,804.7 660.4,804.6 660.9,804.4 661.4,800.5 661.9,801.4 662.2,801.3 662.4,801.4 662.9,800.2 663.4,800.4 663.9,800.6 664.2,802.9 664.4,802.0 664.9,802.0 665.4,803.2 665.9,803.2 666.1,801.2 666.4,801.1 666.9,801.0 667.4,802.0 667.9,801.8 668.1,801.8 668.4,802.5 668.9,802.5 669.4,802.5 669.9,801.5 670.1,801.5 670.4,802.6 670.9,802.6 671.4,802.7 671.9,801.1 672.0,801.1 672.4,800.7 672.9,800.7 673.4,803.3 673.9,803.3 674.0,801.4 674.4,801.5 674.9,801.5 675.4,802.3 675.9,802.3 676.0,801.5 676.4,802.9 676.9,803.0 677.4,802.7 677.9,802.8 677.9,802.4 678.4,801.0 678.9,800.5 679.4,801.5 679.9,801.6 679.9,801.6 680.4,800.3 680.9,800.3 681.4,799.6 681.9,799.5 681.9,799.5 682.4,799.6 682.9,801.4 683.4,799.9 683.8,800.1 683.9,800.1 684.4,800.4 684.9,800.5 685.4,803.3 685.8,803.3 685.9,800.3 686.4,800.6 686.9,799.7 687.4,800.0 687.8,802.9 687.9,802.9 688.4,803.0 688.9,802.0 689.4,802.5 689.7,801.9 689.9,801.9 690.4,802.0 690.9,801.7 691.4,801.8 691.7,802.4 691.9,802.1 692.4,801.9 692.9,802.5 693.4,801.4 693.7,801.3 693.9,801.5 694.4,800.7 694.9,801.0 695.4,803.6 695.6,802.2 695.9,802.1 696.4,801.8 696.9,802.5 697.4,802.2 697.6,801.8 697.9,801.9 698.4,802.5 698.9,802.6 699.4,802.7 699.6,800.5 699.9,800.6 700.4,800.7 700.9,801.7 701.4,801.9 701.5,801.9 701.9,803.5 702.4,803.4 702.9,803.2 703.4,802.1 703.5,802.6 703.9,802.4 704.4,801.9 704.9,801.2 705.4,801.1 705.5,801.0 705.9,802.1 706.4,802.0 706.9,802.0 707.4,801.5 707.4,802.3 707.9,802.4 708.4,802.6 708.9,801.9 709.4,802.0 709.4,801.3 709.9,800.3 710.4,800.2 710.9,801.2 711.4,799.9 711.4,799.9 711.9,800.3 712.4,801.9 712.9,802.7 713.3,803.0 713.4,801.9 713.9,800.3 714.4,799.5 714.9,799.9 715.3,799.2 715.4,798.8 715.9,798.5 716.4,798.2 716.9,795.7 717.3,795.5 717.4,798.8 717.9,799.7 718.4,799.4 718.9,800.3 719.2,803.3 719.4,803.1 719.9,802.7 720.4,803.1 720.9,799.5 721.2,799.3 721.4,800.8 721.9,798.2 722.4,798.6 722.9,798.9 723.2,803.1 723.4,803.2 723.9,801.6 724.4,801.8 724.9,801.6 725.1,801.8 725.4,801.4 725.9,801.3 726.4,801.9 726.9,801.8 727.1,801.8 727.4,801.3 727.9,801.4 728.4,801.4 728.9,802.5 729.1,801.5 729.4,802.3 729.9,802.5 730.4,802.8 730.9,802.3 731.0,803.2 731.4,804.4 731.9,804.5 732.4,802.4 732.9,802.6 733.0,802.6 733.4,804.6 733.9,804.3 734.4,803.9 734.9,802.9 735.0,802.8 735.4,802.8 735.9,802.3 736.4,802.3 736.9,803.5 736.9,800.1 737.4,800.8 737.9,800.7 738.4,800.7 738.9,801.6 738.9,800.7 739.4,800.7 739.9,800.3 740.4,800.2 740.9,800.2 740.9,801.7 741.4,801.7 741.9,801.7 742.4,800.8 742.8,800.8 742.9,800.2 743.4,800.3 743.9,800.4 744.4,801.8 744.8,801.9 744.9,801.9 745.4,802.7 745.9,802.6 746.4,801.0 746.8,800.9 746.9,802.0 747.4,802.7 747.9,800.8 748.4,800.9 748.8,801.0 748.9,802.3 749.4,802.1 749.9,801.0 750.4,801.6 750.7,801.5 750.9,800.9 751.4,800.7 751.9,802.7 752.4,799.8 752.7,801.5 752.9,801.6 753.4,801.5 753.9,801.6 754.4,803.1 754.7,802.2 754.9,802.5 755.4,803.0 755.9,803.0 756.4,803.0 756.6,803.0 756.9,803.0 757.4,800.7 757.9,800.7 758.4,800.6 758.6,803.7 758.9,803.7 759.4,803.7 759.9,801.0 760.4,801.0 760.6,801.0 760.9,801.9 761.4,801.5 761.9,801.9 762.4,800.8 762.5,803.0 762.9,802.7 763.4,803.0 763.9,802.7 764.4,802.4 764.5,801.8 764.9,802.1 765.4,800.9 765.9,801.3 766.4,801.9 766.5,802.9 766.9,803.1 767.4,802.8 767.9,802.2 768.4,800.0 768.4,799.9 768.9,801.2 769.4,801.4 769.9,801.9 770.4,802.1 770.4,802.0 770.9,802.2 771.4,802.5 771.9,803.3 772.4,803.5 772.4,803.5 772.9,803.3 773.4,800.4 773.9,803.0 774.3,803.8 774.4,803.7 774.9,803.2 775.4,801.5 775.9,801.0 776.3,800.0 776.4,800.1 776.9,800.5 777.4,800.4 777.9,800.3 778.3,801.2 778.4,803.2 778.9,803.4 779.4,802.9 779.9,803.1 780.2,803.2 780.4,801.8 780.9,801.3 781.4,800.9 781.9,801.9 782.2,801.6 782.4,801.6 782.9,799.8 783.4,801.2 783.9,801.2 784.2,800.0 784.4,801.9 784.9,802.0 785.4,802.2 785.9,800.8 786.1,803.2 786.4,800.8 786.9,800.1 787.4,800.1 787.9,799.4 788.1,799.1 788.4,798.7 788.9,798.9 789.4,799.0 789.9,799.2 790.1,799.3 790.4,801.5 790.9,799.7 791.4,799.0 791.9,796.8 792.0,796.6 792.4,796.8 792.9,798.1 793.4,798.4 793.9,798.7 794.0,798.2 794.4,798.5 794.9,798.9 795.4,799.2 795.9,799.6 796.0,799.8 796.4,800.0 796.9,801.0 797.4,801.5 797.9,801.4 797.9,798.8 798.4,799.3 798.9,801.9 799.4,802.3 799.9,802.8 799.9,802.8 800.4,802.8 800.9,801.5 801.4,801.5 801.9,801.2 801.9,801.2 802.4,801.1 802.9,802.0 803.4,801.9 803.8,801.6 803.9,801.6 804.4,802.4 804.9,802.4 805.4,802.4 805.8,802.6 805.9,802.6 806.4,802.3 806.9,799.4 807.4,799.1 807.8,798.8 807.9,801.6 808.4,801.8 808.9,801.9 809.4,801.0 809.7,801.1 809.9,801.2 810.4,799.9 810.9,800.2 811.4,800.5 811.7,803.0 811.9,801.2 812.4,800.8 812.9,800.4 813.4,800.8 813.7,800.6 813.9,802.2 814.4,800.8 814.9,801.3 815.4,801.7 815.6,800.9 815.9,802.5 816.4,802.2 816.9,801.9 817.4,802.4 817.6,802.3 817.9,802.2 818.4,799.5 818.9,799.4 819.4,799.5 819.6,801.3 819.9,801.5 820.4,802.4 820.9,802.7 821.4,803.0 821.5,801.4 821.9,801.4 822.4,801.4 822.9,800.9 823.4,803.2 823.5,803.2 823.9,800.4 824.4,800.2 824.9,799.9 825.4,800.6 825.5,799.3 825.9,801.0 826.4,801.0 826.9,800.9 827.4,800.9 827.4,800.9 827.9,801.1 828.4,801.0 828.9,801.0 829.4,802.0 829.4,801.6 829.9,801.6 830.4,801.7 830.9,801.0 831.4,801.0 831.4,801.0 831.9,800.5 832.4,800.2 832.9,799.9 833.3,800.6 833.4,799.4 833.9,799.7 834.4,800.2 834.9,800.1 835.3,800.6 835.4,800.7 835.9,801.1 836.4,801.5 836.9,801.8 837.3,802.1 837.4,802.8 837.9,802.5 838.4,802.2 838.9,801.2 839.3,800.9 839.4,801.0 839.9,801.1 840.4,800.1 840.9,800.3 841.2,800.4 841.4,800.7 841.9,800.8 842.4,800.9 842.9,802.2 843.2,802.2 843.4,803.0 843.9,802.9 844.4,802.7 844.9,801.0 845.2,801.0 845.4,800.9 845.9,802.2 846.4,802.1 846.9,801.9 847.1,799.7 847.4,799.7 847.9,800.4 848.4,800.4 848.9,801.5 849.1,800.6 849.4,800.6 849.9,802.2 850.4,802.2 850.9,802.2 851.1,799.8 851.4,799.9 851.9,801.6 852.4,801.7 852.9,802.8 853.0,799.3 853.4,800.5 853.9,802.4 854.4,800.0 854.9,799.9 855.0,800.5 855.4,800.6 855.9,800.8 856.4,801.1 856.9,801.2 857.0,801.2 857.4,803.2 857.9,803.3 858.4,803.5 858.9,802.1 858.9,802.1 859.4,801.8 859.9,800.8 860.4,800.5 860.9,802.1 860.9,801.7 861.4,801.3 861.9,800.9 862.4,800.5 862.9,800.1 862.9,799.2 863.4,799.4 863.9,799.7 864.4,800.5 864.8,800.6 864.9,800.6 865.4,799.3 865.9,798.9 866.4,798.5 866.8,798.0 866.9,797.8 867.4,796.9 867.9,795.8 868.4,795.4 868.8,794.6 868.9,794.5 869.4,793.0 869.9,790.9 870.4,788.8 870.7,786.2 870.9,786.5 871.4,782.6 871.9,779.2 872.4,776.2 872.7,775.5 872.9,772.5 873.4,772.7 873.9,771.0 874.4,769.0 874.7,768.1 874.9,766.6 875.4,768.9 875.9,771.2 876.4,774.1 876.6,775.1 876.9,775.5 877.4,782.5 877.9,785.7 878.4,788.9 878.6,787.3 878.9,788.3 879.4,789.8 879.9,793.9 880.4,795.5 880.6,794.4 880.9,795.0 881.4,795.8 881.9,796.8 882.4,796.7 882.5,796.9 882.9,797.3 883.4,799.8 883.9,800.2 884.4,800.7 884.5,799.4 884.9,801.8 885.4,799.5 885.9,799.4 886.4,799.5 886.5,799.5 886.9,799.7 887.4,799.6 887.9,799.9 888.4,801.0 888.4,801.0 888.9,801.7 889.4,801.9 889.9,802.0 890.4,802.2 890.4,802.2 890.9,802.3 891.4,801.4 891.9,801.2 892.4,801.3 892.4,801.3 892.9,801.2 893.4,801.0 893.9,800.8 894.3,800.4 894.4,800.4 894.9,800.2 895.4,800.2 895.9,800.2 896.3,803.2 896.4,803.2 896.9,803.1 897.4,801.0 897.9,801.7 898.3,800.6 898.4,802.3 898.9,802.3 899.4,798.6 899.9,798.6 900.2,798.6 900.4,799.6 900.9,799.7 901.4,799.8 901.9,801.2 902.2,802.1 902.4,802.0 902.9,802.0 903.4,801.3 903.9,801.3 904.2,800.1 904.4,800.2 904.9,800.3 905.4,802.1 905.9,801.9 906.1,802.0 906.4,801.9 906.9,800.4 907.4,800.3 907.9,802.0 908.1,801.6 908.4,801.5 908.9,801.4 909.4,801.7 909.9,801.6 910.1,799.9 910.4,800.1 910.9,801.5 911.4,802.0 911.9,803.3 912.0,803.4 912.4,801.5 912.9,801.1 913.4,801.0 913.9,802.0 914.0,801.9 914.4,801.8 914.9,802.1 915.4,800.3 915.9,800.5 916.0,800.5 916.4,801.4 916.9,803.3 917.4,803.2 917.9,801.6 917.9,801.6 918.4,801.4 918.9,800.9 919.4,800.7 919.9,801.4 919.9,802.3 920.4,800.8 920.9,800.9 921.4,801.5 921.9,801.6 921.9,802.1 922.4,802.1 922.9,802.2 923.4,801.5 923.8,801.5 923.9,801.5 924.4,800.9 924.9,800.7 925.4,800.5 925.8,801.2 925.9,800.8 926.4,800.7 926.9,801.3 927.4,801.1 927.8,800.6 927.9,799.8 928.4,800.5 928.9,801.2 929.4,801.7 929.8,802.2 929.9,802.3 930.4,801.7 930.9,801.1 931.4,800.5 931.7,799.5 931.9,800.4 932.4,798.3 932.9,798.4 933.4,801.0 933.7,801.0 933.9,801.0 934.4,799.1 934.9,799.1 935.4,799.6 935.7,799.6 935.9,799.6 936.4,800.2 936.9,800.2 937.4,800.2 937.6,802.0 937.9,802.0 938.4,802.1 938.9,799.4 939.4,799.5 939.6,799.6 939.9,802.1 940.4,802.0 940.9,802.0 941.4,800.8 941.6,800.8 941.9,800.1 942.4,799.2 942.9,798.8 943.4,798.5 943.5,798.4 943.9,799.9 944.4,800.0 944.9,798.0 945.4,799.9 945.5,798.7 945.9,798.6 946.4,798.9 946.9,798.8 947.4,798.8 947.5,798.2 947.9,798.0 948.4,799.9 948.9,799.6 949.4,797.5 949.4,798.2 949.9,798.3 950.4,798.3 950.9,798.1 951.4,799.0 951.4,797.5 951.9,797.1 952.4,796.8 952.9,795.3 953.4,795.0 953.4,795.0 953.9,795.7 954.4,795.5 954.9,797.2 955.3,797.0 955.4,796.9 955.9,795.0 956.4,795.3 956.9,794.6 957.3,794.0 957.4,793.9 957.9,793.8 958.4,793.4 958.9,793.2 959.3,793.1 959.4,791.2 959.9,789.9 960.4,788.6 960.9,788.4 961.2,788.6 961.4,787.9 961.9,784.5 962.4,782.4 962.9,780.3 963.2,777.9 963.4,778.4 963.9,773.6 964.4,768.8 964.9,763.7 965.2,759.0 965.4,753.6 965.9,744.3 966.4,732.8 966.9,721.4 967.1,715.0 967.4,703.7 967.9,684.2 968.4,663.2 968.9,642.1 969.1,631.7 969.4,615.9 969.9,587.7 970.4,560.3 970.9,533.3 971.1,524.2 971.4,515.9 971.9,499.2 972.4,485.1 972.9,472.9 973.0,469.1 973.4,479.9 973.9,495.2 974.4,508.4 974.9,525.0 975.0,528.0 975.4,549.5 975.9,575.5 976.4,602.5 976.9,629.2 977.0,631.9 977.4,649.8 977.9,670.6 978.4,692.0 978.9,712.8 978.9,713.9 979.4,724.7 979.9,736.3 980.4,750.3 980.9,761.9 980.9,762.0 981.4,764.9 981.9,769.7 982.4,774.6 982.9,779.8 982.9,780.0 983.4,783.0 983.9,784.9 984.4,785.9 984.8,787.6 984.9,787.7 985.4,789.0 985.9,789.6 986.4,790.5 986.8,790.7 986.9,790.9 987.4,791.7 987.9,792.8 988.4,793.6 988.8,794.2 988.9,795.0 989.4,795.8 989.9,794.5 990.4,794.7 990.7,795.0 990.9,795.2 991.4,795.5 991.9,797.4 992.4,797.7 992.7,798.0 992.9,795.6 993.4,796.6 993.9,798.5 994.4,798.2 994.7,798.1 994.9,798.1 995.4,797.0 995.9,796.8 996.4,796.7 996.6,798.3 996.9,798.4 997.4,798.5 997.9,798.4 998.4,798.6 998.6,798.8 998.9,799.2 999.4,799.7 999.9,800.7 1000.4,801.4 1000.6,800.3 1000.9,801.3 1001.4,800.8 1001.9,799.7 1002.4,799.9 1002.5,799.8 1002.9,797.7 1003.4,798.1 1003.9,799.9 1004.4,799.9 1004.5,800.0 1004.9,800.1 1005.4,801.1 1005.9,801.1 1006.4,801.2 1006.5,798.4 1006.9,798.3 1007.4,798.1 1007.9,799.6 1008.4,799.4 1008.4,799.4 1008.9,800.5 1009.4,800.5 1009.9,799.1 1010.4,799.0 1010.4,799.6 1010.9,799.7 1011.4,800.1 1011.9,800.2 1012.4,800.3 1012.4,800.3 1012.9,800.2 1013.4,800.9 1013.9,800.7 1014.3,799.9 1014.4,799.9 1014.9,799.4 1015.4,799.4 1015.9,799.4 1016.3,799.4 1016.4,799.3 1016.9,798.6 1017.4,798.2 1017.9,797.9 1018.3,797.7 1018.4,798.4 1018.9,797.8 1019.4,797.5 1019.9,797.0 1020.3,796.6 1020.4,795.1 1020.9,796.1 1021.4,796.1 1021.9,795.8 1022.2,795.6 1022.4,795.3 1022.9,795.9 1023.4,796.5 1023.9,797.7 1024.2,798.0 1024.4,798.6 1024.9,799.0 1025.4,799.4 1025.9,798.8 1026.2,799.0 1026.4,799.2 1026.9,799.5 1027.4,799.9 1027.9,798.8 1028.1,799.0 1028.4,800.5 1028.9,801.0 1029.4,799.3 1029.9,802.0 1030.1,802.2 1030.4,802.9 1030.9,802.6 1031.4,802.3 1031.9,799.3 1032.1,802.6 1032.4,802.7 1032.9,802.9 1033.4,801.4 1033.9,801.6 1034.0,801.2 1034.4,801.0 1034.9,800.8 1035.4,801.0 1035.9,800.7 1036.0,800.4 1036.4,800.3 1036.9,801.3 1037.4,802.5 1037.9,798.9 1038.0,798.9 1038.4,801.7 1038.9,802.0 1039.4,801.6 1039.9,801.9 1039.9,800.6 1040.4,800.7 1040.9,800.8 1041.4,802.6 1041.9,802.6 1041.9,802.6 1042.4,801.0 1042.9,800.9 1043.4,800.2 1043.9,797.9 1043.9,798.0 1044.4,800.5 1044.9,800.5 1045.4,801.2 1045.8,802.5 1045.9,802.5 1046.4,802.5 1046.9,802.6 1047.4,802.3 1047.8,802.3 1047.9,802.3 1048.4,802.1 1048.9,803.2 1049.4,803.1 1049.8,799.7 1049.9,801.4 1050.4,800.5 1050.9,800.5 1051.4,802.7 1051.7,802.7 1051.9,802.6 1052.4,799.6 1052.9,801.6 1053.4,799.4 1053.7,800.4 1053.9,800.5 1054.4,800.7 1054.9,800.3 1055.4,802.1 1055.7,802.2 1055.9,802.1 1056.4,799.9 1056.9,801.6 1057.4,801.4 1057.6,801.2 1057.9,801.1 1058.4,801.7 1058.9,802.5 1059.4,802.7 1059.6,802.7 1059.9,802.7 1060.4,801.0 1060.9,801.0 1061.4,801.9 1061.6,800.4 1061.9,800.5 1062.4,801.0 1062.9,801.9 1063.4,802.0 1063.5,799.5 1063.9,799.3 1064.4,799.1 1064.9,802.2 1065.4,801.9 1065.5,801.9 1065.9,800.8 1066.4,800.9 1066.9,803.0 1067.4,800.7 1067.5,800.7 1067.9,800.7 1068.4,801.8 1068.9,801.9 1069.4,801.9 1069.4,801.9 1069.9,802.1 1070.4,801.9 1070.9,802.0 1071.4,801.7 1071.4,801.5 1071.9,801.2 1072.4,800.9 1072.9,801.6 1073.4,801.3 1073.4,800.6 1073.9,802.2 1074.4,799.8 1074.9,802.7 1075.3,802.9 1075.4,802.8 1075.9,801.8 1076.4,801.6 1076.9,801.0 1077.3,801.2 1077.4,801.0 1077.9,801.2 1078.4,800.4 1078.9,800.6 1079.3,801.4 1079.4,801.4 1079.9,801.2 1080.4,801.6 1080.9,801.4 1081.2,801.2 1081.4,801.2 1081.9,801.2 1082.4,801.3 1082.9,801.2 1083.2,802.8 1083.4,800.3 1083.9,800.4 1084.4,801.0 1084.9,802.7 1085.2,802.7 1085.4,802.9 1085.9,802.1 1086.4,802.5 1086.9,802.9 1087.1,803.8 1087.4,803.8 1087.9,803.8 1088.4,801.6 1088.9,801.6 1089.1,801.6 1089.4,801.8 1089.9,802.6 1090.4,802.3 1090.9,802.1 1091.1,800.9 1091.4,800.9 1091.9,800.8 1092.4,801.0 1092.9,801.0 1093.0,802.4 1093.4,801.1 1093.9,801.2 1094.4,801.2 1094.9,802.6 1095.0,802.6 1095.4,802.3 1095.9,799.9 1096.4,800.3 1096.9,802.8 1097.0,802.7 1097.4,802.0 1097.9,802.6 1098.4,803.2 1098.9,802.7 1098.9,802.4 1099.4,802.0 1099.9,802.6 1100.4,802.1 1100.9,801.5 1100.9,800.5 1101.4,800.5 1101.9,800.4 1102.4,799.7 1102.9,799.6 1102.9,799.6 1103.4,802.0 1103.9,802.2 1104.4,801.2 1104.8,801.4 1104.9,801.4 1105.4,800.9 1105.9,800.7 1106.4,800.6 1106.8,800.6 1106.9,800.6 1107.4,801.0 1107.9,802.2 1108.4,802.4 1108.8,799.2 1108.9,799.5 1109.4,799.6 1109.9,799.6 1110.4,801.7 1110.8,801.8 1110.9,802.0 1111.4,801.8 1111.9,802.3 1112.4,802.1 1112.7,802.0 1112.9,799.1 1113.4,799.2 1113.9,799.2 1114.4,802.5 1114.7,802.6 1114.9,802.5 1115.4,801.1 1115.9,800.9 1116.4,799.6 1116.7,800.5 1116.9,800.4 1117.4,800.1 1117.9,799.2 1118.4,798.8 1118.6,798.7 1118.9,798.8 1119.4,799.8 1119.9,799.8 1120.4,800.7 1120.6,798.4 1120.9,798.7 1121.4,798.0 1121.9,798.5 1122.4,802.6 1122.6,801.3 1122.9,801.0 1123.4,800.5 1123.9,797.2 1124.4,796.7 1124.5,796.6 1124.9,800.9 1125.4,800.5 1125.9,800.0 1126.4,798.6 1126.5,798.0 1126.9,798.0 1127.4,797.9 1127.9,798.9 1128.4,798.5 1128.5,798.5 1128.9,798.2 1129.4,796.9 1129.9,796.6 1130.4,796.3 1130.4,796.4 1130.9,796.1 1131.4,795.1 1131.9,794.8 1132.4,796.0 1132.4,795.1 1132.9,793.8 1133.4,792.5 1133.9,790.6 1134.4,789.3 1134.4,789.2 1134.9,787.6 1135.4,785.8 1135.9,783.8 1136.3,783.4 1136.4,782.9 1136.9,777.2 1137.4,773.9 1137.9,771.5 1138.3,768.9 1138.4,768.5 1138.9,764.1 1139.4,759.7 1139.9,754.0 1140.3,750.8 1140.4,749.9 1140.9,747.5 1141.4,743.8 1141.9,741.0 1142.2,741.4 1142.4,738.0 1142.9,738.5 1143.4,739.1 1143.9,741.2 1144.2,741.6 1144.4,743.7 1144.9,745.3 1145.4,748.6 1145.9,751.8 1146.2,756.3 1146.4,758.2 1146.9,761.1 1147.4,765.2 1147.9,769.3 1148.1,770.2 1148.4,771.9 1148.9,774.8 1149.4,777.9 1149.9,779.5 1150.1,780.6 1150.4,782.1 1150.9,786.1 1151.4,788.6 1151.9,792.2 1152.1,793.0 1152.4,791.9 1152.9,793.0 1153.4,793.4 1153.9,794.1 1154.0,794.4 1154.4,793.8 1154.9,794.6 1155.4,796.4 1155.9,797.2 1156.0,797.5 1156.4,798.0 1156.9,798.7 1157.4,797.7 1157.9,801.2 1158.0,797.9 1158.4,799.8 1158.9,799.9 1159.4,799.4 1159.9,799.6 1159.9,799.5 1160.4,799.8 1160.9,798.3 1161.4,798.5 1161.9,798.8 1161.9,799.7 1162.4,798.9 1162.9,798.9 1163.4,799.8 1163.9,799.8 1163.9,799.1 1164.4,800.8 1164.9,799.6 1165.4,798.2 1165.8,798.3 1165.9,800.7 1166.4,801.1 1166.9,801.5 1167.4,801.4 1167.8,801.7 1167.9,801.2 1168.4,803.3 1168.9,803.0 1169.4,802.6 1169.8,798.6 1169.9,798.7 1170.4,800.6 1170.9,799.6 1171.4,799.9 1171.7,800.2 1171.9,801.4 1172.4,801.3 1172.9,801.3 1173.4,800.8 1173.7,800.8 1173.9,800.9 1174.4,799.2 1174.9,799.4 1175.4,801.0 1175.7,801.5 1175.9,802.6 1176.4,802.2 1176.9,801.7 1177.4,798.6 1177.6,798.4 1177.9,799.8 1178.4,799.9 1178.9,800.6 1179.4,802.0 1179.6,802.0 1179.9,802.3 1180.4,800.5 1180.9,802.3 1181.4,802.7 1181.6,801.2 1181.9,800.9 1182.4,800.4 1182.9,799.3 1183.4,798.8 1183.5,801.1 1183.9,801.4 1184.4,801.7 1184.9,801.0 1185.4,801.4 1185.5,801.9 1185.9,802.0 1186.4,801.4 1186.9,802.4 1187.4,802.6 1187.5,803.7 1187.9,802.1 1188.4,801.6 1188.9,801.2 1189.4,801.0 1189.4,800.3 1189.9,799.5 1190.4,799.6 1190.9,800.8 1191.4,800.9 1191.4,800.9 1191.9,802.0 1192.4,802.4 1192.9,800.9 1193.4,801.2 1193.4,803.5 1193.9,803.1 1194.4,799.9 1194.9,799.5 1195.4,800.8 1195.4,799.4 1195.9,801.2 1196.4,801.6 1196.9,802.4 1197.3,802.7 1197.4,802.8 1197.9,802.8 1198.4,804.0 1198.9,801.4 1199.3,801.4 1199.4,801.4 1199.9,800.1 1200.4,803.0 1200.9,803.5 1201.3,803.4 1201.4,803.4 1201.9,801.3 1202.4,801.3 1202.9,801.3 1203.2,801.3 1203.4,801.1 1203.9,802.8 1204.4,802.8 1204.9,802.8 1205.2,800.8 1205.4,800.8 1205.9,800.7 1206.4,802.1 1206.9,801.7 1207.2,801.6 1207.4,801.8 1207.9,801.3 1208.4,801.6 1208.9,801.8 1209.1,800.9 1209.4,800.9 1209.9,801.3 1210.4,801.3 1210.9,801.3 1211.1,800.0 1211.4,799.9 1211.9,801.9 1212.4,801.6 1212.9,801.5 1213.1,801.5 1213.4,802.2 1213.9,802.2 1214.4,803.5 1214.9,803.6 1215.0,802.8 1215.4,801.4 1215.9,801.1 1216.4,800.8 1216.9,800.5 1217.0,800.4 1217.4,802.4 1217.9,802.5 1218.4,802.6 1218.9,800.5 1219.0,799.0 1219.4,799.3 1219.9,801.3 1220.4,801.1 1220.9,799.6 1220.9,799.5 1221.4,799.7 1221.9,802.0 1222.4,802.3 1222.9,802.0 1222.9,802.0 1223.4,801.0 1223.9,801.3 1224.4,801.8 1224.9,802.1 1224.9,802.1 1225.4,802.1 1225.9,801.1 1226.4,801.0 1226.8,801.8 1226.9,801.8 1227.4,802.7 1227.9,802.5 1228.4,802.5 1228.8,802.4 1228.9,802.4 1229.4,801.2 1229.9,801.2 1230.4,801.6 1230.8,801.6 1230.9,801.6 1231.4,802.5 1231.9,801.9 1232.4,801.9 1232.7,801.5 1232.9,801.6 1233.4,802.2 1233.9,802.4 1234.4,802.7 1234.7,802.0 1234.9,801.8 1235.4,801.4 1235.9,800.9 1236.4,803.9 1236.7,803.7 1236.9,801.9 1237.4,802.3 1237.9,802.7 1238.4,801.4 1238.6,801.6 1238.9,801.5 1239.4,803.1 1239.9,802.9 1240.4,803.3 1240.6,801.8 1240.9,801.6 1241.4,801.2 1241.9,802.9 1242.4,802.5 1242.6,801.2 1242.9,799.9 1243.4,800.3 1243.9,800.7 1244.4,803.0 1244.5,803.1 1244.9,801.4 1245.4,801.5 1245.9,801.5 1246.4,802.8 1246.5,802.4 1246.9,800.8 1247.4,801.7 1247.9,801.5 1248.4,802.5 1248.5,802.5 1248.9,802.8 1249.4,801.6 1249.9,802.0 1250.4,802.4 1250.4,803.8 1250.9,803.3 1251.4,801.6 1251.9,801.2 1252.4,800.7 1252.4,799.7 1252.9,801.4 1253.4,801.2 1253.9,801.3 1254.4,800.7 1254.4,802.3 1254.9,801.7 1255.4,801.8 1255.9,801.9 1256.3,800.5 1256.4,800.5 1256.9,800.6 1257.4,802.1 1257.9,802.2 1258.3,802.2 1258.4,801.5 1258.9,801.4 1259.4,801.3 1259.9,802.5 1260.3,802.4 1260.4,802.9 1260.9,803.1 1261.4,801.9 1261.9,802.1 1262.2,803.0 1262.4,801.5 1262.9,801.2 1263.4,801.0 1263.9,801.1 1264.2,800.9 1264.4,801.0 1264.9,801.3 1265.4,801.5 1265.9,801.4 1266.2,801.5 1266.4,801.4 1266.9,802.7 1267.4,802.6 1267.9,802.7 1268.1,802.7 1268.4,802.2 1268.9,802.1 1269.4,802.2 1269.9,802.2 1270.1,800.3 1270.4,803.1 1270.9,802.9 1271.4,802.7 1271.9,801.0 1272.1,800.9 1272.4,801.0 1272.9,802.3 1273.4,802.4 1273.9,802.6 1274.0,802.2 1274.4,802.0 1274.9,801.1 1275.4,802.1 1275.9,801.1 1276.0,801.1 1276.4,801.1 1276.9,800.3 1277.4,800.3 1277.9,799.9 1278.0,801.4 1278.4,800.5 1278.9,800.7 1279.4,800.9 1279.9,801.7 1279.9,802.2 1280.4,803.6 1280.9,801.3 1281.4,801.4 1281.9,801.7 1281.9,801.7 1282.4,802.5 1282.9,802.2 1283.4,801.9 1283.9,801.6 1283.9,801.6 1284.4,801.8 1284.9,800.1 1285.4,800.4 1285.9,800.6 1285.9,800.9 1286.4,801.2 1286.9,801.5 1287.4,801.9 1287.8,802.1 1287.9,802.1 1288.4,803.5 1288.9,801.7 1289.4,801.4 1289.8,801.2 1289.9,803.3 1290.4,801.7 1290.9,802.3 1291.4,802.3 1291.8,802.6 1291.9,801.3 1292.4,801.1 1292.9,803.4 1293.4,802.6 1293.7,800.9 1293.9,800.7 1294.4,800.4 1294.9,801.4 1295.4,801.1 1295.7,800.9 1295.9,799.7 1296.4,798.0 1296.9,798.2 1297.4,801.3 1297.7,802.2 1297.9,800.7 1298.4,800.8 1298.9,800.9 1299.4,801.3 1299.6,801.3 1299.9,803.4 1300.4,803.2 1300.9,803.0 1301.4,799.3 1301.6,800.1 1301.9,800.3 1302.4,800.5 1302.9,801.5 1303.4,801.7 1303.6,801.8 1303.9,801.7 1304.4,800.4 1304.9,800.3 1305.4,802.0 1305.5,801.9 1305.9,801.5 1306.4,800.7 1306.9,801.8 1307.4,802.1 1307.5,802.0 1307.9,801.9 1308.4,801.2 1308.9,801.8 1309.4,801.7 1309.5,801.7 1309.9,802.9 1310.4,802.9 1310.9,803.1 1311.4,802.6 1311.4,801.0 1311.9,801.0 1312.4,803.1 1312.9,803.0 1313.4,803.1 1313.4,800.2 1313.9,800.1 1314.4,802.2 1314.9,802.1 1315.4,800.5 1315.4,800.5 1315.9,802.0 1316.4,802.4 1316.9,803.2 1317.3,803.4 1317.4,803.3 1317.9,802.8 1318.4,801.5 1318.9,801.8 1319.3,801.4 1319.4,800.6 1319.9,801.9 1320.4,800.5 1320.9,800.5 1321.3,801.8 1321.4,801.8 1321.9,802.0 1322.4,802.3 1322.9,802.5 1323.2,801.2 1323.4,801.2 1323.9,801.2 1324.4,801.0 1324.9,801.1 1325.2,802.7 1325.4,802.6 1325.9,800.0 1326.4,799.7 1326.9,802.2 1327.2,800.8 1327.4,800.4 1327.9,800.8 1328.4,801.9 1328.9,802.3 1329.1,800.6 1329.4,800.5 1329.9,802.0 1330.4,802.4 1330.9,803.5 1331.1,803.4 1331.4,801.2 1331.9,801.4 1332.4,802.6 1332.9,804.0 1333.1,802.4 1333.4,802.2 1333.9,803.0 1334.4,802.2 1334.9,802.0 1335.0,802.1 1335.4,802.1 1335.9,801.7 1336.4,801.7 1336.9,801.7 1337.0,801.7 1337.4,799.8 1337.9,801.3 1338.4,801.5 1338.9,801.6 1339.0,801.5 1339.4,801.3 1339.9,801.9 1340.4,801.8 1340.9,801.7 1340.9,802.7 1341.4,802.7 1341.9,800.4 1342.4,800.4 1342.9,801.0 1342.9,801.0 1343.4,801.2 1343.9,801.3 1344.4,801.3 1344.9,801.5 1344.9,801.5 1345.4,800.8 1345.9,801.9 1346.4,801.9 1346.8,802.0 1346.9,802.5 1347.4,802.3 1347.9,802.1 1348.4,801.5 1348.8,801.4 1348.9,802.2 1349.4,802.1 1349.9,802.2 1350.4,802.3 1350.8,803.7 1350.9,801.7 1351.4,801.5 1351.9,801.2 1352.4,800.7 1352.7,800.5 1352.9,800.2 1353.4,800.3 1353.9,801.9 1354.4,800.9 1354.7,801.0 1354.9,801.7 1355.4,801.4 1355.9,802.8 1356.4,802.5 1356.7,800.1 1356.9,800.2 1357.4,799.3 1357.9,799.4 1358.4,799.5 1358.6,800.9 1358.9,801.1 1359.4,800.7 1359.9,799.8 1360.4,799.4 1360.6,798.8 1360.9,798.8 1361.4,798.8 1361.9,799.3 1362.4,799.3 1362.6,799.8 1362.9,799.8 1363.4,799.8 1363.9,799.5 1364.4,799.6 1364.5,799.2 1364.9,799.2 1365.4,798.3 1365.9,799.6 1366.4,799.5 1366.5,799.5 1366.9,799.3 1367.4,799.1 1367.9,798.1 1368.4,799.1 1368.5,799.1 1368.9,799.7 1369.4,800.4 1369.9,801.8 1370.4,802.3 1370.4,802.4 1370.9,801.6 1371.4,801.4 1371.9,802.0 1372.4,801.8 1372.4,801.8 1372.9,800.1 1373.4,801.0 1373.9,800.8 1374.4,799.1 1374.4,799.1 1374.9,799.9 1375.4,801.9 1375.9,802.6 1376.4,802.9 1376.4,803.5 1376.9,803.1 1377.4,802.7 1377.9,802.7 1378.3,800.2 1378.4,801.2 1378.9,801.4 1379.4,801.7 1379.9,800.6 1380.3,800.8 1380.4,800.8 1380.9,800.7 1381.4,800.6 1381.9,800.5 1382.3,803.5 1382.4,802.4 1382.9,800.3 1383.4,800.6 1383.9,803.5 1384.2,803.7 1384.4,803.0 1384.9,802.9 1385.4,803.8 1385.9,803.8 1386.2,802.0 1386.4,801.8 1386.9,803.0 1387.4,800.1 1387.9,799.6 1388.2,800.8 1388.4,801.0 1388.9,801.9 1389.4,802.3 1389.9,803.5 1390.1,803.6 1390.4,803.5 1390.9,803.2 1391.4,802.4 1391.9,802.1 1392.1,802.0 1392.4,801.2 1392.9,801.4 1393.4,801.6 1393.9,801.1 1394.1,802.2 1394.4,802.2 1394.9,801.9 1395.4,801.9 1395.9,801.9 1396.0,800.9 1396.4,801.3 1396.9,801.3 1397.4,801.0 1397.9,801.0 1398.0,801.7 1398.4,800.5 1398.9,802.9 1399.4,802.7 1399.9,801.4 1400.0,801.4 1400.4,801.7 1400.9,801.0 1401.4,802.6 1401.9,803.0 1401.9,803.0 1402.4,802.9 1402.9,802.9 1403.4,802.9 1403.9,803.0 1403.9,802.3 1404.4,802.3 1404.9,801.5 1405.4,801.5 1405.9,801.5 1405.9,803.3 1406.4,803.0 1406.9,803.5 1407.4,803.7 1407.8,803.8 1407.9,802.1 1408.4,801.7 1408.9,801.3 1409.4,801.6 1409.8,801.1 1409.9,800.3 1410.4,800.2 1410.9,800.3 1411.4,801.3 1411.8,801.2 1411.9,800.8 1412.4,801.0 1412.9,801.2 1413.4,802.8 1413.7,802.9 1413.9,802.2 1414.4,801.7 1414.9,801.3 1415.4,799.3 1415.7,799.0 1415.9,799.2 1416.4,801.2 1416.9,801.6 1417.4,802.0 1417.7,802.2 1417.9,802.1 1418.4,801.9 1418.9,800.0 1419.4,799.9 1419.6,800.0 1419.9,802.3 1420.4,802.3 1420.9,802.3 1421.4,802.1 1421.6,802.1 1421.9,801.3 1422.4,801.2 1422.9,801.1 1423.4,801.1 1423.6,801.7 1423.9,801.7 1424.4,801.7 1424.9,802.0 1425.4,801.6 1425.5,801.6 1425.9,802.5 1426.4,800.1 1426.9,800.4 1427.4,800.7 1427.5,801.8 1427.9,801.4 1428.4,801.2 1428.9,800.3 1429.4,800.0 1429.5,799.9 1429.9,801.4 1430.4,801.5 1430.9,801.6 1431.4,800.1 1431.4,800.1 1431.9,800.3 1432.4,802.4 1432.9,802.6 1433.4,802.8 1433.4,801.7 1433.9,801.7 1434.4,801.6 1434.9,801.3 1435.4,801.2 1435.4,801.2 1435.9,801.0 1436.4,801.3 1436.9,801.6 1437.3,802.3 1437.4,802.3 1437.9,803.1 1438.4,802.4 1438.9,802.2 1439.3,802.3 1439.4,802.4 1439.9,802.7 1440.4,803.5 1440.9,803.8 1441.3,803.7 1441.4,803.7 1441.9,803.6 1442.4,803.3 1442.9,803.1 1443.2,800.8 1443.4,800.7 1443.9,800.4 1444.4,802.3 1444.9,801.9 1445.2,800.5 1445.4,800.6 1445.9,800.7 1446.4,802.0 1446.9,802.1 1447.2,802.2 1447.4,802.1 1447.9,802.4 1448.4,803.2 1448.9,803.5 1449.1,803.7 1449.4,802.0 1449.9,801.5 1450.4,800.8 1450.9,800.4 1451.1,800.2 1451.4,800.3 1451.9,801.2 1452.4,801.9 1452.9,801.9 1453.1,802.0 1453.4,801.5 1453.9,800.6 1454.4,799.3 1454.9,800.0 1455.0,800.0 1455.4,801.1 1455.9,801.4 1456.4,801.7 1456.9,801.7 1457.0,801.8 1457.4,801.1 1457.9,801.3 1458.4,801.5 1458.9,802.4 1459.0,801.8 1459.4,801.8 1459.9,801.8 1460.4,801.8 1460.9,801.6 1460.9,801.6 1461.4,801.4 1461.9,803.3 1462.4,803.0 1462.9,802.8 1462.9,800.9 1463.4,800.7 1463.9,800.8 1464.4,801.7 1464.9,800.2 1464.9,802.6 1465.4,802.8 1465.9,803.1 1466.4,800.0 1466.9,802.8 1466.9,802.8 1467.4,802.7 1467.9,800.7 1468.4,800.6 1468.8,802.0 1468.9,802.2 1469.4,802.4 1469.9,802.6 1470.4,803.0 1470.8,803.2 1470.9,803.1 1471.4,802.4 1471.9,802.3 1472.4,801.2 1472.8,801.1 1472.9,800.9 1473.4,801.1 1473.9,801.3 1474.4,802.9 1474.7,803.0 1474.9,801.8 1475.4,800.8 1475.9,802.2 1476.4,801.9 1476.7,801.7 1476.9,802.1 1477.4,802.2 1477.9,802.3 1478.4,802.7 1478.7,802.3 1478.9,802.3 1479.4,802.2 1479.9,802.6 1480.4,802.5 1480.6,802.5 1480.9,802.7 1481.4,801.6 1481.9,801.5 1482.4,801.4 1482.6,802.4 1482.9,802.5 1483.4,802.7 1483.9,801.5 1484.4,801.6 1484.6,801.7 1484.9,801.6 1485.4,801.2 1485.9,800.8 1486.4,802.3 1486.5,802.2 1486.9,799.8 1487.4,799.9 1487.9,800.8 1488.4,800.8 1488.5,800.8 1488.9,800.0 1489.4,801.5 1489.9,801.3 1490.4,801.1 1490.5,800.2 1490.9,802.0 1491.4,802.4 1491.9,802.9 1492.4,801.4 1492.4,801.5 1492.9,801.6 1493.4,802.9 1493.9,803.1 1494.4,802.8 1494.4,802.3 1494.9,802.2 1495.4,802.2 1495.9,801.9 1496.4,801.9 1496.4,801.9 1496.9,801.5 1497.4,801.6 1497.9,801.8 1498.3,802.6 1498.4,802.6 1498.9,802.9 1499.4,802.6 1499.9,802.3 1500.3,800.6 1500.4,800.5 1500.9,800.3 1501.4,800.7 1501.9,800.5 1502.3,800.4 1502.4,800.4 1502.9,801.1 1503.4,801.4 1503.9,802.4 1504.2,802.6 1504.4,800.6 1504.9,800.5 1505.4,800.5 1505.9,800.5 1506.2,801.6 1506.4,801.6 1506.9,801.8 1507.4,801.7 1507.9,801.7 1508.2,801.7 1508.4,802.9 1508.9,803.0 1509.4,803.1 1509.9,802.7 1510.1,800.6 1510.4,801.4 1510.9,801.0 1511.4,799.5 1511.9,799.2 1512.1,800.2 1512.4,800.2 1512.9,800.2 1513.4,800.2 1513.9,801.8 1514.1,801.9 1514.4,802.0 1514.9,802.0 1515.4,800.4 1515.9,800.5 1516.0,800.6 1516.4,802.2 1516.9,802.3 1517.4,802.4 1517.9,803.9 1518.0,803.9 1518.4,803.4 1518.9,800.5 1519.4,799.8 1519.9,799.1 1520.0,801.0 1520.4,798.8 1520.9,798.0 1521.4,797.7 1521.9,797.5 1521.9,797.2 1522.4,797.5 1522.9,796.5 1523.4,794.6 1523.9,793.6 1523.9,793.6 1524.4,792.4 1524.9,791.2 1525.4,790.0 1525.9,789.4 1525.9,789.4 1526.4,789.4 1526.9,790.4 1527.4,790.5 1527.8,790.5 1527.9,790.8 1528.4,791.9 1528.9,793.0 1529.4,793.1 1529.8,794.0 1529.9,793.4 1530.4,794.0 1530.9,796.4 1531.4,796.0 1531.8,796.5 1531.9,796.8 1532.4,799.1 1532.9,800.2 1533.4,801.3 1533.7,800.1 1533.9,800.1 1534.4,800.1 1534.9,801.0 1535.4,801.0 1535.7,803.2 1535.9,802.3 1536.4,802.6 1536.9,802.9 1537.4,801.8 1537.7,800.5 1537.9,800.4 1538.4,800.2 1538.9,801.5 1539.4,801.2 1539.6,801.8 1539.9,801.9 1540.4,802.1 1540.9,803.5 1541.4,803.6 1541.6,801.9 1541.9,801.9 1542.4,801.9 1542.9,802.3 1543.4,800.5 1543.6,800.1 1543.9,800.3 1544.4,800.7 1544.9,802.5 1545.4,802.9 1545.5,803.0 1545.9,800.8 1546.4,800.4 1546.9,802.3 1547.4,801.8 1547.5,801.7 1547.9,800.4 1548.4,800.8 1548.9,803.0 1549.4,803.4 1549.5,802.8 1549.9,802.6 1550.4,802.4 1550.9,801.3 1551.4,800.1 1551.4,800.1 1551.9,800.1 1552.4,802.2 1552.9,802.2 1553.4,802.0 1553.4,802.6 1553.9,802.3 1554.4,803.1 1554.9,802.8 1555.4,802.6 1555.4,802.3 1555.9,802.6 1556.4,802.9 1556.9,802.4 1557.4,802.7 1557.4,802.7 1557.9,802.1 1558.4,802.1 1558.9,801.8 1559.3,801.8 1559.4,801.4 1559.9,801.5 1560.4,801.7 1560.9,802.2 1561.3,802.9 1561.4,802.8 1561.9,804.1 1562.4,801.1 1562.9,800.7 1563.3,800.8 1563.4,800.8 1563.9,800.8 1564.4,799.9 1564.9,799.8 1565.2,800.3 1565.4,800.4 1565.9,802.4 1566.4,802.7 1566.9,803.0 1567.2,802.0 1567.4,802.0 1567.9,801.8 1568.4,801.9 1568.9,801.8 1569.2,801.7 1569.4,801.9 1569.9,801.8 1570.4,801.7 1570.9,801.4 1571.1,801.0 1571.4,801.1 1571.9,800.6 1572.4,800.7 1572.9,801.6 1573.1,801.7 1573.4,801.7 1573.9,802.7 1574.4,802.7 1574.9,802.8 1575.1,802.8 1575.4,802.8 1575.9,802.6 1576.4,801.4 1576.9,801.3 1577.0,800.0 1577.4,800.0 1577.9,800.0 1578.4,799.9 1578.9,802.9 1579.0,802.9 1579.4,801.1 1579.9,802.6 1580.4,802.9 1580.9,803.8 1581.0,803.8 1581.4,802.8 1581.9,803.4 1582.4,803.1 1582.9,802.8 1582.9,801.6 1583.4,801.9 1583.9,801.6 1584.4,801.2 1584.9,800.3 1584.9,800.3 1585.4,800.8 1585.9,801.0 1586.4,801.6 1586.9,804.7 1586.9,804.7 1587.4,804.8 1587.9,804.0 1588.4,803.1 1588.8,802.1 1588.9,801.4 1589.4,801.4 1589.9,802.7 1590.4,802.7 1590.8,803.5 1590.9,803.5 1591.4,803.5 1591.9,802.1 1592.4,802.1 1592.8,802.7 1592.9,802.6 1593.4,802.0 1593.9,801.8 1594.4,801.3 1594.7,801.6 1594.9,801.7 1595.4,801.9 1595.9,800.3 1596.4,800.7 1596.7,800.8 1596.9,802.1 1597.4,802.3 1597.9,801.7 1598.4,802.9 1598.7,802.8 1598.9,802.8 1599.4,802.8 1599.9,802.3 1600.4,802.3 1600.6,802.3 1600.9,801.5 1601.4,801.5 1601.9,801.5 1602.4,801.6 1602.6,801.5 1602.9,801.4 1603.4,801.4 1603.9,801.6 1604.4,801.3 1604.6,799.7 1604.9,799.7 1605.4,799.8 1605.9,800.1 1606.4,800.2 1606.5,800.3 1606.9,800.4 1607.4,800.8 1607.9,802.7 1608.4,801.6 1608.5,801.6 1608.9,801.7 1609.4,803.6 1609.9,804.2 1610.4,804.4 1610.5,804.5 1610.9,803.3 1611.4,803.5 1611.9,803.7 1612.4,805.5 1612.4,805.6 1612.9,805.0 1613.4,803.1 1613.9,800.5 1614.4,799.2 1614.4,802.6 1614.9,802.9 1615.4,799.5 1615.9,800.9 1616.4,801.2 1616.4,801.2 1616.9,801.7 1617.4,801.5 1617.9,801.3 1618.3,799.8 1618.4,799.9 1618.9,799.9 1619.4,802.3 1619.9,802.6 1620.3,802.9 1620.4,803.2 1620.9,803.1 1621.4,803.1 1621.9,802.9 1622.3,801.6 1622.4,801.0 1622.9,801.1 1623.4,801.1 1623.9,802.2 1624.2,802.2 1624.4,802.2 1624.9,802.1 1625.4,800.3 1625.9,801.9 1626.2,801.9 1626.4,801.2 1626.9,801.4 1627.4,801.3 1627.9,799.0 1628.2,799.0 1628.4,801.9 1628.9,801.9 1629.4,800.4 1629.9,801.1 1630.1,801.1 1630.4,801.0 1630.9,801.1 1631.4,799.9 1631.9,800.0 1632.1,801.9 1632.4,802.0 1632.9,801.9 1633.4,802.1 1633.9,802.3 1634.1,803.0 1634.4,803.2 1634.9,803.4 1635.4,801.6 1635.9,803.0 1636.0,803.7 1636.4,803.6 1636.9,803.4 1637.4,802.7 1637.9,802.5 1638.0,803.1 1638.4,802.9 1638.9,802.7 1639.4,803.1 1639.9,802.8 1640.0,802.4 1640.4,802.7 1640.9,803.0 1641.4,802.7 1641.9,803.1 1642.0,802.6 1642.4,802.4 1642.9,802.2 1643.4,803.2 1643.9,804.5 1643.9,804.5"/>
<polyline fill="none" stroke="#1c6bd9" stroke-width="3.9" stroke-linejoin="round" points="166.4,632.7 166.9,632.0 167.4,631.6 167.9,631.7 168.4,632.0 168.4,632.0 168.9,631.3 169.4,632.5 169.9,632.8 170.3,632.9 170.4,633.4 170.9,632.7 171.4,631.7 171.9,631.4 172.3,631.1 172.4,631.6 172.9,632.0 173.4,631.5 173.9,631.9 174.3,632.2 174.4,632.9 174.9,632.5 175.4,631.0 175.9,630.6 176.2,630.2 176.4,631.7 176.9,631.8 177.4,632.0 177.9,630.5 178.2,630.6 178.4,630.6 178.9,631.9 179.4,631.9 179.9,631.9 180.2,631.5 180.4,631.4 180.9,631.1 181.4,631.0 181.9,629.9 182.1,629.7 182.4,630.0 182.9,632.8 183.4,633.4 183.9,634.3 184.1,634.6 184.4,634.3 184.9,632.1 185.4,631.7 185.9,632.3 186.1,632.2 186.4,632.2 186.9,631.8 187.4,632.1 187.9,632.1 188.0,631.8 188.4,631.9 188.9,633.1 189.4,633.2 189.9,633.4 190.0,630.4 190.4,632.9 190.9,633.2 191.4,633.4 191.9,631.9 192.0,631.9 192.4,633.9 192.9,633.6 193.4,631.4 193.9,631.9 193.9,631.9 194.4,631.6 194.9,632.1 195.4,632.6 195.9,635.7 195.9,635.7 196.4,633.6 196.9,633.4 197.4,633.1 197.9,633.6 197.9,633.6 198.4,633.6 198.9,631.6 199.4,632.4 199.8,632.3 199.9,632.4 200.4,632.4 200.9,632.6 201.4,634.3 201.8,634.4 201.9,634.4 202.4,633.0 202.9,632.9 203.4,633.9 203.8,633.8 203.9,633.8 204.4,632.7 204.9,632.5 205.4,632.8 205.7,632.7 205.9,632.7 206.4,631.7 206.9,631.8 207.4,631.4 207.7,631.5 207.9,631.5 208.4,632.3 208.9,632.4 209.4,632.5 209.7,631.9 209.9,632.0 210.4,632.2 210.9,631.3 211.4,631.5 211.7,632.4 211.9,632.3 212.4,632.0 212.9,633.4 213.4,633.1 213.6,633.0 213.9,632.7 214.4,633.0 214.9,633.1 215.4,633.1 215.6,632.8 215.9,632.4 216.4,630.8 216.9,631.0 217.4,629.9 217.6,630.7 217.9,631.0 218.4,631.3 218.9,632.8 219.4,633.1 219.5,630.8 219.9,633.5 220.4,633.5 220.9,633.6 221.4,632.3 221.5,632.3 221.9,632.6 222.4,632.4 222.9,632.7 223.4,633.8 223.5,633.8 223.9,633.8 224.4,634.1 224.9,634.1 225.4,633.9 225.4,633.9 225.9,633.6 226.4,633.3 226.9,634.1 227.4,633.9 227.4,633.9 227.9,632.3 228.4,633.0 228.9,632.2 229.4,632.2 229.4,632.2 229.9,633.8 230.4,633.7 230.9,633.5 231.3,632.5 231.4,632.5 231.9,632.3 232.4,631.6 232.9,632.2 233.3,632.0 233.4,631.8 233.9,631.9 234.4,632.0 234.9,631.4 235.3,631.4 235.4,631.4 235.9,632.5 236.4,631.2 236.9,631.0 237.2,630.9 237.4,631.4 237.9,631.0 238.4,631.3 238.9,631.2 239.2,631.1 239.4,631.0 239.9,630.6 240.4,629.3 240.9,628.9 241.2,628.7 241.4,627.5 241.9,627.9 242.4,627.3 242.9,627.5 243.1,627.2 243.4,625.7 243.9,626.0 244.4,627.2 244.9,627.4 245.1,629.1 245.4,629.1 245.9,628.4 246.4,628.0 246.9,628.6 247.1,628.6 247.4,629.0 247.9,628.6 248.4,629.2 248.9,630.7 249.0,630.8 249.4,631.7 249.9,632.0 250.4,630.9 250.9,631.2 251.0,631.3 251.4,631.1 251.9,630.9 252.4,630.3 252.9,630.1 253.0,630.1 253.4,632.2 253.9,632.7 254.4,632.7 254.9,633.2 254.9,631.6 255.4,633.6 255.9,633.5 256.4,633.6 256.9,632.3 256.9,632.3 257.4,633.4 257.9,632.6 258.4,632.8 258.9,633.0 258.9,631.1 259.4,630.8 259.9,630.5 260.4,632.2 260.8,631.9 260.9,632.0 261.4,632.8 261.9,632.9 262.4,631.8 262.8,631.9 262.9,633.4 263.4,633.4 263.9,633.2 264.4,633.2 264.8,633.2 264.9,631.6 265.4,631.2 265.9,630.8 266.4,631.1 266.7,631.5 266.9,631.6 267.4,634.2 267.9,634.6 268.4,634.9 268.7,630.6 268.9,630.5 269.4,630.2 269.9,631.6 270.4,631.3 270.7,631.1 270.9,632.6 271.4,630.7 271.9,631.0 272.4,631.3 272.6,632.0 272.9,632.1 273.4,634.2 273.9,634.3 274.4,634.4 274.6,634.4 274.9,634.3 275.4,631.9 275.9,631.8 276.4,633.4 276.6,633.4 276.9,633.1 277.4,633.0 277.9,632.6 278.4,632.2 278.5,630.9 278.9,633.3 279.4,633.9 279.9,634.5 280.4,633.1 280.5,632.1 280.9,631.0 281.4,630.8 281.9,630.6 282.4,634.3 282.5,630.5 282.9,630.6 283.4,630.7 283.9,633.9 284.4,631.7 284.4,633.4 284.9,632.0 285.4,633.2 285.9,632.9 286.4,632.6 286.4,632.0 286.9,632.0 287.4,632.6 287.9,631.5 288.4,630.1 288.4,630.1 288.9,630.6 289.4,632.2 289.9,632.7 290.3,633.1 290.4,633.3 290.9,632.9 291.4,634.6 291.9,632.6 292.3,632.2 292.4,630.7 292.9,633.6 293.4,633.6 293.9,633.5 294.3,632.7 294.4,632.7 294.9,632.7 295.4,631.9 295.9,631.9 296.2,632.7 296.4,632.8 296.9,634.5 297.4,633.4 297.9,634.0 298.2,634.1 298.4,634.0 298.9,632.3 299.4,631.8 299.9,631.3 300.2,633.6 300.4,633.7 300.9,632.5 301.4,632.7 301.9,632.4 302.2,632.5 302.4,632.8 302.9,632.7 303.4,632.6 303.9,630.7 304.1,630.7 304.4,631.0 304.9,633.4 305.4,634.0 305.9,634.3 306.1,634.5 306.4,634.3 306.9,634.0 307.4,633.8 307.9,633.5 308.1,632.2 308.4,633.6 308.9,632.5 309.4,632.4 309.9,634.1 310.0,634.1 310.4,632.9 310.9,632.4 311.4,632.5 311.9,632.5 312.0,632.8 312.4,634.0 312.9,634.0 313.4,631.7 313.9,631.6 314.0,631.5 314.4,631.6 314.9,631.6 315.4,631.5 315.9,633.8 315.9,633.8 316.4,633.8 316.9,632.6 317.4,632.6 317.9,632.7 317.9,630.7 318.4,632.8 318.9,633.2 319.4,633.6 319.9,633.9 319.9,633.9 320.4,633.7 320.9,632.9 321.4,632.5 321.8,632.2 321.9,633.4 322.4,633.4 322.9,633.4 323.4,632.3 323.8,632.3 323.9,632.3 324.4,632.1 324.9,632.2 325.4,630.8 325.8,630.9 325.9,630.9 326.4,632.3 326.9,632.5 327.4,634.7 327.7,633.8 327.9,633.7 328.4,633.3 328.9,634.1 329.4,633.9 329.7,633.5 329.9,634.8 330.4,634.5 330.9,632.8 331.4,632.5 331.7,631.7 331.9,631.8 332.4,632.9 332.9,633.2 333.4,631.2 333.6,631.3 333.9,631.3 334.4,633.5 334.9,633.5 335.4,631.9 335.6,631.9 335.9,631.8 336.4,633.4 336.9,633.1 337.4,633.5 337.6,633.4 337.9,631.3 338.4,631.4 338.9,631.5 339.4,632.7 339.5,632.7 339.9,632.8 340.4,632.5 340.9,632.7 341.4,632.8 341.5,632.6 341.9,632.5 342.4,631.2 342.9,631.1 343.4,633.0 343.5,633.0 343.9,633.3 344.4,632.9 344.9,633.2 345.4,633.6 345.4,634.6 345.9,635.4 346.4,635.1 346.9,634.9 347.4,632.3 347.4,632.3 347.9,632.2 348.4,632.7 348.9,631.9 349.4,632.3 349.4,632.4 349.9,631.4 350.4,633.1 350.9,633.1 351.3,632.1 351.4,633.6 351.9,632.4 352.4,632.3 352.9,632.2 353.3,631.1 353.4,632.7 353.9,632.7 354.4,631.9 354.9,632.5 355.3,632.6 355.4,632.6 355.9,629.1 356.4,629.3 356.9,633.8 357.2,633.9 357.4,633.9 357.9,632.8 358.4,631.2 358.9,631.1 359.2,631.0 359.4,631.4 359.9,631.1 360.4,630.7 360.9,630.4 361.2,630.2 361.4,630.3 361.9,630.4 362.4,631.2 362.9,631.3 363.1,631.4 363.4,630.4 363.9,632.2 364.4,632.5 364.9,633.5 365.1,633.6 365.4,633.5 365.9,630.8 366.4,632.5 366.9,632.2 367.1,632.1 367.4,633.1 367.9,631.7 368.4,631.8 368.9,631.7 369.0,631.7 369.4,631.9 369.9,635.0 370.4,632.3 370.9,632.4 371.0,634.5 371.4,634.3 371.9,632.2 372.4,632.4 372.9,632.2 373.0,631.6 373.4,631.5 373.9,632.8 374.4,632.8 374.9,632.8 374.9,632.2 375.4,632.2 375.9,631.2 376.4,631.2 376.9,633.6 376.9,633.6 377.4,633.9 377.9,633.2 378.4,633.5 378.9,633.9 378.9,631.9 379.4,631.6 379.9,633.3 380.4,633.0 380.8,632.7 380.9,632.7 381.4,632.6 381.9,630.9 382.4,632.3 382.8,632.0 382.9,632.1 383.4,632.3 383.9,632.5 384.4,632.8 384.8,631.9 384.9,632.3 385.4,635.7 385.9,636.0 386.4,633.3 386.7,633.5 386.9,633.4 387.4,633.6 387.9,633.4 388.4,633.2 388.7,633.5 388.9,633.6 389.4,633.8 389.9,633.8 390.4,634.1 390.7,634.1 390.9,634.1 391.4,634.0 391.9,633.7 392.4,633.4 392.7,633.4 392.9,633.2 393.4,633.8 393.9,633.4 394.4,633.0 394.6,633.4 394.9,632.1 395.4,630.7 395.9,630.9 396.4,632.9 396.6,633.0 396.9,633.0 397.4,632.9 397.9,631.9 398.4,633.5 398.6,632.1 398.9,632.1 399.4,633.1 399.9,632.2 400.4,632.2 400.5,632.2 400.9,632.9 401.4,633.1 401.9,633.0 402.4,633.2 402.5,633.0 402.9,633.0 403.4,633.4 403.9,633.4 404.4,633.5 404.5,636.0 404.9,635.9 405.4,632.7 405.9,632.6 406.4,633.9 406.4,633.1 406.9,633.2 407.4,633.3 407.9,632.7 408.4,632.8 408.4,632.7 408.9,632.0 409.4,631.7 409.9,631.4 410.4,631.6 410.4,631.8 410.9,632.7 411.4,632.9 411.9,631.7 412.3,631.9 412.4,633.3 412.9,632.8 413.4,632.4 413.9,632.1 414.3,633.2 414.4,633.3 414.9,631.6 415.4,631.8 415.9,631.9 416.3,632.8 416.4,632.7 416.9,631.7 417.4,631.5 417.9,631.9 418.2,632.0 418.4,632.2 418.9,631.5 419.4,632.2 419.9,632.6 420.2,632.4 420.4,632.3 420.9,632.0 421.4,633.5 421.9,633.2 422.2,631.7 422.4,631.3 422.9,631.5 423.4,632.9 423.9,633.1 424.1,633.2 424.4,631.9 424.9,631.6 425.4,633.6 425.9,633.3 426.1,631.3 426.4,632.7 426.9,633.0 427.4,630.9 427.9,631.2 428.1,631.2 428.4,634.0 428.9,634.1 429.4,634.3 429.9,633.8 430.0,633.8 430.4,633.7 430.9,633.0 431.4,632.7 431.9,632.8 432.0,633.3 432.4,632.6 432.9,632.1 433.4,632.1 433.9,632.4 434.0,632.4 434.4,632.4 434.9,631.3 435.4,631.3 435.9,634.5 435.9,634.5 436.4,632.1 436.9,632.1 437.4,632.3 437.9,632.3 437.9,632.6 438.4,632.5 438.9,632.4 439.4,632.9 439.9,632.9 439.9,632.9 440.4,631.2 440.9,631.1 441.4,631.0 441.8,631.1 441.9,631.1 442.4,633.0 442.9,633.3 443.4,633.7 443.8,632.7 443.9,633.3 444.4,633.5 444.9,633.8 445.4,633.6 445.8,633.5 445.9,632.2 446.4,632.3 446.9,632.3 447.4,633.5 447.7,633.5 447.9,633.5 448.4,632.8 448.9,632.8 449.4,632.8 449.7,632.9 449.9,632.7 450.4,632.5 450.9,633.6 451.4,630.8 451.7,630.6 451.9,631.0 452.4,631.0 452.9,630.6 453.4,632.0 453.6,632.0 453.9,633.1 454.4,632.5 454.9,632.5 455.4,632.5 455.6,631.4 455.9,631.7 456.4,632.2 456.9,635.1 457.4,632.5 457.6,632.9 457.9,632.6 458.4,633.7 458.9,633.3 459.4,633.0 459.5,630.1 459.9,630.2 460.4,633.4 460.9,633.6 461.4,633.8 461.5,631.7 461.9,631.4 462.4,630.9 462.9,631.3 463.4,630.6 463.5,630.5 463.9,630.8 464.4,631.0 464.9,631.3 465.4,631.5 465.4,632.8 465.9,632.8 466.4,633.6 466.9,633.7 467.4,632.2 467.4,632.2 467.9,633.4 468.4,631.5 468.9,631.4 469.4,631.9 469.4,631.9 469.9,632.3 470.4,632.6 470.9,632.1 471.3,632.4 471.4,632.4 471.9,632.1 472.4,631.8 472.9,632.9 473.3,632.7 473.4,632.7 473.9,630.9 474.4,631.0 474.9,631.0 475.3,632.9 475.4,633.0 475.9,633.2 476.4,633.4 476.9,634.1 477.2,634.2 477.4,634.6 477.9,634.7 478.4,631.7 478.9,631.7 479.2,631.8 479.4,633.7 479.9,633.5 480.4,633.2 480.9,632.1 481.2,632.0 481.4,633.8 481.9,632.9 482.4,632.8 482.9,632.6 483.2,632.4 483.4,632.4 483.9,632.4 484.4,631.8 484.9,633.2 485.1,633.2 485.4,633.7 485.9,633.8 486.4,633.4 486.9,633.7 487.1,633.8 487.4,633.1 487.9,632.7 488.4,632.3 488.9,633.9 489.1,633.8 489.4,633.8 489.9,631.1 490.4,632.1 490.9,632.1 491.0,632.1 491.4,632.3 491.9,630.1 492.4,630.1 492.9,630.1 493.0,631.3 493.4,631.6 493.9,632.8 494.4,633.2 494.9,632.2 495.0,632.2 495.4,632.8 495.9,632.3 496.4,632.2 496.9,634.5 496.9,634.5 497.4,631.8 497.9,631.5 498.4,631.3 498.9,631.3 498.9,631.3 499.4,632.5 499.9,631.8 500.4,631.3 500.9,633.0 500.9,632.2 501.4,632.3 501.9,632.5 502.4,632.2 502.8,632.3 502.9,631.8 503.4,631.6 503.9,631.5 504.4,631.0 504.8,630.9 504.9,632.3 505.4,633.9 505.9,631.8 506.4,632.2 506.8,630.7 506.9,631.3 507.4,631.3 507.9,631.3 508.4,632.1 508.7,632.1 508.9,632.8 509.4,632.9 509.9,632.9 510.4,633.1 510.7,633.1 510.9,631.6 511.4,631.6 511.9,632.2 512.4,632.2 512.7,632.1 512.9,630.6 513.4,630.7 513.9,630.8 514.4,631.2 514.6,631.3 514.9,631.3 515.4,631.2 515.9,631.2 516.4,633.5 516.6,633.5 516.9,633.5 517.4,631.9 517.9,633.0 518.4,633.0 518.6,632.9 518.9,632.1 519.4,632.3 519.9,633.3 520.4,633.5 520.5,633.3 520.9,633.3 521.4,633.3 521.9,632.3 522.4,633.2 522.5,633.2 522.9,632.9 523.4,633.1 523.9,632.6 524.4,632.2 524.5,632.2 524.9,632.5 525.4,632.1 525.9,632.5 526.4,633.0 526.4,633.0 526.9,633.4 527.4,633.3 527.9,633.2 528.4,632.0 528.4,632.1 528.9,632.0 529.4,631.9 529.9,631.0 530.4,630.9 530.4,631.0 530.9,631.4 531.4,632.0 531.9,632.3 532.3,631.9 532.4,631.8 532.9,633.2 533.4,633.1 533.9,633.3 534.3,633.2 534.4,633.2 534.9,633.2 535.4,633.1 535.9,631.1 536.3,633.1 536.4,633.1 536.9,633.6 537.4,631.7 537.9,631.6 538.2,631.4 538.4,632.7 538.9,631.8 539.4,632.8 539.9,633.2 540.2,633.5 540.4,632.6 540.9,632.4 541.4,632.2 541.9,632.2 542.2,632.0 542.4,631.9 542.9,631.4 543.4,631.2 543.9,631.0 544.1,631.8 544.4,632.0 544.9,632.4 545.4,633.2 545.9,634.2 546.1,634.4 546.4,634.1 546.9,632.3 547.4,633.0 547.9,632.0 548.1,631.9 548.4,632.1 548.9,632.4 549.4,633.7 549.9,634.1 550.0,633.8 550.4,633.6 550.9,633.2 551.4,631.7 551.9,632.1 552.0,632.4 552.4,632.4 552.9,633.2 553.4,633.2 553.9,632.5 554.0,632.4 554.4,631.2 554.9,631.2 555.4,631.7 555.9,631.6 555.9,633.0 556.4,632.9 556.9,632.9 557.4,631.4 557.9,631.2 557.9,631.2 558.4,631.2 558.9,630.5 559.4,630.5 559.9,630.6 559.9,630.8 560.4,632.5 560.9,632.7 561.4,631.9 561.8,632.1 561.9,632.1 562.4,631.7 562.9,633.2 563.4,633.1 563.8,630.1 563.9,630.1 564.4,633.6 564.9,633.3 565.4,631.0 565.8,630.8 565.9,630.9 566.4,631.6 566.9,631.9 567.4,632.7 567.7,632.9 567.9,632.0 568.4,631.7 568.9,631.3 569.4,631.0 569.7,630.8 569.9,632.0 570.4,632.3 570.9,632.6 571.4,634.2 571.7,630.9 571.9,632.4 572.4,632.0 572.9,633.0 573.4,632.6 573.7,630.3 573.9,630.0 574.4,629.2 574.9,628.6 575.4,629.5 575.6,628.9 575.9,628.6 576.4,626.5 576.9,625.8 577.4,626.1 577.6,624.7 577.9,624.4 578.4,624.0 578.9,623.6 579.4,623.2 579.6,623.1 579.9,624.9 580.4,626.8 580.9,629.1 581.4,630.4 581.5,630.9 581.9,631.4 582.4,631.5 582.9,632.9 583.4,633.6 583.5,633.7 583.9,632.8 584.4,632.6 584.9,634.3 585.4,633.2 585.5,633.1 585.9,633.1 586.4,633.2 586.9,633.2 587.4,633.1 587.4,633.7 587.9,633.5 588.4,633.6 588.9,632.6 589.4,633.2 589.4,633.2 589.9,633.5 590.4,632.3 590.9,633.4 591.4,633.7 591.4,632.2 591.9,631.9 592.4,631.7 592.9,633.0 593.3,632.7 593.4,632.7 593.9,632.7 594.4,632.6 594.9,632.6 595.3,632.6 595.4,631.8 595.9,631.7 596.4,631.6 596.9,631.9 597.3,631.8 597.4,631.9 597.9,631.6 598.4,632.0 598.9,632.4 599.2,633.5 599.4,633.5 599.9,633.0 600.4,633.4 600.9,633.3 601.2,633.2 601.4,632.6 601.9,632.2 602.4,631.8 602.9,630.8 603.2,632.1 603.4,632.3 603.9,632.3 604.4,632.5 604.9,633.7 605.1,631.7 605.4,632.2 605.9,632.0 606.4,631.2 606.9,631.0 607.1,633.0 607.4,633.2 607.9,631.4 608.4,631.8 608.9,635.0 609.1,634.0 609.4,633.7 609.9,634.1 610.4,631.1 610.9,630.8 611.0,630.7 611.4,633.4 611.9,632.9 612.4,633.0 612.9,633.7 613.0,633.7 613.4,631.6 613.9,631.7 614.4,631.8 614.9,633.7 615.0,633.7 615.4,633.6 615.9,633.7 616.4,633.6 616.9,633.5 616.9,632.7 617.4,632.5 617.9,632.4 618.4,631.6 618.9,631.4 618.9,631.4 619.4,632.4 619.9,632.5 620.4,632.1 620.9,632.4 620.9,632.0 621.4,631.9 621.9,631.8 622.4,631.6 622.8,630.0 622.9,630.1 623.4,630.6 623.9,632.7 624.4,633.2 624.8,632.3 624.9,633.2 625.4,633.1 625.9,633.0 626.4,632.6 626.8,632.5 626.9,632.6 627.4,632.1 627.9,631.5 628.4,631.0 628.7,630.7 628.9,630.3 629.4,630.9 629.9,631.0 630.4,631.1 630.7,631.1 630.9,631.3 631.4,631.7 631.9,632.3 632.4,632.9 632.7,634.6 632.9,634.4 633.4,634.5 633.9,634.2 634.4,633.9 634.6,631.8 634.9,631.7 635.4,631.1 635.9,633.3 636.4,631.5 636.6,631.4 636.9,633.2 637.4,631.0 637.9,631.1 638.4,631.3 638.6,632.6 638.9,632.3 639.4,632.6 639.9,630.0 640.4,629.5 640.5,631.4 640.9,630.9 641.4,630.1 641.9,628.4 642.4,627.6 642.5,627.5 642.9,625.8 643.4,624.9 643.9,624.1 644.4,624.0 644.5,624.8 644.9,627.3 645.4,626.1 645.9,627.3 646.4,627.2 646.4,627.3 646.9,628.7 647.4,629.2 647.9,629.7 648.4,631.1 648.4,631.3 648.9,630.2 649.4,630.2 649.9,630.2 650.4,631.8 650.4,631.8 650.9,631.3 651.4,631.6 651.9,631.8 652.3,630.5 652.4,630.5 652.9,631.9 653.4,631.8 653.9,631.1 654.3,631.0 654.4,633.3 654.9,632.4 655.4,632.5 655.9,632.7 656.3,633.2 656.4,633.2 656.9,633.2 657.4,630.5 657.9,630.5 658.2,630.5 658.4,632.9 658.9,632.9 659.4,633.0 659.9,633.0 660.2,631.7 660.4,632.6 660.9,632.9 661.4,632.8 661.9,631.2 662.2,631.2 662.4,629.8 662.9,630.0 663.4,631.4 663.9,631.6 664.2,633.7 664.4,633.4 664.9,633.2 665.4,631.7 665.9,631.6 666.1,630.6 666.4,630.8 666.9,631.2 667.4,633.6 667.9,634.0 668.1,634.2 668.4,633.9 668.9,633.4 669.4,632.9 669.9,632.8 670.1,632.7 670.4,632.8 670.9,630.5 671.4,630.6 671.9,631.8 672.0,631.1 672.4,631.8 672.9,632.0 673.4,631.9 673.9,632.8 674.0,632.8 674.4,632.8 674.9,632.0 675.4,631.9 675.9,630.1 676.0,630.1 676.4,630.5 676.9,632.6 677.4,631.3 677.9,631.3 677.9,631.4 678.4,631.3 678.9,633.0 679.4,632.9 679.9,631.9 679.9,631.9 680.4,631.9 680.9,631.7 681.4,631.7 681.9,631.7 681.9,631.5 682.4,631.8 682.9,632.0 683.4,635.1 683.8,635.3 683.9,635.2 684.4,633.3 684.9,632.9 685.4,632.5 685.8,630.9 685.9,630.9 686.4,631.1 686.9,631.4 687.4,631.6 687.8,631.7 687.9,633.2 688.4,633.1 688.9,633.1 689.4,632.1 689.7,632.1 689.9,632.1 690.4,632.2 690.9,635.4 691.4,633.9 691.7,632.9 691.9,632.8 692.4,632.3 692.9,631.3 693.4,631.9 693.7,631.1 693.9,631.1 694.4,631.1 694.9,630.9 695.4,632.6 695.6,632.6 695.9,632.8 696.4,632.2 696.9,632.6 697.4,634.2 697.6,634.3 697.9,634.1 698.4,632.3 698.9,632.0 699.4,631.6 699.6,632.8 699.9,633.1 700.4,633.5 700.9,632.9 701.4,633.3 701.5,632.8 701.9,632.9 702.4,631.5 702.9,631.6 703.4,631.7 703.5,632.6 703.9,632.3 704.4,631.9 704.9,634.4 705.4,634.0 705.5,634.0 705.9,631.5 706.4,631.7 706.9,633.1 707.4,632.5 707.4,632.8 707.9,632.8 708.4,633.4 708.9,633.4 709.4,633.4 709.4,632.7 709.9,632.9 710.4,633.7 710.9,632.9 711.4,633.1 711.4,634.3 711.9,634.7 712.4,632.2 712.9,632.3 713.3,632.4 713.4,633.4 713.9,633.1 714.4,632.5 714.9,630.6 715.3,630.4 715.4,632.7 715.9,632.7 716.4,634.5 716.9,633.9 717.3,633.8 717.4,631.3 717.9,631.4 718.4,634.0 718.9,634.1 719.2,634.0 719.4,633.9 719.9,633.5 720.4,633.6 720.9,633.2 721.2,633.0 721.4,632.8 721.9,633.0 722.4,633.1 722.9,631.1 723.2,633.2 723.4,632.6 723.9,632.2 724.4,632.3 724.9,632.5 725.1,634.5 725.4,634.4 725.9,630.8 726.4,630.6 726.9,630.3 727.1,633.0 727.4,633.1 727.9,633.5 728.4,633.9 728.9,634.9 729.1,633.4 729.4,633.1 729.9,632.7 730.4,633.3 730.9,632.8 731.0,632.7 731.4,631.6 731.9,633.5 732.4,633.7 732.9,632.2 733.0,632.2 733.4,633.5 733.9,633.6 734.4,633.6 734.9,632.4 735.0,632.4 735.4,632.5 735.9,632.3 736.4,632.4 736.9,632.5 736.9,633.2 737.4,631.8 737.9,631.5 738.4,631.2 738.9,630.6 738.9,630.6 739.4,630.7 739.9,632.0 740.4,630.6 740.9,630.7 740.9,630.4 741.4,630.6 741.9,630.7 742.4,632.7 742.8,631.5 742.9,631.5 743.4,633.4 743.9,633.3 744.4,633.3 744.8,632.2 744.9,632.2 745.4,633.6 745.9,633.7 746.4,633.7 746.8,632.0 746.9,631.9 747.4,631.6 747.9,633.2 748.4,632.1 748.8,632.0 748.9,631.9 749.4,632.9 749.9,632.7 750.4,632.6 750.7,632.6 750.9,633.0 751.4,629.6 751.9,629.3 752.4,629.0 752.7,632.5 752.9,632.6 753.4,629.8 753.9,630.1 754.4,631.8 754.7,631.9 754.9,629.6 755.4,632.0 755.9,631.5 756.4,631.6 756.6,631.7 756.9,631.6 757.4,632.5 757.9,632.3 758.4,630.6 758.6,630.6 758.9,631.0 759.4,630.9 759.9,632.0 760.4,632.2 760.6,632.2 760.9,630.8 761.4,631.0 761.9,632.8 762.4,633.0 762.5,632.9 762.9,631.6 763.4,631.4 763.9,631.1 764.4,632.3 764.5,633.1 764.9,633.3 765.4,631.9 765.9,632.2 766.4,632.4 766.5,633.8 766.9,632.1 767.4,632.6 767.9,631.7 768.4,632.9 768.4,632.9 768.9,631.2 769.4,631.1 769.9,633.4 770.4,633.3 770.4,633.3 770.9,634.4 771.4,634.5 771.9,634.7 772.4,631.2 772.4,632.6 772.9,631.2 773.4,632.8 773.9,634.0 774.3,633.0 774.4,633.4 774.9,633.0 775.4,632.6 775.9,631.2 776.3,630.8 776.4,633.9 776.9,634.4 777.4,634.9 777.9,632.1 778.3,632.5 778.4,633.1 778.9,631.6 779.4,630.9 779.9,630.2 780.2,631.1 780.4,631.1 780.9,630.5 781.4,630.6 781.9,630.8 782.2,630.5 782.4,630.4 782.9,629.9 783.4,630.7 783.9,630.2 784.2,630.0 784.4,627.3 784.9,629.0 785.4,628.9 785.9,627.4 786.1,627.2 786.4,627.3 786.9,627.9 787.4,627.1 787.9,627.3 788.1,627.3 788.4,628.5 788.9,628.7 789.4,629.4 789.9,630.0 790.1,630.0 790.4,630.2 790.9,630.8 791.4,631.0 791.9,631.3 792.0,628.8 792.4,629.0 792.9,631.3 793.4,631.5 793.9,629.7 794.0,631.4 794.4,631.3 794.9,631.3 795.4,630.8 795.9,630.7 796.0,630.7 796.4,633.2 796.9,632.0 797.4,632.3 797.9,632.5 797.9,632.6 798.4,632.4 798.9,632.2 799.4,631.4 799.9,631.1 799.9,631.1 800.4,631.1 800.9,631.4 801.4,631.7 801.9,632.5 801.9,631.3 802.4,631.0 802.9,631.4 803.4,631.7 803.8,631.4 803.9,631.2 804.4,631.5 804.9,632.1 805.4,632.3 805.8,632.5 805.9,633.6 806.4,633.5 806.9,633.4 807.4,631.5 807.8,632.0 807.9,632.0 808.4,632.4 808.9,633.7 809.4,634.1 809.7,634.3 809.9,633.8 810.4,633.4 810.9,633.1 811.4,632.7 811.7,632.4 811.9,631.2 812.4,631.6 812.9,632.1 813.4,632.5 813.7,632.7 813.9,632.9 814.4,632.7 814.9,632.3 815.4,632.0 815.6,630.6 815.9,630.5 816.4,631.0 816.9,630.8 817.4,632.4 817.6,632.3 817.9,632.6 818.4,631.4 818.9,631.9 819.4,631.6 819.6,633.6 819.9,633.5 820.4,633.0 820.9,632.9 821.4,632.4 821.5,632.4 821.9,632.2 822.4,632.4 822.9,632.5 823.4,633.2 823.5,633.3 823.9,633.0 824.4,633.2 824.9,632.9 825.4,632.5 825.5,631.3 825.9,631.5 826.4,631.9 826.9,632.2 827.4,632.4 827.4,631.8 827.9,631.9 828.4,632.9 828.9,633.0 829.4,633.5 829.4,633.5 829.9,633.2 830.4,633.7 830.9,633.5 831.4,633.2 831.4,632.8 831.9,633.3 832.4,633.8 832.9,632.7 833.3,633.1 833.4,633.1 833.9,633.6 834.4,633.0 834.9,632.7 835.3,632.2 835.4,632.3 835.9,634.6 836.4,632.2 836.9,632.5 837.3,632.6 837.4,634.0 837.9,633.0 838.4,632.6 838.9,632.3 839.3,632.0 839.4,633.1 839.9,633.1 840.4,633.2 840.9,631.9 841.2,631.7 841.4,632.4 841.9,632.3 842.4,632.4 842.9,632.2 843.2,632.2 843.4,632.2 843.9,632.0 844.4,632.0 844.9,633.2 845.2,632.9 845.4,632.9 845.9,633.0 846.4,633.8 846.9,633.8 847.1,632.6 847.4,634.1 847.9,634.4 848.4,633.1 848.9,633.1 849.1,633.1 849.4,631.6 849.9,631.1 850.4,631.0 850.9,631.4 851.1,631.3 851.4,631.6 851.9,630.5 852.4,633.2 852.9,633.5 853.0,633.6 853.4,632.5 853.9,632.1 854.4,632.0 854.9,631.6 855.0,632.0 855.4,631.6 855.9,632.0 856.4,630.7 856.9,630.5 857.0,632.4 857.4,632.4 857.9,632.5 858.4,632.7 858.9,631.9 858.9,630.3 859.4,630.5 859.9,632.0 860.4,633.0 860.9,633.2 860.9,632.2 861.4,632.1 861.9,631.9 862.4,631.3 862.9,631.8 862.9,631.8 863.4,631.3 863.9,632.8 864.4,632.2 864.8,631.8 864.9,630.1 865.4,629.9 865.9,629.6 866.4,628.8 866.8,628.6 866.9,628.3 867.4,628.7 867.9,624.5 868.4,623.4 868.8,622.4 868.9,624.4 869.4,621.7 869.9,619.0 870.4,613.6 870.7,611.8 870.9,612.7 871.4,610.0 871.9,607.0 872.4,605.0 872.7,600.1 872.9,601.1 873.4,605.1 873.9,607.5 874.4,609.4 874.7,610.6 874.9,612.2 875.4,615.4 875.9,618.5 876.4,624.4 876.6,625.9 876.9,626.3 877.4,623.2 877.9,624.1 878.4,627.3 878.6,627.2 878.9,627.7 879.4,628.5 879.9,631.1 880.4,632.0 880.6,630.4 880.9,630.6 881.4,632.8 881.9,630.5 882.4,633.0 882.5,633.2 882.9,633.2 883.4,632.0 883.9,632.0 884.4,631.9 884.5,631.7 884.9,632.1 885.4,630.1 885.9,631.2 886.4,630.8 886.5,630.9 886.9,631.6 887.4,632.4 887.9,634.4 888.4,635.2 888.4,635.2 888.9,634.1 889.4,632.9 889.9,632.6 890.4,632.3 890.4,632.6 890.9,632.4 891.4,632.3 891.9,631.5 892.4,631.4 892.4,632.4 892.9,632.4 893.4,632.2 893.9,631.6 894.3,631.1 894.4,631.1 894.9,631.3 895.4,633.3 895.9,632.7 896.3,632.9 896.4,632.8 896.9,633.2 897.4,633.0 897.9,634.0 898.3,633.9 898.4,632.7 898.9,632.2 899.4,632.2 899.9,631.8 900.2,631.8 900.4,631.9 900.9,631.4 901.4,632.0 901.9,632.1 902.2,631.5 902.4,631.4 902.9,631.1 903.4,630.8 903.9,630.5 904.2,632.7 904.4,632.8 904.9,632.2 905.4,632.5 905.9,632.8 906.1,631.3 906.4,634.1 906.9,631.4 907.4,632.2 907.9,631.9 908.1,631.7 908.4,631.6 908.9,631.9 909.4,632.6 909.9,632.8 910.1,632.9 910.4,632.2 910.9,633.1 911.4,633.2 911.9,632.1 912.0,632.2 912.4,635.4 912.9,635.3 913.4,632.5 913.9,632.4 914.0,632.6 914.4,632.6 914.9,630.7 915.4,630.8 915.9,632.5 916.0,634.0 916.4,632.6 916.9,632.3 917.4,632.1 917.9,631.2 917.9,632.7 918.4,632.6 918.9,632.2 919.4,632.1 919.9,632.0 919.9,631.3 920.4,632.6 920.9,632.9 921.4,633.2 921.9,632.2 921.9,632.2 922.4,632.3 922.9,633.1 923.4,632.8 923.8,632.6 923.9,632.5 924.4,632.4 924.9,631.4 925.4,631.2 925.8,630.2 925.9,632.3 926.4,632.4 926.9,632.4 927.4,631.3 927.8,631.1 927.9,631.1 928.4,631.1 928.9,631.2 929.4,629.6 929.8,629.6 929.9,630.5 930.4,630.8 930.9,631.3 931.4,631.6 931.7,631.7 931.9,631.3 932.4,631.9 932.9,630.9 933.4,630.8 933.7,630.8 933.9,631.3 934.4,631.4 934.9,631.5 935.4,632.2 935.7,632.2 935.9,632.9 936.4,632.5 936.9,631.2 937.4,630.7 937.6,631.8 937.9,631.9 938.4,632.0 938.9,632.4 939.4,632.5 939.6,633.0 939.9,633.0 940.4,632.9 940.9,632.4 941.4,632.3 941.6,632.3 941.9,631.4 942.4,630.2 942.9,629.8 943.4,630.6 943.5,630.5 943.9,630.8 944.4,630.5 944.9,630.8 945.4,631.1 945.5,629.6 945.9,629.6 946.4,629.7 946.9,631.7 947.4,631.7 947.5,631.8 947.9,631.6 948.4,631.2 948.9,630.9 949.4,630.3 949.4,630.2 949.9,630.1 950.4,627.9 950.9,627.8 951.4,629.9 951.4,629.9 951.9,630.4 952.4,630.4 952.9,629.6 953.4,630.1 953.4,630.0 953.9,630.7 954.4,629.9 954.9,629.0 955.3,626.0 955.4,628.0 955.9,626.8 956.4,627.0 956.9,628.7 957.3,628.9 957.4,628.7 957.9,628.2 958.4,627.7 958.9,627.1 959.3,626.2 959.4,625.2 959.9,624.7 960.4,624.2 960.9,623.7 961.2,625.7 961.4,625.4 961.9,624.3 962.4,621.8 962.9,620.7 963.2,621.3 963.4,619.6 963.9,616.6 964.4,614.5 964.9,613.9 965.2,612.7 965.4,610.0 965.9,602.5 966.4,596.7 966.9,592.9 967.1,590.2 967.4,581.4 967.9,564.2 968.4,547.7 968.9,530.6 969.1,524.1 969.4,508.5 969.9,479.0 970.4,452.1 970.9,422.4 971.1,413.1 971.4,402.3 971.9,384.9 972.4,367.6 972.9,349.7 973.0,344.7 973.4,357.5 973.9,377.5 974.4,395.0 974.9,411.5 975.0,415.1 975.4,437.3 975.9,463.9 976.4,491.8 976.9,520.3 977.0,524.1 977.4,537.4 977.9,555.0 978.4,571.3 978.9,587.7 978.9,588.1 979.4,593.9 979.9,601.0 980.4,605.1 980.9,611.3 980.9,611.3 981.4,613.2 981.9,615.1 982.4,616.5 982.9,618.3 982.9,618.4 983.4,619.3 983.9,620.1 984.4,622.3 984.8,621.7 984.9,624.5 985.4,625.3 985.9,626.1 986.4,624.1 986.8,624.7 986.9,626.2 987.4,627.5 987.9,627.8 988.4,627.2 988.8,627.8 988.9,627.8 989.4,627.4 989.9,627.5 990.4,627.9 990.7,627.8 990.9,627.9 991.4,628.0 991.9,627.3 992.4,627.4 992.7,627.7 992.9,627.8 993.4,628.1 993.9,629.0 994.4,629.5 994.7,629.8 994.9,629.3 995.4,629.6 995.9,629.9 996.4,628.2 996.6,628.4 996.9,628.5 997.4,630.7 997.9,630.8 998.4,630.4 998.6,632.6 998.9,631.1 999.4,631.1 999.9,631.2 1000.4,630.1 1000.6,630.1 1000.9,630.0 1001.4,631.3 1001.9,631.2 1002.4,631.4 1002.5,631.3 1002.9,633.1 1003.4,633.3 1003.9,633.4 1004.4,630.7 1004.5,630.7 1004.9,630.5 1005.4,631.1 1005.9,631.9 1006.4,631.5 1006.5,629.4 1006.9,629.8 1007.4,631.5 1007.9,632.0 1008.4,633.0 1008.4,632.3 1008.9,632.0 1009.4,631.8 1009.9,632.1 1010.4,631.8 1010.4,631.8 1010.9,631.6 1011.4,630.9 1011.9,630.7 1012.4,630.3 1012.4,630.3 1012.9,630.5 1013.4,630.5 1013.9,630.3 1014.3,630.2 1014.4,629.3 1014.9,630.7 1015.4,629.7 1015.9,629.2 1016.3,627.9 1016.4,627.8 1016.9,627.7 1017.4,627.2 1017.9,626.6 1018.3,626.3 1018.4,626.2 1018.9,623.5 1019.4,625.1 1019.9,626.0 1020.3,625.7 1020.4,625.6 1020.9,624.0 1021.4,623.7 1021.9,623.4 1022.2,623.2 1022.4,623.6 1022.9,624.7 1023.4,626.1 1023.9,627.2 1024.2,625.8 1024.4,627.2 1024.9,628.1 1025.4,628.6 1025.9,629.2 1026.2,629.8 1026.4,629.9 1026.9,629.9 1027.4,628.9 1027.9,629.3 1028.1,629.4 1028.4,628.4 1028.9,628.6 1029.4,628.9 1029.9,631.1 1030.1,631.2 1030.4,631.2 1030.9,629.4 1031.4,628.5 1031.9,628.6 1032.1,628.6 1032.4,629.5 1032.9,629.6 1033.4,631.2 1033.9,631.3 1034.0,631.4 1034.4,632.7 1034.9,633.1 1035.4,634.0 1035.9,634.4 1036.0,634.5 1036.4,634.6 1036.9,634.8 1037.4,633.0 1037.9,633.2 1038.0,633.2 1038.4,633.4 1038.9,632.9 1039.4,632.5 1039.9,631.1 1039.9,631.1 1040.4,631.1 1040.9,631.2 1041.4,632.2 1041.9,631.2 1041.9,631.2 1042.4,631.8 1042.9,633.3 1043.4,633.1 1043.9,632.2 1043.9,632.2 1044.4,632.5 1044.9,630.4 1045.4,633.9 1045.8,634.2 1045.9,632.1 1046.4,630.8 1046.9,630.5 1047.4,630.1 1047.8,631.0 1047.9,629.2 1048.4,629.3 1048.9,631.5 1049.4,632.4 1049.8,632.5 1049.9,631.9 1050.4,632.0 1050.9,631.7 1051.4,631.8 1051.7,632.9 1051.9,630.1 1052.4,630.3 1052.9,634.1 1053.4,634.2 1053.7,631.6 1053.9,631.5 1054.4,632.5 1054.9,632.4 1055.4,632.3 1055.7,631.0 1055.9,631.7 1056.4,631.2 1056.9,630.7 1057.4,630.7 1057.6,630.5 1057.9,630.4 1058.4,630.8 1058.9,631.3 1059.4,632.5 1059.6,632.7 1059.9,632.6 1060.4,633.5 1060.9,633.4 1061.4,633.3 1061.6,631.5 1061.9,631.6 1062.4,631.7 1062.9,632.1 1063.4,632.3 1063.5,632.3 1063.9,632.7 1064.4,634.1 1064.9,633.6 1065.4,633.8 1065.5,632.5 1065.9,632.0 1066.4,631.5 1066.9,628.5 1067.4,628.0 1067.5,632.2 1067.9,630.2 1068.4,630.5 1068.9,630.8 1069.4,630.9 1069.4,630.9 1069.9,631.0 1070.4,632.5 1070.9,632.8 1071.4,633.1 1071.4,633.1 1071.9,633.1 1072.4,632.6 1072.9,632.2 1073.4,631.6 1073.4,631.6 1073.9,632.1 1074.4,632.6 1074.9,632.3 1075.3,632.7 1075.4,632.3 1075.9,632.2 1076.4,632.7 1076.9,631.3 1077.3,631.2 1077.4,633.5 1077.9,633.5 1078.4,633.4 1078.9,631.3 1079.3,632.0 1079.4,634.1 1079.9,633.9 1080.4,633.7 1080.9,628.8 1081.2,628.6 1081.4,632.6 1081.9,630.1 1082.4,630.3 1082.9,630.5 1083.2,632.5 1083.4,632.5 1083.9,630.9 1084.4,630.9 1084.9,631.9 1085.2,631.9 1085.4,633.4 1085.9,635.0 1086.4,634.7 1086.9,634.4 1087.1,630.1 1087.4,630.1 1087.9,630.2 1088.4,632.5 1088.9,630.8 1089.1,630.8 1089.4,630.8 1089.9,630.9 1090.4,630.9 1090.9,630.8 1091.1,631.3 1091.4,631.4 1091.9,631.3 1092.4,631.6 1092.9,631.8 1093.0,630.7 1093.4,630.8 1093.9,633.7 1094.4,633.7 1094.9,633.7 1095.0,632.3 1095.4,632.4 1095.9,632.9 1096.4,633.0 1096.9,633.1 1097.0,630.7 1097.4,633.9 1097.9,633.8 1098.4,633.2 1098.9,633.1 1098.9,631.8 1099.4,632.2 1099.9,632.0 1100.4,631.9 1100.9,631.7 1100.9,632.9 1101.4,632.9 1101.9,631.0 1102.4,631.1 1102.9,631.2 1102.9,630.0 1103.4,629.8 1103.9,630.6 1104.4,630.4 1104.8,630.2 1104.9,632.4 1105.4,632.7 1105.9,630.4 1106.4,630.8 1106.8,631.0 1106.9,633.0 1107.4,632.7 1107.9,629.8 1108.4,630.5 1108.8,630.2 1108.9,632.3 1109.4,629.8 1109.9,632.0 1110.4,631.2 1110.8,631.2 1110.9,630.3 1111.4,633.0 1111.9,633.1 1112.4,631.2 1112.7,631.3 1112.9,631.2 1113.4,630.6 1113.9,630.2 1114.4,629.8 1114.7,630.1 1114.9,629.7 1115.4,630.0 1115.9,630.4 1116.4,630.7 1116.7,630.9 1116.9,630.2 1117.4,630.3 1117.9,631.0 1118.4,631.1 1118.6,632.5 1118.9,632.9 1119.4,632.8 1119.9,630.9 1120.4,630.7 1120.6,630.6 1120.9,631.2 1121.4,630.2 1121.9,630.1 1122.4,630.0 1122.6,629.9 1122.9,629.8 1123.4,629.7 1123.9,631.2 1124.4,631.0 1124.5,628.8 1124.9,628.6 1125.4,630.8 1125.9,630.6 1126.4,627.8 1126.5,627.8 1126.9,629.8 1127.4,629.6 1127.9,629.7 1128.4,629.5 1128.5,627.7 1128.9,627.4 1129.4,626.9 1129.9,625.6 1130.4,625.1 1130.4,625.1 1130.9,626.3 1131.4,626.0 1131.9,625.6 1132.4,626.0 1132.4,626.0 1132.9,624.9 1133.4,623.7 1133.9,622.4 1134.4,619.7 1134.4,619.4 1134.9,617.6 1135.4,612.5 1135.9,609.0 1136.3,606.0 1136.4,603.8 1136.9,595.3 1137.4,586.7 1137.9,581.2 1138.3,574.5 1138.4,572.1 1138.9,558.0 1139.4,546.5 1139.9,535.6 1140.3,527.3 1140.4,527.7 1140.9,523.1 1141.4,518.5 1141.9,513.9 1142.2,510.8 1142.4,514.1 1142.9,522.9 1143.4,530.5 1143.9,541.1 1144.2,546.6 1144.4,550.9 1144.9,560.7 1145.4,571.5 1145.9,582.3 1146.2,589.0 1146.4,591.9 1146.9,597.8 1147.4,602.5 1147.9,608.6 1148.1,611.5 1148.4,612.5 1148.9,615.7 1149.4,618.3 1149.9,620.8 1150.1,621.0 1150.4,621.8 1150.9,623.0 1151.4,626.5 1151.9,627.7 1152.1,628.2 1152.4,625.9 1152.9,625.7 1153.4,625.0 1153.9,627.2 1154.0,627.1 1154.4,626.3 1154.9,628.0 1155.4,627.8 1155.9,627.5 1156.0,627.6 1156.4,627.0 1156.9,626.9 1157.4,627.4 1157.9,627.5 1158.0,627.5 1158.4,625.7 1158.9,626.8 1159.4,626.9 1159.9,627.0 1159.9,628.4 1160.4,628.1 1160.9,627.9 1161.4,625.6 1161.9,628.5 1161.9,627.6 1162.4,627.0 1162.9,626.7 1163.4,623.9 1163.9,624.4 1163.9,624.4 1164.4,625.1 1164.9,627.3 1165.4,628.0 1165.8,628.7 1165.9,627.2 1166.4,627.3 1166.9,627.7 1167.4,627.8 1167.8,627.8 1167.9,628.3 1168.4,629.1 1168.9,629.8 1169.4,631.9 1169.8,632.1 1169.9,631.6 1170.4,631.6 1170.9,630.4 1171.4,631.4 1171.7,632.4 1171.9,633.0 1172.4,630.5 1172.9,630.7 1173.4,631.3 1173.7,631.5 1173.9,631.3 1174.4,632.4 1174.9,632.0 1175.4,630.6 1175.7,630.4 1175.9,630.6 1176.4,630.6 1176.9,633.2 1177.4,633.6 1177.6,633.8 1177.9,630.8 1178.4,633.1 1178.9,633.0 1179.4,632.6 1179.6,632.5 1179.9,631.5 1180.4,631.4 1180.9,631.3 1181.4,631.0 1181.6,631.0 1181.9,630.9 1182.4,632.4 1182.9,632.2 1183.4,632.1 1183.5,630.4 1183.9,630.7 1184.4,631.1 1184.9,632.7 1185.4,633.1 1185.5,633.2 1185.9,631.3 1186.4,631.3 1186.9,631.3 1187.4,631.3 1187.5,633.8 1187.9,633.7 1188.4,633.5 1188.9,632.1 1189.4,631.6 1189.4,633.7 1189.9,632.5 1190.4,632.7 1190.9,631.1 1191.4,631.3 1191.4,631.7 1191.9,633.6 1192.4,633.6 1192.9,633.6 1193.4,634.3 1193.4,634.3 1193.9,634.4 1194.4,633.4 1194.9,633.4 1195.4,633.0 1195.4,633.0 1195.9,633.2 1196.4,632.8 1196.9,632.5 1197.3,633.2 1197.4,633.0 1197.9,631.9 1198.4,632.2 1198.9,632.6 1199.3,631.4 1199.4,631.4 1199.9,631.3 1200.4,632.5 1200.9,632.4 1201.3,632.7 1201.4,632.7 1201.9,632.1 1202.4,631.5 1202.9,633.8 1203.2,633.7 1203.4,633.8 1203.9,630.5 1204.4,631.7 1204.9,631.9 1205.2,630.7 1205.4,630.6 1205.9,630.5 1206.4,631.7 1206.9,631.5 1207.2,632.2 1207.4,630.9 1207.9,631.2 1208.4,632.0 1208.9,632.7 1209.1,632.8 1209.4,633.9 1209.9,631.9 1210.4,631.7 1210.9,633.3 1211.1,633.3 1211.4,632.1 1211.9,631.8 1212.4,631.9 1212.9,632.0 1213.1,632.1 1213.4,632.3 1213.9,632.4 1214.4,632.5 1214.9,632.3 1215.0,632.3 1215.4,632.5 1215.9,634.0 1216.4,634.2 1216.9,634.0 1217.0,634.0 1217.4,634.0 1217.9,633.8 1218.4,633.6 1218.9,634.2 1219.0,634.2 1219.4,633.5 1219.9,631.9 1220.4,631.6 1220.9,631.3 1220.9,632.1 1221.4,632.5 1221.9,633.0 1222.4,632.8 1222.9,633.2 1222.9,633.2 1223.4,634.3 1223.9,634.1 1224.4,633.9 1224.9,634.8 1224.9,634.8 1225.4,635.0 1225.9,633.5 1226.4,633.7 1226.8,633.1 1226.9,633.1 1227.4,632.4 1227.9,632.2 1228.4,633.7 1228.8,632.9 1228.9,631.0 1229.4,633.0 1229.9,632.9 1230.4,632.3 1230.8,631.3 1230.9,631.3 1231.4,631.1 1231.9,632.7 1232.4,632.6 1232.7,629.0 1232.9,631.6 1233.4,631.9 1233.9,631.9 1234.4,632.2 1234.7,632.4 1234.9,631.0 1235.4,631.1 1235.9,632.0 1236.4,633.2 1236.7,633.3 1236.9,633.2 1237.4,632.3 1237.9,632.0 1238.4,631.8 1238.6,631.9 1238.9,632.9 1239.4,631.9 1239.9,631.9 1240.4,632.2 1240.6,632.2 1240.9,632.2 1241.4,632.3 1241.9,632.3 1242.4,631.8 1242.6,631.8 1242.9,632.0 1243.4,632.1 1243.9,632.2 1244.4,631.8 1244.5,632.5 1244.9,632.5 1245.4,634.4 1245.9,634.5 1246.4,632.7 1246.5,632.7 1246.9,632.8 1247.4,632.2 1247.9,633.0 1248.4,633.1 1248.5,631.2 1248.9,631.1 1249.4,630.8 1249.9,632.6 1250.4,633.6 1250.4,633.5 1250.9,633.6 1251.4,632.6 1251.9,632.2 1252.4,632.3 1252.4,632.7 1252.9,632.5 1253.4,632.5 1253.9,632.3 1254.4,632.1 1254.4,633.4 1254.9,633.7 1255.4,634.1 1255.9,632.8 1256.3,633.2 1256.4,633.1 1256.9,632.6 1257.4,632.5 1257.9,632.3 1258.3,631.6 1258.4,631.5 1258.9,631.3 1259.4,631.3 1259.9,631.0 1260.3,630.8 1260.4,631.1 1260.9,630.2 1261.4,630.3 1261.9,632.7 1262.2,632.2 1262.4,631.4 1262.9,631.9 1263.4,632.1 1263.9,632.2 1264.2,633.1 1264.4,633.2 1264.9,633.4 1265.4,632.0 1265.9,633.4 1266.2,632.6 1266.4,633.5 1266.9,633.4 1267.4,633.6 1267.9,631.6 1268.1,631.5 1268.4,632.8 1268.9,633.1 1269.4,633.3 1269.9,633.4 1270.1,633.5 1270.4,633.4 1270.9,634.5 1271.4,634.3 1271.9,634.1 1272.1,633.6 1272.4,633.4 1272.9,633.2 1273.4,633.7 1273.9,633.5 1274.0,633.4 1274.4,631.2 1274.9,632.4 1275.4,632.4 1275.9,632.4 1276.0,633.5 1276.4,633.0 1276.9,633.4 1277.4,633.9 1277.9,633.3 1278.0,633.4 1278.4,633.1 1278.9,631.9 1279.4,631.5 1279.9,633.1 1279.9,633.0 1280.4,633.0 1280.9,630.9 1281.4,630.9 1281.9,630.8 1281.9,633.3 1282.4,633.3 1282.9,633.3 1283.4,631.5 1283.9,631.5 1283.9,631.5 1284.4,632.5 1284.9,632.4 1285.4,631.2 1285.9,631.1 1285.9,632.4 1286.4,633.2 1286.9,633.6 1287.4,632.7 1287.8,633.0 1287.9,633.0 1288.4,631.8 1288.9,633.1 1289.4,633.1 1289.8,634.9 1289.9,634.8 1290.4,634.4 1290.9,632.1 1291.4,631.7 1291.8,631.5 1291.9,631.6 1292.4,631.9 1292.9,632.4 1293.4,632.9 1293.7,634.4 1293.9,634.3 1294.4,634.2 1294.9,634.1 1295.4,634.0 1295.7,633.9 1295.9,633.8 1296.4,633.6 1296.9,634.0 1297.4,633.7 1297.7,631.7 1297.9,631.6 1298.4,633.1 1298.9,629.8 1299.4,629.6 1299.6,631.0 1299.9,631.1 1300.4,629.6 1300.9,629.8 1301.4,632.1 1301.6,634.9 1301.9,634.9 1302.4,632.1 1302.9,632.1 1303.4,631.3 1303.6,631.3 1303.9,631.4 1304.4,632.8 1304.9,632.1 1305.4,632.3 1305.5,632.0 1305.9,631.8 1306.4,634.4 1306.9,633.3 1307.4,633.1 1307.5,631.5 1307.9,631.7 1308.4,632.0 1308.9,632.2 1309.4,633.7 1309.5,633.7 1309.9,634.0 1310.4,633.3 1310.9,632.8 1311.4,633.0 1311.4,633.0 1311.9,634.3 1312.4,633.0 1312.9,632.4 1313.4,631.8 1313.4,634.0 1313.9,634.0 1314.4,634.0 1314.9,632.1 1315.4,632.3 1315.4,632.9 1315.9,633.2 1316.4,633.6 1316.9,632.3 1317.3,632.6 1317.4,632.6 1317.9,633.4 1318.4,633.5 1318.9,634.2 1319.3,634.3 1319.4,635.8 1319.9,635.1 1320.4,631.8 1320.9,631.1 1321.3,630.7 1321.4,630.6 1321.9,630.8 1322.4,631.5 1322.9,631.8 1323.2,632.7 1323.4,632.7 1323.9,632.5 1324.4,632.6 1324.9,632.4 1325.2,632.3 1325.4,630.5 1325.9,630.9 1326.4,631.2 1326.9,632.8 1327.2,633.0 1327.4,632.5 1327.9,632.5 1328.4,632.5 1328.9,632.7 1329.1,634.1 1329.4,634.0 1329.9,633.9 1330.4,632.4 1330.9,632.2 1331.1,632.2 1331.4,631.4 1331.9,631.6 1332.4,631.8 1332.9,632.1 1333.1,633.1 1333.4,632.5 1333.9,632.6 1334.4,632.8 1334.9,634.0 1335.0,634.1 1335.4,631.4 1335.9,630.6 1336.4,629.9 1336.9,630.1 1337.0,629.9 1337.4,629.9 1337.9,630.2 1338.4,631.6 1338.9,631.8 1339.0,631.9 1339.4,630.8 1339.9,631.0 1340.4,631.1 1340.9,630.9 1340.9,631.4 1341.4,631.5 1341.9,631.7 1342.4,631.4 1342.9,631.5 1342.9,631.5 1343.4,632.0 1343.9,632.1 1344.4,632.1 1344.9,631.1 1344.9,631.1 1345.4,631.0 1345.9,632.2 1346.4,631.1 1346.8,632.2 1346.9,633.2 1347.4,633.4 1347.9,633.7 1348.4,633.9 1348.8,633.0 1348.9,633.0 1349.4,632.7 1349.9,631.6 1350.4,632.8 1350.8,632.5 1350.9,632.5 1351.4,630.9 1351.9,630.8 1352.4,630.6 1352.7,632.6 1352.9,632.6 1353.4,631.7 1353.9,631.7 1354.4,631.6 1354.7,631.2 1354.9,631.1 1355.4,630.8 1355.9,631.3 1356.4,631.0 1356.7,630.9 1356.9,629.0 1357.4,629.3 1357.9,629.5 1358.4,632.3 1358.6,632.5 1358.9,631.7 1359.4,631.6 1359.9,631.6 1360.4,630.3 1360.6,630.3 1360.9,630.0 1361.4,631.4 1361.9,630.9 1362.4,628.5 1362.6,628.3 1362.9,628.5 1363.4,628.9 1363.9,629.6 1364.4,629.9 1364.5,630.3 1364.9,630.1 1365.4,628.9 1365.9,628.3 1366.4,627.8 1366.5,627.8 1366.9,628.8 1367.4,629.4 1367.9,629.9 1368.4,631.3 1368.5,631.1 1368.9,631.7 1369.4,630.8 1369.9,630.9 1370.4,630.9 1370.4,630.1 1370.9,630.5 1371.4,631.0 1371.9,631.7 1372.4,632.1 1372.4,632.2 1372.9,632.2 1373.4,632.1 1373.9,632.5 1374.4,632.3 1374.4,631.7 1374.9,631.7 1375.4,631.2 1375.9,633.1 1376.4,633.1 1376.4,633.3 1376.9,633.2 1377.4,632.2 1377.9,632.1 1378.3,633.2 1378.4,632.7 1378.9,632.6 1379.4,632.5 1379.9,632.6 1380.3,632.5 1380.4,631.6 1380.9,631.7 1381.4,631.2 1381.9,633.2 1382.3,633.3 1382.4,633.2 1382.9,633.3 1383.4,633.3 1383.9,633.2 1384.2,630.3 1384.4,630.3 1384.9,630.4 1385.4,630.3 1385.9,630.6 1386.2,630.2 1386.4,630.4 1386.9,632.7 1387.4,633.2 1387.9,633.6 1388.2,631.5 1388.4,631.5 1388.9,634.0 1389.4,634.0 1389.9,633.9 1390.1,632.1 1390.4,632.4 1390.9,632.3 1391.4,634.1 1391.9,631.5 1392.1,631.4 1392.4,631.8 1392.9,632.8 1393.4,632.8 1393.9,631.5 1394.1,632.7 1394.4,632.5 1394.9,631.6 1395.4,631.2 1395.9,632.2 1396.0,630.8 1396.4,630.6 1396.9,631.4 1397.4,632.6 1397.9,632.3 1398.0,632.3 1398.4,630.7 1398.9,631.3 1399.4,631.8 1399.9,633.0 1400.0,633.0 1400.4,633.0 1400.9,634.1 1401.4,631.8 1401.9,631.8 1401.9,633.4 1402.4,632.2 1402.9,633.2 1403.4,632.9 1403.9,632.9 1403.9,632.9 1404.4,634.2 1404.9,634.0 1405.4,634.1 1405.9,632.8 1405.9,632.8 1406.4,632.6 1406.9,632.6 1407.4,633.7 1407.8,633.1 1407.9,633.2 1408.4,633.0 1408.9,632.1 1409.4,631.8 1409.8,633.2 1409.9,633.3 1410.4,633.5 1410.9,633.5 1411.4,632.4 1411.8,632.8 1411.9,632.8 1412.4,633.3 1412.9,633.6 1413.4,633.6 1413.7,632.8 1413.9,632.8 1414.4,633.3 1414.9,633.7 1415.4,633.8 1415.7,632.4 1415.9,632.4 1416.4,632.2 1416.9,632.6 1417.4,632.4 1417.7,634.0 1417.9,632.4 1418.4,633.3 1418.9,633.3 1419.4,634.1 1419.6,631.7 1419.9,631.7 1420.4,631.7 1420.9,634.7 1421.4,634.7 1421.6,634.7 1421.9,632.8 1422.4,632.6 1422.9,632.7 1423.4,632.5 1423.6,632.4 1423.9,633.0 1424.4,633.1 1424.9,632.3 1425.4,633.1 1425.5,633.1 1425.9,632.7 1426.4,632.9 1426.9,633.2 1427.4,633.4 1427.5,635.7 1427.9,635.3 1428.4,632.2 1428.9,631.7 1429.4,631.2 1429.5,631.3 1429.9,631.5 1430.4,631.7 1430.9,631.0 1431.4,633.5 1431.4,631.8 1431.9,632.1 1432.4,632.5 1432.9,632.8 1433.4,633.4 1433.4,632.3 1433.9,632.1 1434.4,631.8 1434.9,631.8 1435.4,631.8 1435.4,631.5 1435.9,632.0 1436.4,631.4 1436.9,631.1 1437.3,630.9 1437.4,631.1 1437.9,631.5 1438.4,632.1 1438.9,633.0 1439.3,633.3 1439.4,633.3 1439.9,633.3 1440.4,633.3 1440.9,631.7 1441.3,633.0 1441.4,632.9 1441.9,632.9 1442.4,632.4 1442.9,632.4 1443.2,632.7 1443.4,632.8 1443.9,632.8 1444.4,632.8 1444.9,632.2 1445.2,632.2 1445.4,633.2 1445.9,631.8 1446.4,631.5 1446.9,631.2 1447.2,630.7 1447.4,630.2 1447.9,630.9 1448.4,631.6 1448.9,633.5 1449.1,633.9 1449.4,633.8 1449.9,633.2 1450.4,632.7 1450.9,632.1 1451.1,631.9 1451.4,632.2 1451.9,632.2 1452.4,633.9 1452.9,633.9 1453.1,632.1 1453.4,632.3 1453.9,634.9 1454.4,633.9 1454.9,634.2 1455.0,634.3 1455.4,633.1 1455.9,633.1 1456.4,633.1 1456.9,632.8 1457.0,633.0 1457.4,632.9 1457.9,632.5 1458.4,633.7 1458.9,632.2 1459.0,632.2 1459.4,632.3 1459.9,632.3 1460.4,630.5 1460.9,630.5 1460.9,630.5 1461.4,632.3 1461.9,632.4 1462.4,632.5 1462.9,633.3 1462.9,633.3 1463.4,633.7 1463.9,632.8 1464.4,632.8 1464.9,632.7 1464.9,632.7 1465.4,633.8 1465.9,631.9 1466.4,631.6 1466.9,633.3 1466.9,633.1 1467.4,633.1 1467.9,633.3 1468.4,633.4 1468.8,633.2 1468.9,633.2 1469.4,633.0 1469.9,633.0 1470.4,632.2 1470.8,632.2 1470.9,632.2 1471.4,634.3 1471.9,633.3 1472.4,633.9 1472.8,633.9 1472.9,633.9 1473.4,633.0 1473.9,632.9 1474.4,632.9 1474.7,631.4 1474.9,631.3 1475.4,633.0 1475.9,632.8 1476.4,632.8 1476.7,632.2 1476.9,632.0 1477.4,632.2 1477.9,631.7 1478.4,631.7 1478.7,630.3 1478.9,630.3 1479.4,632.0 1479.9,632.1 1480.4,633.1 1480.6,633.8 1480.9,633.7 1481.4,633.3 1481.9,632.0 1482.4,632.0 1482.6,631.9 1482.9,633.3 1483.4,633.0 1483.9,630.4 1484.4,630.0 1484.6,629.9 1484.9,631.5 1485.4,631.8 1485.9,633.4 1486.4,633.8 1486.5,633.9 1486.9,634.2 1487.4,631.8 1487.9,632.0 1488.4,635.6 1488.5,632.1 1488.9,633.7 1489.4,633.3 1489.9,633.1 1490.4,632.9 1490.5,634.1 1490.9,634.0 1491.4,632.5 1491.9,632.3 1492.4,632.8 1492.4,632.8 1492.9,632.0 1493.4,632.1 1493.9,632.3 1494.4,631.2 1494.4,631.6 1494.9,631.5 1495.4,631.4 1495.9,632.5 1496.4,631.7 1496.4,631.7 1496.9,631.7 1497.4,631.5 1497.9,633.3 1498.3,632.0 1498.4,632.0 1498.9,632.0 1499.4,633.1 1499.9,633.2 1500.3,633.4 1500.4,633.0 1500.9,633.0 1501.4,632.1 1501.9,632.1 1502.3,632.0 1502.4,632.8 1502.9,632.6 1503.4,632.4 1503.9,630.4 1504.2,630.2 1504.4,630.4 1504.9,634.0 1505.4,632.5 1505.9,634.7 1506.2,634.9 1506.4,633.5 1506.9,633.3 1507.4,632.3 1507.9,632.1 1508.2,632.0 1508.4,633.0 1508.9,632.5 1509.4,631.6 1509.9,629.9 1510.1,629.7 1510.4,629.8 1510.9,632.0 1511.4,632.2 1511.9,631.1 1512.1,631.2 1512.4,631.1 1512.9,633.7 1513.4,632.3 1513.9,632.3 1514.1,632.2 1514.4,632.0 1514.9,631.4 1515.4,631.0 1515.9,630.5 1516.0,629.6 1516.4,629.6 1516.9,629.6 1517.4,629.3 1517.9,629.3 1518.0,629.3 1518.4,629.8 1518.9,629.6 1519.4,628.0 1519.9,627.8 1520.0,627.7 1520.4,627.4 1520.9,626.9 1521.4,625.6 1521.9,625.2 1521.9,623.5 1522.4,622.9 1522.9,621.9 1523.4,620.8 1523.9,617.8 1523.9,617.8 1524.4,617.9 1524.9,618.3 1525.4,618.4 1525.9,618.6 1525.9,619.8 1526.4,621.0 1526.9,622.5 1527.4,623.7 1527.8,624.8 1527.9,626.3 1528.4,627.2 1528.9,626.1 1529.4,627.6 1529.8,628.4 1529.9,628.3 1530.4,628.7 1530.9,629.1 1531.4,629.4 1531.8,629.7 1531.9,629.7 1532.4,629.8 1532.9,630.0 1533.4,628.4 1533.7,628.5 1533.9,628.6 1534.4,631.1 1534.9,631.0 1535.4,631.3 1535.7,630.3 1535.9,630.2 1536.4,630.5 1536.9,630.9 1537.4,632.7 1537.7,631.5 1537.9,633.9 1538.4,634.0 1538.9,634.0 1539.4,633.0 1539.6,633.0 1539.9,633.1 1540.4,631.8 1540.9,631.9 1541.4,631.9 1541.6,632.4 1541.9,632.2 1542.4,632.0 1542.9,632.8 1543.4,632.5 1543.6,632.8 1543.9,633.5 1544.4,633.4 1544.9,633.3 1545.4,632.9 1545.5,631.3 1545.9,631.6 1546.4,632.8 1546.9,632.1 1547.4,632.5 1547.5,632.1 1547.9,634.6 1548.4,630.6 1548.9,633.9 1549.4,633.9 1549.5,631.7 1549.9,631.6 1550.4,632.3 1550.9,632.2 1551.4,633.6 1551.4,633.6 1551.9,634.3 1552.4,632.9 1552.9,630.8 1553.4,630.8 1553.4,632.4 1553.9,631.0 1554.4,633.1 1554.9,633.0 1555.4,632.8 1555.4,631.5 1555.9,631.0 1556.4,631.3 1556.9,631.6 1557.4,632.3 1557.4,632.3 1557.9,631.7 1558.4,631.4 1558.9,631.5 1559.3,631.0 1559.4,630.8 1559.9,631.1 1560.4,631.3 1560.9,631.6 1561.3,631.8 1561.4,631.9 1561.9,633.1 1562.4,633.3 1562.9,633.5 1563.3,633.2 1563.4,633.2 1563.9,633.1 1564.4,632.0 1564.9,631.9 1565.2,631.9 1565.4,633.1 1565.9,633.0 1566.4,633.3 1566.9,633.5 1567.2,633.1 1567.4,633.1 1567.9,632.9 1568.4,632.7 1568.9,631.8 1569.2,631.7 1569.4,631.6 1569.9,632.1 1570.4,631.9 1570.9,631.3 1571.1,631.2 1571.4,631.2 1571.9,632.7 1572.4,632.7 1572.9,632.6 1573.1,631.0 1573.4,630.8 1573.9,630.6 1574.4,630.3 1574.9,631.1 1575.1,631.1 1575.4,631.5 1575.9,632.0 1576.4,632.6 1576.9,633.2 1577.0,632.6 1577.4,632.5 1577.9,632.3 1578.4,634.1 1578.9,634.0 1579.0,633.9 1579.4,629.8 1579.9,629.9 1580.4,630.0 1580.9,633.0 1581.0,633.0 1581.4,633.4 1581.9,633.1 1582.4,632.8 1582.9,630.5 1582.9,630.4 1583.4,632.2 1583.9,632.2 1584.4,632.2 1584.9,630.9 1584.9,630.9 1585.4,630.9 1585.9,630.4 1586.4,634.3 1586.9,634.8 1586.9,632.4 1587.4,632.2 1587.9,633.6 1588.4,633.4 1588.8,632.0 1588.9,631.5 1589.4,631.3 1589.9,632.8 1590.4,632.9 1590.8,632.8 1590.9,632.9 1591.4,632.7 1591.9,631.0 1592.4,631.3 1592.8,635.1 1592.9,635.0 1593.4,633.5 1593.9,633.4 1594.4,634.3 1594.7,634.2 1594.9,634.2 1595.4,632.2 1595.9,633.9 1596.4,633.9 1596.7,632.8 1596.9,634.6 1597.4,634.6 1597.9,631.0 1598.4,633.3 1598.7,633.3 1598.9,630.8 1599.4,630.6 1599.9,632.3 1600.4,632.2 1600.6,632.1 1600.9,631.2 1601.4,631.4 1601.9,631.6 1602.4,631.8 1602.6,631.8 1602.9,631.5 1603.4,632.9 1603.9,632.8 1604.4,632.7 1604.6,632.2 1604.9,632.4 1605.4,632.8 1605.9,634.8 1606.4,635.8 1606.5,635.8 1606.9,634.3 1607.4,634.0 1607.9,633.7 1608.4,632.5 1608.5,631.6 1608.9,631.2 1609.4,630.8 1609.9,632.0 1610.4,630.9 1610.5,630.8 1610.9,631.0 1611.4,631.5 1611.9,631.7 1612.4,631.5 1612.4,631.5 1612.9,633.1 1613.4,633.0 1613.9,632.6 1614.4,632.5 1614.4,631.8 1614.9,632.2 1615.4,632.7 1615.9,633.1 1616.4,633.0 1616.4,633.0 1616.9,633.1 1617.4,632.8 1617.9,633.1 1618.3,632.8 1618.4,632.9 1618.9,631.3 1619.4,631.1 1619.9,632.7 1620.3,631.5 1620.4,633.0 1620.9,633.1 1621.4,633.3 1621.9,633.5 1622.3,633.6 1622.4,633.5 1622.9,633.7 1623.4,633.4 1623.9,633.7 1624.2,633.9 1624.4,634.4 1624.9,634.4 1625.4,634.4 1625.9,633.7 1626.2,633.7 1626.4,633.4 1626.9,633.6 1627.4,632.7 1627.9,633.1 1628.2,631.7 1628.4,631.7 1628.9,633.6 1629.4,631.9 1629.9,632.9 1630.1,632.9 1630.4,632.7 1630.9,632.7 1631.4,632.5 1631.9,630.9 1632.1,630.8 1632.4,631.9 1632.9,632.1 1633.4,632.2 1633.9,630.5 1634.1,630.6 1634.4,630.6 1634.9,631.5 1635.4,631.2 1635.9,631.2 1636.0,631.3 1636.4,631.3 1636.9,632.0 1637.4,632.6 1637.9,632.5 1638.0,632.4 1638.4,633.9 1638.9,633.8 1639.4,633.4 1639.9,633.1 1640.0,633.1 1640.4,632.9 1640.9,633.2 1641.4,633.0 1641.9,631.8 1642.0,631.8 1642.4,631.7 1642.9,632.0 1643.4,633.3 1643.9,633.7 1643.9,633.7"/>
<g stroke="#000" fill="none">
<line x1="152.7" y1="42" x2="152.7" y2="1335" stroke-width="3.6"/>
<line x1="151" y1="44.2" x2="1899" y2="44.2" stroke-width="4"/>
<line x1="151" y1="1331.2" x2="1899" y2="1331.2" stroke-width="3.4"/>
<line x1="166.4" y1="1305" x2="166.4" y2="1331" stroke-width="3.6"/>
<line x1="363.1" y1="1305" x2="363.1" y2="1331" stroke-width="3.6"/>
<line x1="559.9" y1="1305" x2="559.9" y2="1331" stroke-width="3.6"/>
<line x1="756.6" y1="1305" x2="756.6" y2="1331" stroke-width="3.6"/>
<line x1="953.4" y1="1305" x2="953.4" y2="1331" stroke-width="3.6"/>
<line x1="1150.1" y1="1305" x2="1150.1" y2="1331" stroke-width="3.6"/>
<line x1="1346.8" y1="1305" x2="1346.8" y2="1331" stroke-width="3.6"/>
<line x1="1543.6" y1="1305" x2="1543.6" y2="1331" stroke-width="3.6"/>
<line x1="1740.3" y1="1305" x2="1740.3" y2="1331" stroke-width="3.6"/>
<line x1="264.8" y1="1319.5" x2="264.8" y2="1331" stroke-width="3.6"/>
<line x1="461.5" y1="1319.5" x2="461.5" y2="1331" stroke-width="3.6"/>
<line x1="658.2" y1="1319.5" x2="658.2" y2="1331" stroke-width="3.6"/>
<line x1="855.0" y1="1319.5" x2="855.0" y2="1331" stroke-width="3.6"/>
<line x1="1051.7" y1="1319.5" x2="1051.7" y2="1331" stroke-width="3.6"/>
<line x1="1248.5" y1="1319.5" x2="1248.5" y2="1331" stroke-width="3.6"/>
<line x1="1445.2" y1="1319.5" x2="1445.2" y2="1331" stroke-width="3.6"/>
<line x1="1642.0" y1="1319.5" x2="1642.0" y2="1331" stroke-width="3.6"/>
<line x1="1838.7" y1="1319.5" x2="1838.7" y2="1331" stroke-width="3.6"/>
<line x1="152" y1="277.4" x2="177.5" y2="277.4" stroke-width="3.4"/>
<line x1="152" y1="160.4" x2="164.5" y2="160.4" stroke-width="3.4"/>
<line x1="152" y1="511.4" x2="177.5" y2="511.4" stroke-width="3.4"/>
<line x1="152" y1="394.4" x2="164.5" y2="394.4" stroke-width="3.4"/>
<line x1="152" y1="745.4" x2="177.5" y2="745.4" stroke-width="3.4"/>
<line x1="152" y1="628.4" x2="164.5" y2="628.4" stroke-width="3.4"/>
<line x1="152" y1="979.4" x2="177.5" y2="979.4" stroke-width="3.4"/>
<line x1="152" y1="862.4" x2="164.5" y2="862.4" stroke-width="3.4"/>
<line x1="152" y1="1213.4" x2="177.5" y2="1213.4" stroke-width="3.4"/>
<line x1="152" y1="1096.4" x2="164.5" y2="1096.4" stroke-width="3.4"/>
</g>
<text x="130.3" y="1414.1" font-size="74.5">10</text>
<text x="325.8" y="1414.1" font-size="74.5">20</text>
<text x="523.6" y="1414.1" font-size="74.5">30</text>
<text x="719.4" y="1414.1" font-size="74.5">40</text>
<text x="915.5" y="1414.1" font-size="74.5">50</text>
<text x="1114.0" y="1414.1" font-size="74.5">60</text>
<text x="1308.2" y="1414.1" font-size="74.5">70</text>
<text x="1507.8" y="1414.1" font-size="74.5">80</text>
<text x="1703.1" y="1414.1" font-size="74.5">90</text>
<text x="987" y="1509" font-size="73.3">2θ</text>
<text transform="translate(89.5,815.1) rotate(-90)" x="0" y="0" font-size="73">Intensity</text>
<text x="1645.2" y="479.1" font-size="66" fill="#6ba022">Sample 4</text>
<text x="1647.9" y="649.1" font-size="65.5" fill="#0000ee">Sample 3</text>
<text x="1644.7" y="818" font-size="66.5" fill="#ee0000">Sample 2</text>
<text x="1649.5" y="1265.2" font-size="65.4" fill="#000">Sample 1</text>
<text x="895.9" y="222.8" font-size="66.5" class="g">γ</text><text x="928.7" y="240.3" font-size="50">(111)</text>
<text x="1071.2" y="351.4" font-size="66.5" class="g">γ</text><text x="1103" y="369.7" font-size="50">(200)</text>
<text x="1457.7" y="435.8" font-size="66.5" class="g">γ</text><text x="1490.6" y="452.7" font-size="50">(220)</text>
<defs><clipPath id="ic"><rect x="1901" y="45" width="1554" height="1284"/></clipPath></defs>
<g clip-path="url(#ic)" fill="none" stroke-width="2.6" stroke-linejoin="round">
<polyline stroke="#34a86a" points="1900.4,357.8 1902.0,358.4 1903.6,357.7 1905.1,356.4 1906.7,354.9 1908.3,355.4 1909.9,355.3 1911.4,355.8 1913.0,354.0 1914.6,354.8 1916.2,354.0 1917.8,355.4 1919.3,354.0 1920.9,353.6 1922.5,353.2 1924.1,353.6 1925.7,353.5 1927.3,352.9 1928.8,352.6 1930.4,352.0 1932.0,351.0 1933.6,350.7 1935.2,350.8 1936.8,350.5 1938.4,349.6 1940.0,349.8 1941.6,350.2 1943.2,349.8 1944.8,350.1 1946.4,351.4 1948.0,352.2 1949.6,351.6 1951.2,351.2 1952.8,351.7 1954.4,351.9 1956.0,351.9 1957.6,352.0 1959.2,352.0 1960.8,351.0 1962.4,350.4 1964.0,350.6 1965.6,351.7 1967.2,350.4 1968.7,349.6 1970.3,348.0 1971.9,347.4 1973.5,347.6 1975.0,348.1 1976.5,348.3 1978.1,348.6 1979.6,348.3 1981.0,348.6 1982.5,347.3 1984.0,346.8 1985.5,344.8 1986.9,344.3 1988.3,343.4 1989.8,342.4 1991.2,341.5 1992.6,340.2 1994.1,341.2 1995.5,339.9 1996.9,339.4 1998.4,338.3 1999.8,337.3 2001.2,337.0 2002.6,335.9 2004.0,336.0 2005.4,334.5 2006.8,334.4 2008.1,333.6 2009.5,333.0 2010.9,331.9 2012.3,331.5 2013.7,331.9 2015.0,329.8 2016.4,328.8 2017.8,327.2 2019.3,327.4 2020.7,325.5 2022.1,325.3 2023.6,324.0 2025.1,324.5 2026.7,324.1 2028.3,323.6 2029.8,322.7 2031.4,320.8 2033.0,321.7 2034.6,322.7 2036.1,324.5 2037.6,322.7 2039.1,320.6 2040.5,319.2 2041.8,319.9 2043.0,319.1 2044.2,317.4 2045.4,315.9 2046.5,314.7 2047.5,313.6 2048.5,312.3 2049.6,311.1 2050.5,309.9 2051.5,308.6 2052.5,307.3 2053.4,306.0 2054.4,304.7 2055.3,303.4 2056.2,302.1 2057.2,300.8 2058.1,299.6 2059.1,298.3 2060.1,297.1 2061.0,295.8 2062.0,294.5 2062.9,293.2 2063.9,291.9 2064.7,290.5 2065.6,289.2 2066.4,287.8 2067.2,286.4 2067.9,285.0 2068.6,283.5 2069.3,282.1 2069.9,280.6 2070.6,279.1 2071.2,277.6 2071.8,276.2 2072.4,274.7 2072.9,273.2 2073.5,271.7 2074.0,270.2 2074.6,268.7 2075.1,267.2 2075.6,265.7 2076.1,264.1 2076.7,262.6 2077.1,261.1 2077.6,259.6 2078.1,258.0 2078.5,256.5 2079.0,255.0 2079.4,253.4 2079.8,251.9 2080.2,250.3 2080.7,248.8 2081.1,247.3 2081.5,245.7 2081.8,244.1 2082.2,242.6 2082.6,241.0 2082.9,239.5 2083.3,237.9 2083.6,236.4 2084.0,234.8 2084.3,233.2 2084.6,231.7 2084.9,230.1 2085.3,228.5 2085.6,227.0 2085.9,225.4 2086.2,223.8 2086.5,222.2 2086.8,220.7 2087.0,219.1 2087.3,217.5 2087.6,215.9 2087.9,214.4 2088.2,212.8 2088.5,211.2 2088.7,209.6 2089.0,208.1 2089.3,206.5 2089.6,204.9 2089.8,203.3 2090.1,201.8 2090.4,200.2 2090.6,198.6 2090.9,197.0 2091.2,195.4 2091.4,193.9 2091.7,192.3 2091.9,190.7 2092.2,189.1 2092.5,187.5 2092.7,186.0 2093.0,184.4 2093.2,182.8 2093.5,181.2 2093.7,179.6 2094.0,178.1 2094.2,176.5 2094.5,174.9 2094.7,173.3 2095.0,171.7 2095.2,170.2 2095.5,168.6 2095.7,167.0 2096.0,165.4 2096.2,163.8 2096.4,162.3 2096.7,160.7 2096.9,159.1 2097.1,157.5 2097.4,155.9 2097.6,154.3 2097.8,152.8 2098.0,151.2 2098.3,149.6 2098.5,148.0 2098.7,146.4 2098.9,144.8 2099.1,143.2 2099.3,141.7 2099.5,140.1 2099.6,138.5 2099.8,136.9 2100.0,135.3 2100.2,133.7 2100.4,132.1 2100.6,130.5 2100.7,128.9 2100.9,127.4 2101.1,125.8 2101.3,124.2 2101.5,122.6 2101.7,121.0 2101.9,119.4 2102.0,117.8 2102.2,116.2 2102.5,114.6 2102.7,113.1 2102.9,111.5 2103.1,109.9 2103.3,108.3 2103.5,106.7 2103.8,105.1 2104.1,103.6 2104.3,102.0 2104.6,100.4 2104.9,98.8 2105.2,97.3 2105.5,95.7 2105.8,94.1 2106.1,92.6 2106.5,91.0 2106.8,89.4 2107.2,87.9 2107.5,86.3 2107.9,84.8 2108.4,83.2 2108.8,81.7 2109.2,80.1 2109.7,78.6 2110.2,77.1 2110.7,75.6 2111.3,74.1 2111.9,72.6 2112.6,71.2 2113.5,70.0 2114.6,70.3 2116.1,69.5 2117.4,70.0 2118.3,71.0 2119.1,72.3 2119.9,73.8 2120.6,75.2 2121.3,76.6 2121.9,78.1 2122.6,79.6 2123.2,81.0 2123.8,82.5 2124.4,84.0 2124.9,85.5 2125.4,87.0 2125.9,88.6 2126.4,90.1 2126.9,91.6 2127.3,93.2 2127.7,94.7 2128.1,96.2 2128.6,97.8 2129.0,99.3 2129.4,100.9 2129.8,102.4 2130.2,104.0 2130.7,105.5 2131.1,107.1 2131.5,108.6 2131.9,110.1 2132.4,111.7 2132.8,113.2 2133.2,114.8 2133.7,116.3 2134.1,117.8 2134.5,119.4 2134.9,120.9 2135.4,122.5 2135.8,124.0 2136.2,125.6 2136.6,127.1 2137.0,128.6 2137.4,130.2 2137.9,131.7 2138.3,133.3 2138.7,134.8 2139.1,136.4 2139.5,137.9 2139.9,139.5 2140.2,141.0 2140.6,142.6 2141.0,144.1 2141.4,145.7 2141.8,147.2 2142.2,148.8 2142.5,150.4 2142.9,151.9 2143.2,153.5 2143.6,155.0 2144.0,156.6 2144.3,158.2 2144.7,159.7 2145.0,161.3 2145.4,162.8 2145.7,164.4 2146.1,166.0 2146.4,167.5 2146.7,169.1 2147.1,170.7 2147.4,172.2 2147.8,173.8 2148.1,175.3 2148.5,176.9 2148.8,178.5 2149.1,180.0 2149.5,181.6 2149.8,183.2 2150.2,184.7 2150.5,186.3 2150.9,187.8 2151.2,189.4 2151.6,191.0 2151.9,192.5 2152.3,194.1 2152.7,195.6 2153.0,197.2 2153.4,198.8 2153.8,200.3 2154.2,201.9 2154.5,203.4 2154.9,205.0 2155.3,206.5 2155.7,208.1 2156.1,209.6 2156.6,211.2 2157.0,212.7 2157.4,214.2 2157.8,215.8 2158.3,217.3 2158.7,218.9 2159.1,220.4 2159.6,221.9 2160.0,223.5 2160.5,225.0 2161.0,226.5 2161.4,228.1 2161.9,229.6 2162.3,231.1 2162.8,232.7 2163.3,234.2 2163.8,235.7 2164.2,237.3 2164.7,238.8 2165.2,240.3 2165.6,241.8 2166.1,243.4 2166.6,244.9 2167.0,246.4 2167.5,248.0 2167.9,249.5 2168.4,251.0 2168.8,252.6 2169.2,254.1 2169.7,255.7 2170.1,257.2 2170.5,258.7 2171.0,260.3 2171.4,261.8 2171.8,263.4 2172.3,264.9 2172.7,266.4 2173.1,268.0 2173.5,269.5 2174.0,271.1 2174.4,272.6 2174.8,274.2 2175.3,275.7 2175.7,277.2 2176.1,278.8 2176.6,280.3 2177.0,281.8 2177.5,283.4 2178.0,284.9 2178.4,286.4 2178.9,288.0 2179.4,289.5 2179.9,291.0 2180.4,292.5 2180.9,294.1 2181.4,295.6 2181.9,297.1 2182.4,298.6 2182.9,300.1 2183.4,301.6 2184.0,303.1 2184.5,304.7 2185.0,306.2 2185.6,307.7 2186.2,309.2 2186.8,310.6 2187.4,312.1 2188.0,313.6 2188.7,315.0 2189.3,316.5 2190.0,317.9 2190.8,319.3 2191.6,320.7 2192.4,322.1 2193.3,323.4 2194.2,324.8 2195.3,326.2 2196.4,327.7 2197.6,328.0 2198.8,329.4 2200.0,329.7 2201.3,330.4 2202.5,332.1 2203.8,333.4 2205.1,334.7 2206.3,334.9 2207.7,334.8 2209.0,335.8 2210.3,337.3 2211.7,338.0 2213.1,338.8 2214.4,339.0 2215.9,341.5 2217.3,343.5 2218.7,343.7 2220.2,343.2 2221.7,343.2 2223.2,343.8 2224.7,344.6 2226.2,345.4 2227.8,347.2 2229.3,348.0 2230.9,347.4 2232.5,347.0 2234.1,345.8 2235.6,346.2 2237.2,345.3 2238.8,348.4 2240.4,349.1 2242.0,350.2 2243.5,348.7 2245.1,346.8 2246.7,347.4 2248.3,348.8 2249.9,350.3 2251.5,350.5 2253.0,350.1 2254.6,349.8 2256.2,350.2 2257.8,350.8 2259.4,352.2 2261.0,351.8 2262.6,351.6 2264.1,350.6 2265.7,350.9 2267.3,351.3 2268.9,351.7 2270.5,352.5 2272.1,351.7 2273.7,351.4 2275.3,350.9 2276.8,350.7 2278.4,352.5 2280.0,352.0 2281.6,353.5 2283.2,353.0 2284.8,354.3 2286.4,353.4 2287.9,353.9 2289.5,354.6 2291.1,355.4 2292.7,355.6 2294.3,354.2 2295.9,355.1 2297.4,356.1 2299.0,356.9 2300.6,356.5 2302.2,355.6 2303.8,355.4 2305.3,354.9 2306.9,356.1 2308.5,357.2 2310.1,357.5 2311.7,358.0 2313.3,358.5 2314.9,359.3 2316.4,359.7 2318.0,359.2 2319.6,359.2 2321.2,359.0 2322.8,359.3 2324.4,360.1 2326.0,359.1 2327.6,360.3 2329.2,359.3 2330.8,360.2 2332.4,358.4 2334.0,359.5 2335.6,360.6 2337.1,362.3 2338.7,362.6 2340.3,360.8 2341.9,359.7 2343.5,358.9 2345.1,359.4 2346.7,360.8 2348.3,361.3 2349.9,362.0 2351.5,361.6 2353.1,361.0 2354.7,360.5 2356.3,359.6 2357.9,360.7 2359.5,361.6 2361.1,362.6 2362.7,363.1 2364.3,362.0 2365.9,361.3 2367.5,360.7 2369.1,360.8 2370.7,360.9 2372.3,361.5 2373.9,363.2 2375.5,364.3 2377.1,363.6 2378.7,362.8 2380.3,362.8 2381.9,362.5 2383.5,362.8 2385.1,362.9 2386.7,362.8 2388.3,361.9 2389.9,360.9 2391.4,361.2 2393.0,361.7 2394.6,361.5 2396.2,361.2 2397.7,359.5 2399.3,358.6 2400.9,358.2 2402.5,358.5 2404.1,358.2 2405.7,357.3 2407.3,357.3 2408.9,358.2 2410.5,358.4 2412.1,359.3 2413.7,360.6 2415.3,361.4 2416.9,362.2 2418.5,361.5 2420.1,361.0 2421.7,360.1 2423.2,359.4 2424.8,360.9 2426.4,360.5 2428.0,362.2 2429.6,362.2 2431.2,361.9 2432.8,361.7 2434.4,362.5 2436.0,363.6 2437.5,363.9 2439.1,361.9 2440.7,362.8 2442.3,361.2 2443.9,362.9 2445.5,361.8 2447.1,361.3 2448.6,361.5 2450.2,364.4 2451.8,366.0 2453.4,365.9"/>
<polyline stroke="#1c6bd9" points="1900.4,536.1 1902.0,536.4 1903.6,536.8 1905.2,537.1 1906.8,535.6 1908.4,534.6 1910.0,532.5 1911.6,533.1 1913.2,534.1 1914.8,534.8 1916.3,535.0 1917.9,533.0 1919.5,532.9 1921.1,531.8 1922.7,534.0 1924.3,534.3 1925.9,535.3 1927.4,533.8 1929.0,533.3 1930.6,532.8 1932.1,532.3 1933.7,531.2 1935.3,530.3 1936.8,529.7 1938.3,529.1 1939.8,528.5 1941.3,527.9 1942.8,528.2 1944.3,526.6 1945.7,527.0 1947.1,525.4 1948.6,525.3 1950.0,523.2 1951.4,522.7 1952.7,522.1 1954.1,522.2 1955.5,521.2 1956.9,520.6 1958.3,520.7 1959.6,520.3 1961.0,519.1 1962.3,517.7 1963.6,516.6 1965.0,516.2 1966.3,515.1 1967.6,514.1 1968.9,512.0 1970.2,510.7 1971.4,510.1 1972.7,509.7 1973.9,509.1 1975.1,508.1 1976.3,507.0 1977.5,506.2 1978.7,505.3 1979.9,504.5 1981.0,503.3 1982.1,502.0 1983.3,501.1 1984.4,499.7 1985.5,498.2 1986.6,496.7 1987.6,495.4 1988.7,493.9 1989.8,492.6 1990.8,491.6 1991.8,490.6 1992.9,489.3 1993.9,487.9 1994.9,486.6 1995.9,485.5 1996.9,484.4 1997.9,483.2 1998.9,482.0 1999.9,480.7 2000.9,479.4 2001.9,478.1 2002.8,476.8 2003.8,475.6 2004.8,474.3 2005.7,473.0 2006.6,471.7 2007.6,470.4 2008.5,469.1 2009.4,467.8 2010.3,466.5 2011.2,465.1 2012.1,463.8 2012.9,462.4 2013.8,461.1 2014.6,459.7 2015.4,458.3 2016.2,457.0 2017.0,455.6 2017.8,454.2 2018.6,452.8 2019.3,451.4 2020.1,449.9 2020.8,448.5 2021.5,447.1 2022.2,445.7 2022.9,444.2 2023.6,442.8 2024.3,441.3 2025.0,439.9 2025.6,438.4 2026.3,437.0 2027.0,435.5 2027.6,434.1 2028.3,432.6 2028.9,431.1 2029.6,429.7 2030.2,428.2 2030.8,426.7 2031.4,425.2 2032.0,423.7 2032.6,422.3 2033.2,420.8 2033.7,419.3 2034.2,417.7 2034.8,416.2 2035.3,414.7 2035.8,413.2 2036.3,411.7 2036.7,410.1 2037.2,408.6 2037.6,407.1 2038.1,405.5 2038.5,404.0 2038.9,402.5 2039.3,400.9 2039.7,399.4 2040.1,397.8 2040.5,396.3 2040.9,394.7 2041.2,393.1 2041.6,391.6 2041.9,390.0 2042.3,388.4 2042.6,386.9 2042.9,385.3 2043.2,383.7 2043.5,382.2 2043.8,380.6 2044.1,379.0 2044.4,377.5 2044.7,375.9 2045.0,374.3 2045.3,372.7 2045.5,371.2 2045.8,369.6 2046.1,368.0 2046.4,366.4 2046.6,364.8 2046.9,363.3 2047.1,361.7 2047.4,360.1 2047.7,358.5 2047.9,357.0 2048.1,355.4 2048.4,353.8 2048.6,352.2 2048.8,350.6 2049.1,349.0 2049.3,347.5 2049.5,345.9 2049.7,344.3 2049.9,342.7 2050.1,341.1 2050.4,339.5 2050.6,337.9 2050.8,336.3 2051.0,334.8 2051.2,333.2 2051.4,331.6 2051.6,330.0 2051.8,328.4 2052.0,326.8 2052.1,325.2 2052.3,323.6 2052.5,322.1 2052.7,320.5 2052.9,318.9 2053.1,317.3 2053.3,315.7 2053.5,314.1 2053.7,312.5 2053.9,310.9 2054.1,309.4 2054.3,307.8 2054.5,306.2 2054.8,304.6 2055.0,303.0 2055.2,301.4 2055.4,299.8 2055.6,298.3 2055.9,296.7 2056.1,295.1 2056.4,293.5 2056.6,291.9 2056.8,290.4 2057.1,288.8 2057.3,287.2 2057.6,285.6 2057.9,284.0 2058.1,282.5 2058.4,280.9 2058.6,279.3 2058.9,277.7 2059.2,276.1 2059.5,274.6 2059.7,273.0 2060.0,271.4 2060.3,269.8 2060.6,268.3 2060.8,266.7 2061.1,265.1 2061.4,263.5 2061.6,262.0 2061.9,260.4 2062.2,258.8 2062.4,257.2 2062.7,255.6 2063.0,254.1 2063.2,252.5 2063.5,250.9 2063.8,249.3 2064.0,247.8 2064.3,246.2 2064.5,244.6 2064.8,243.0 2065.1,241.4 2065.3,239.9 2065.6,238.3 2065.9,236.7 2066.1,235.1 2066.4,233.6 2066.7,232.0 2066.9,230.4 2067.2,228.8 2067.4,227.2 2067.7,225.7 2067.9,224.1 2068.2,222.5 2068.4,220.9 2068.6,219.3 2068.8,217.7 2069.1,216.2 2069.3,214.6 2069.5,213.0 2069.7,211.4 2069.9,209.8 2070.2,208.2 2070.4,206.7 2070.7,205.1 2070.9,203.5 2071.2,201.9 2071.5,200.3 2071.8,198.8 2072.2,197.2 2072.6,195.7 2073.1,194.2 2073.7,192.7 2074.2,191.1 2074.8,189.7 2075.5,188.2 2076.2,186.8 2077.0,185.4 2078.0,184.4 2079.1,183.1 2080.5,181.4 2081.9,181.7 2083.1,183.7 2083.8,185.1 2084.6,186.6 2085.2,188.0 2085.8,189.5 2086.3,191.0 2086.8,192.5 2087.4,194.1 2087.8,195.6 2088.3,197.1 2088.8,198.6 2089.2,200.2 2089.7,201.7 2090.2,203.2 2090.6,204.8 2091.0,206.3 2091.4,207.9 2091.8,209.4 2092.1,211.0 2092.5,212.5 2092.8,214.1 2093.2,215.7 2093.5,217.2 2093.8,218.8 2094.1,220.4 2094.5,221.9 2094.8,223.5 2095.1,225.1 2095.4,226.6 2095.8,228.2 2096.1,229.8 2096.5,231.3 2096.9,232.9 2097.2,234.4 2097.6,236.0 2098.0,237.6 2098.4,239.1 2098.7,240.7 2099.1,242.2 2099.5,243.8 2099.9,245.3 2100.3,246.9 2100.6,248.4 2101.0,250.0 2101.4,251.5 2101.8,253.1 2102.2,254.6 2102.6,256.2 2103.0,257.7 2103.4,259.3 2103.8,260.8 2104.2,262.4 2104.7,263.9 2105.1,265.5 2105.5,267.0 2105.9,268.5 2106.4,270.1 2106.8,271.6 2107.3,273.2 2107.7,274.7 2108.2,276.2 2108.6,277.8 2109.1,279.3 2109.6,280.8 2110.0,282.3 2110.5,283.9 2111.0,285.4 2111.5,286.9 2111.9,288.5 2112.4,290.0 2112.9,291.5 2113.4,293.0 2114.0,294.5 2114.6,296.0 2115.3,297.5 2115.8,298.9 2116.3,300.5 2116.8,302.0 2117.2,303.5 2117.6,305.1 2117.9,306.7 2118.2,308.2 2118.6,309.8 2118.9,311.4 2119.2,312.9 2119.5,314.5 2119.8,316.1 2120.1,317.7 2120.3,319.2 2120.6,320.8 2120.9,322.4 2121.2,324.0 2121.4,325.5 2121.7,327.1 2122.0,328.7 2122.3,330.3 2122.5,331.8 2122.8,333.4 2123.1,335.0 2123.3,336.6 2123.6,338.2 2123.9,339.7 2124.1,341.3 2124.4,342.9 2124.7,344.5 2124.9,346.0 2125.2,347.6 2125.5,349.2 2125.8,350.8 2126.0,352.3 2126.3,353.9 2126.6,355.5 2126.8,357.1 2127.1,358.7 2127.4,360.2 2127.6,361.8 2127.9,363.4 2128.2,365.0 2128.4,366.5 2128.7,368.1 2129.0,369.7 2129.2,371.3 2129.5,372.9 2129.8,374.4 2130.0,376.0 2130.3,377.6 2130.6,379.2 2130.8,380.7 2131.1,382.3 2131.4,383.9 2131.7,385.5 2131.9,387.0 2132.2,388.6 2132.5,390.2 2132.8,391.8 2133.1,393.3 2133.4,394.9 2133.8,396.5 2134.1,398.0 2134.4,399.6 2134.8,401.2 2135.2,402.7 2135.6,404.3 2136.0,405.8 2136.5,407.3 2137.0,408.8 2137.5,410.4 2138.0,411.9 2138.5,413.4 2139.0,414.9 2139.5,416.4 2140.0,417.9 2140.5,419.5 2141.0,421.0 2141.5,422.5 2142.0,424.1 2142.4,425.6 2142.9,427.1 2143.4,428.6 2143.9,430.2 2144.3,431.7 2144.8,433.2 2145.3,434.7 2145.8,436.3 2146.3,437.8 2146.8,439.3 2147.3,440.8 2147.7,442.4 2148.2,443.9 2148.7,445.4 2149.2,446.9 2149.8,448.4 2150.3,449.9 2150.8,451.5 2151.3,453.0 2151.9,454.5 2152.4,456.0 2153.0,457.5 2153.6,459.0 2154.1,460.5 2154.7,462.0 2155.3,463.5 2155.9,464.9 2156.5,466.4 2157.1,467.9 2157.7,469.4 2158.3,470.9 2158.9,472.3 2159.5,473.8 2160.1,475.3 2160.8,476.8 2161.4,478.2 2162.1,479.7 2162.7,481.1 2163.4,482.6 2164.1,484.0 2164.9,485.5 2165.6,486.9 2166.3,488.3 2167.1,489.7 2167.9,491.0 2168.8,492.4 2169.6,493.8 2170.5,495.1 2171.5,496.4 2172.4,497.7 2173.3,499.1 2174.3,500.2 2175.3,501.4 2176.3,502.7 2177.3,504.1 2178.4,505.4 2179.5,506.6 2180.5,507.5 2181.6,508.3 2182.7,509.4 2183.9,511.0 2185.0,512.6 2186.1,513.9 2187.3,514.7 2188.6,514.8 2189.8,516.1 2191.0,517.0 2192.3,519.3 2193.6,519.8 2194.9,520.7 2196.2,521.0 2197.5,521.6 2198.9,523.5 2200.3,524.3 2201.6,525.8 2203.1,526.0 2204.5,526.2 2206.0,527.0 2207.4,527.5 2208.9,529.6 2210.4,529.9 2211.9,530.5 2213.4,529.6 2214.9,529.8 2216.4,529.8 2218.0,531.4 2219.5,532.2 2221.1,533.5 2222.6,532.8 2224.2,532.9 2225.7,531.3 2227.3,532.4 2228.9,534.4 2230.4,535.8 2232.0,536.6 2233.6,536.0 2235.2,536.0 2236.7,535.9 2238.3,535.0 2239.9,535.6 2241.4,536.1 2243.0,537.1 2244.6,536.8 2246.2,537.2 2247.8,536.6 2249.3,537.5 2250.9,536.6 2252.5,537.5 2254.1,537.3 2255.7,536.6 2257.3,538.2 2258.8,538.3 2260.4,539.0 2262.0,536.4 2263.6,537.2 2265.2,538.9 2266.8,541.6 2268.4,543.6 2270.0,543.9 2271.6,543.4 2273.1,541.7 2274.7,541.8 2276.3,541.7 2277.9,541.9 2279.5,540.5 2281.1,540.7 2282.7,542.0 2284.3,542.8 2285.9,543.1 2287.5,540.3 2289.1,541.4 2290.7,541.5 2292.3,544.1 2293.9,543.5 2295.5,542.8 2297.1,541.1 2298.7,541.3 2300.3,542.0 2301.9,542.3 2303.5,542.0 2305.1,541.7 2306.6,542.9 2308.2,542.8 2309.8,542.5 2311.4,542.0 2313.0,542.0 2314.6,543.9 2316.2,543.7 2317.8,543.2 2319.4,542.3 2321.0,542.5 2322.6,543.6 2324.2,543.8 2325.8,543.4 2327.4,543.2 2329.0,543.0 2330.6,542.9 2332.2,542.6 2333.8,542.9 2335.4,542.6 2337.0,542.3 2338.6,541.9 2340.2,542.9 2341.8,544.0 2343.4,543.4 2345.0,543.7 2346.6,543.8 2348.2,545.7 2349.8,545.2 2351.4,544.2 2353.0,542.2 2354.6,542.8 2356.2,544.3 2357.8,544.9 2359.4,544.8 2361.0,544.5 2362.6,545.7 2364.2,545.1 2365.8,545.0 2367.4,544.3 2369.0,544.0 2370.6,543.7 2372.2,544.0 2373.8,544.0 2375.4,544.1 2377.0,545.2 2378.6,544.9 2380.2,545.0 2381.8,544.3 2383.4,545.3 2385.0,545.0 2386.6,544.2 2388.2,545.1 2389.8,544.2 2391.4,544.3 2393.0,542.0 2394.6,542.8 2396.2,543.1 2397.8,543.3 2399.4,542.4 2401.0,542.5 2402.6,543.2 2404.2,543.0 2405.8,540.9 2407.4,541.5 2409.0,543.5 2410.6,544.8 2412.2,544.9 2413.8,543.8 2415.4,544.0 2417.0,543.8 2418.6,543.5 2420.2,543.0 2421.8,544.5 2423.4,546.2 2425.0,547.0 2426.6,546.5 2428.2,544.1 2429.8,543.7 2431.4,543.2 2433.0,543.0 2434.6,542.2 2436.2,541.7 2437.8,541.1 2439.4,543.1 2441.0,543.3 2442.6,544.8 2444.2,544.0 2445.8,542.9 2447.4,542.1 2449.0,542.2 2450.6,543.4 2452.2,544.1 2453.8,543.5"/>
<polyline stroke="#e63b3b" points="1900.4,744.4 1902.0,744.8 1903.6,743.4 1905.2,746.1 1906.7,745.5 1908.3,746.5 1909.9,745.4 1911.5,744.6 1913.1,743.5 1914.7,743.5 1916.2,743.4 1917.8,742.6 1919.4,742.5 1921.0,743.0 1922.6,742.6 1924.1,741.5 1925.7,739.5 1927.3,740.7 1928.8,740.4 1930.4,742.2 1932.0,741.0 1933.5,742.1 1935.1,741.9 1936.7,741.5 1938.2,740.9 1939.8,738.9 1941.3,739.1 1942.9,736.8 1944.4,737.3 1946.0,736.7 1947.5,737.4 1949.0,736.4 1950.5,734.6 1952.0,733.7 1953.5,734.1 1955.0,734.5 1956.4,733.9 1957.9,731.7 1959.3,730.8 1960.6,729.3 1962.0,728.9 1963.3,727.3 1964.6,727.6 1965.9,727.0 1967.2,726.6 1968.5,725.4 1969.8,724.0 1971.0,723.0 1972.2,722.5 1973.5,721.7 1974.7,720.6 1975.9,719.0 1977.1,718.4 1978.3,717.3 1979.5,716.6 1980.7,715.3 1981.9,714.5 1983.1,713.1 1984.3,711.8 1985.5,710.0 1986.7,709.2 1987.9,708.1 1989.1,707.0 1990.3,706.0 1991.5,705.5 1992.7,704.8 1993.9,702.7 1995.1,700.9 1996.3,699.4 1997.4,698.8 1998.6,697.9 1999.7,697.6 2000.9,696.6 2002.0,695.4 2003.1,694.0 2004.2,692.9 2005.2,691.8 2006.3,690.5 2007.3,689.2 2008.3,688.0 2009.3,686.7 2010.2,685.4 2011.1,684.1 2012.0,682.8 2012.9,681.5 2013.8,680.1 2014.6,678.8 2015.4,677.4 2016.2,676.0 2017.0,674.6 2017.8,673.2 2018.5,671.8 2019.2,670.4 2019.9,668.9 2020.6,667.5 2021.3,666.0 2022.0,664.6 2022.6,663.1 2023.3,661.7 2023.9,660.2 2024.5,658.7 2025.1,657.2 2025.7,655.7 2026.3,654.3 2026.9,652.8 2027.5,651.3 2028.0,649.8 2028.6,648.3 2029.1,646.8 2029.6,645.2 2030.2,643.7 2030.7,642.2 2031.2,640.7 2031.7,639.2 2032.3,637.7 2032.8,636.2 2033.3,634.7 2033.8,633.1 2034.3,631.6 2034.8,630.1 2035.3,628.6 2035.9,627.1 2036.4,625.6 2036.9,624.1 2037.4,622.5 2038.0,621.0 2038.5,619.5 2039.1,618.0 2039.6,616.5 2040.2,615.0 2040.8,613.5 2041.4,612.1 2042.0,610.6 2042.6,609.1 2043.2,607.6 2043.8,606.2 2044.4,604.7 2045.0,603.2 2045.6,601.7 2046.1,600.2 2046.7,598.7 2047.4,597.3 2048.3,595.9 2048.9,594.4 2049.4,592.9 2049.8,591.4 2050.2,589.8 2050.6,588.3 2050.9,586.7 2051.2,585.1 2051.5,583.6 2051.8,582.0 2052.1,580.4 2052.4,578.8 2052.7,577.3 2052.9,575.7 2053.2,574.1 2053.5,572.5 2053.7,571.0 2054.0,569.4 2054.3,567.8 2054.5,566.2 2054.8,564.6 2055.1,563.1 2055.3,561.5 2055.6,559.9 2055.8,558.3 2056.1,556.7 2056.3,555.2 2056.6,553.6 2056.8,552.0 2057.1,550.4 2057.3,548.8 2057.6,547.3 2057.8,545.7 2058.1,544.1 2058.3,542.5 2058.6,540.9 2058.8,539.4 2059.1,537.8 2059.3,536.2 2059.5,534.6 2059.8,533.0 2060.0,531.5 2060.3,529.9 2060.5,528.3 2060.8,526.7 2061.0,525.1 2061.3,523.6 2061.5,522.0 2061.8,520.4 2062.0,518.8 2062.2,517.2 2062.5,515.6 2062.7,514.1 2063.0,512.5 2063.2,510.9 2063.5,509.3 2063.7,507.7 2064.0,506.2 2064.2,504.6 2064.5,503.0 2064.7,501.4 2065.0,499.8 2065.2,498.3 2065.5,496.7 2065.7,495.1 2066.0,493.5 2066.2,491.9 2066.5,490.4 2066.7,488.8 2067.0,487.2 2067.3,485.6 2067.5,484.0 2067.8,482.5 2068.0,480.9 2068.3,479.3 2068.5,477.7 2068.8,476.1 2069.1,474.6 2069.3,473.0 2069.6,471.4 2069.9,469.8 2070.1,468.3 2070.4,466.7 2070.7,465.1 2070.9,463.5 2071.2,461.9 2071.4,460.4 2071.7,458.8 2072.0,457.2 2072.2,455.6 2072.5,454.1 2072.8,452.5 2073.0,450.9 2073.3,449.3 2073.6,447.7 2073.8,446.2 2074.1,444.6 2074.4,443.0 2074.6,441.4 2074.9,439.9 2075.2,438.3 2075.4,436.7 2075.7,435.1 2076.0,433.5 2076.2,432.0 2076.5,430.4 2076.8,428.8 2077.1,427.2 2077.3,425.7 2077.6,424.1 2077.9,422.5 2078.2,420.9 2078.5,419.4 2078.7,417.8 2079.0,416.2 2079.3,414.6 2079.6,413.1 2079.9,411.5 2080.2,409.9 2080.5,408.4 2080.8,406.8 2081.1,405.2 2081.4,403.6 2081.7,402.1 2082.1,400.5 2082.4,398.9 2082.7,397.4 2083.0,395.8 2083.4,394.2 2083.7,392.7 2084.1,391.1 2084.4,389.6 2084.8,388.0 2085.1,386.4 2085.5,384.9 2085.9,383.3 2086.3,381.8 2086.7,380.2 2087.1,378.7 2087.5,377.1 2088.0,375.6 2088.4,374.1 2088.9,372.5 2089.3,371.0 2089.8,369.5 2090.3,368.0 2090.9,366.5 2091.4,364.9 2091.9,363.4 2092.5,361.9 2093.1,360.5 2093.7,359.0 2094.3,357.5 2095.0,356.0 2095.7,354.6 2096.4,353.2 2097.1,351.7 2097.9,350.4 2098.8,349.0 2099.8,347.7 2100.9,346.6 2102.2,345.9 2103.7,344.4 2105.2,343.7 2106.8,343.5 2108.2,345.4 2109.4,346.9 2110.5,348.2 2111.4,349.5 2112.3,350.8 2113.1,352.2 2113.9,353.6 2114.6,355.0 2115.3,356.5 2116.0,357.9 2116.7,359.4 2117.3,360.8 2117.9,362.3 2118.5,363.8 2119.1,365.3 2119.7,366.8 2120.3,368.3 2120.8,369.8 2121.4,371.3 2121.9,372.8 2122.4,374.3 2122.9,375.8 2123.4,377.3 2123.9,378.9 2124.3,380.4 2124.8,381.9 2125.2,383.5 2125.7,385.0 2126.1,386.5 2126.5,388.1 2126.9,389.6 2127.3,391.2 2127.8,392.7 2128.2,394.3 2128.5,395.8 2128.9,397.4 2129.3,398.9 2129.7,400.5 2130.1,402.0 2130.4,403.6 2130.8,405.2 2131.2,406.7 2131.5,408.3 2131.9,409.8 2132.2,411.4 2132.6,413.0 2132.9,414.5 2133.3,416.1 2133.6,417.6 2133.9,419.2 2134.3,420.8 2134.6,422.3 2135.0,423.9 2135.3,425.5 2135.6,427.0 2136.0,428.6 2136.3,430.2 2136.6,431.7 2136.9,433.3 2137.3,434.9 2137.6,436.4 2137.9,438.0 2138.2,439.6 2138.6,441.1 2138.9,442.7 2139.2,444.3 2139.5,445.8 2139.9,447.4 2140.2,449.0 2140.5,450.5 2140.8,452.1 2141.2,453.7 2141.5,455.2 2141.8,456.8 2142.1,458.4 2142.5,459.9 2142.8,461.5 2143.1,463.1 2143.4,464.6 2143.8,466.2 2144.1,467.8 2144.4,469.3 2144.7,470.9 2145.1,472.5 2145.4,474.0 2145.7,475.6 2146.0,477.2 2146.4,478.7 2146.7,480.3 2147.0,481.9 2147.3,483.4 2147.6,485.0 2148.0,486.6 2148.3,488.1 2148.6,489.7 2148.9,491.3 2149.2,492.8 2149.6,494.4 2149.9,496.0 2150.2,497.5 2150.5,499.1 2150.8,500.7 2151.1,502.2 2151.5,503.8 2151.8,505.4 2152.1,507.0 2152.4,508.5 2152.7,510.1 2153.0,511.7 2153.3,513.2 2153.6,514.8 2153.9,516.4 2154.2,517.9 2154.5,519.5 2154.8,521.1 2155.2,522.7 2155.5,524.2 2155.8,525.8 2156.1,527.4 2156.3,528.9 2156.6,530.5 2156.9,532.1 2157.2,533.7 2157.5,535.2 2157.8,536.8 2158.0,538.4 2158.3,540.0 2158.6,541.6 2158.8,543.1 2159.1,544.7 2159.3,546.3 2159.5,547.9 2159.8,549.5 2160.0,551.0 2160.2,552.6 2160.4,554.2 2160.6,555.8 2160.8,557.4 2161.0,559.0 2161.2,560.6 2161.4,562.2 2161.6,563.7 2161.8,565.3 2161.9,566.9 2162.1,568.5 2162.3,570.1 2162.5,571.7 2162.7,573.3 2163.0,574.9 2163.2,576.4 2163.5,578.0 2163.7,579.6 2164.0,581.2 2164.4,582.7 2164.7,584.3 2165.1,585.8 2165.5,587.4 2166.0,588.9 2166.5,590.4 2167.0,591.9 2167.6,593.4 2168.1,595.0 2168.6,596.5 2169.1,598.0 2169.6,599.5 2170.0,601.1 2170.3,602.6 2170.7,604.2 2171.1,605.8 2171.4,607.3 2171.7,608.9 2172.1,610.4 2172.4,612.0 2172.7,613.6 2173.1,615.1 2173.5,616.7 2173.9,618.2 2174.3,619.8 2174.7,621.3 2175.2,622.9 2175.6,624.4 2176.2,625.9 2176.7,627.4 2177.2,628.9 2177.8,630.4 2178.3,631.9 2178.9,633.4 2179.5,634.9 2180.1,636.4 2180.7,637.9 2181.3,639.3 2181.9,640.8 2182.6,642.3 2183.2,643.8 2183.8,645.2 2184.4,646.7 2185.0,648.2 2185.6,649.7 2186.3,651.2 2186.9,652.6 2187.5,654.1 2188.1,655.6 2188.7,657.1 2189.3,658.6 2189.8,660.1 2190.4,661.5 2191.0,663.0 2191.6,664.5 2192.2,666.0 2192.7,667.5 2193.3,669.0 2193.9,670.5 2194.5,672.0 2195.1,673.5 2195.7,675.0 2196.3,676.4 2196.9,677.9 2197.5,679.4 2198.1,680.9 2198.8,682.3 2199.4,683.8 2200.1,685.3 2200.8,686.7 2201.5,688.1 2202.2,689.5 2203.0,690.9 2203.8,692.3 2204.7,693.7 2205.6,695.0 2206.5,696.3 2207.5,697.6 2208.5,698.8 2209.5,699.9 2210.6,701.1 2211.7,702.6 2212.8,703.5 2214.0,704.4 2215.1,705.5 2216.2,707.3 2217.3,708.7 2218.5,709.5 2219.6,710.1 2220.8,710.8 2221.9,711.7 2223.1,712.5 2224.3,713.6 2225.5,715.4 2226.8,717.1 2228.0,718.8 2229.2,719.9 2230.4,720.3 2231.6,721.1 2232.8,721.9 2233.9,723.4 2235.0,724.4 2236.1,725.5 2237.1,726.7 2238.2,728.1 2239.3,729.4 2240.4,730.3 2241.6,731.2 2242.9,732.4 2244.2,733.8 2245.6,734.7 2247.0,735.3 2248.5,735.0 2250.0,734.1 2251.5,734.4 2253.1,735.9 2254.6,737.6 2256.2,737.8 2257.8,737.1 2259.3,736.7 2260.9,737.6 2262.5,739.3 2264.1,741.4 2265.7,742.2 2267.2,741.6 2268.8,740.5 2270.4,739.1 2272.0,738.9 2273.6,739.0 2275.1,740.7 2276.7,741.0 2278.3,741.3 2279.8,741.4 2281.4,743.5 2283.0,743.7 2284.5,744.5 2286.1,743.3 2287.6,744.2 2289.2,743.3 2290.8,743.3 2292.3,743.8 2293.9,745.2 2295.5,746.0 2297.0,746.3 2298.6,745.6 2300.2,745.7 2301.8,745.4 2303.3,745.4 2304.9,746.1 2306.5,746.2 2308.1,746.3 2309.7,745.9 2311.3,745.3 2312.8,746.3 2314.4,746.7 2316.0,747.9 2317.6,748.3 2319.2,749.6 2320.8,751.0 2322.4,751.6 2324.0,750.8 2325.6,749.6 2327.2,749.1 2328.8,748.6 2330.3,749.1 2331.9,749.5 2333.5,749.3 2335.1,750.5 2336.7,749.8 2338.3,750.7 2339.9,750.5 2341.5,751.3 2343.1,750.7 2344.7,750.2 2346.3,751.6 2347.9,752.6 2349.5,752.5 2351.1,751.7 2352.7,751.2 2354.3,750.3 2355.9,750.1 2357.5,751.0 2359.1,753.1 2360.7,753.0 2362.3,751.4 2363.9,751.5 2365.5,751.5 2367.1,753.0 2368.7,753.0 2370.3,753.3 2371.9,752.9 2373.5,751.7 2375.1,751.2 2376.7,751.3 2378.3,751.5 2379.9,752.0 2381.5,750.8 2383.1,750.4 2384.7,750.2 2386.3,751.1 2387.9,751.4 2389.5,750.8 2391.1,751.7 2392.6,753.2 2394.2,753.4 2395.8,753.8 2397.4,751.8 2399.0,752.6 2400.6,750.6 2402.2,751.9 2403.8,751.9 2405.4,753.4 2407.0,754.0 2408.6,754.5 2410.2,754.4 2411.8,753.2 2413.4,752.9 2415.0,752.5 2416.6,752.8 2418.2,753.9 2419.8,755.0 2421.4,755.6 2423.0,755.1 2424.6,753.6 2426.2,753.6 2427.8,752.1 2429.4,752.7 2431.0,753.0 2432.6,754.4 2434.2,755.4 2435.8,755.4 2437.4,755.2 2439.0,754.8 2440.6,755.7 2442.2,756.7 2443.8,755.8 2445.4,755.0 2447.0,755.1 2448.6,756.0 2450.2,756.1 2451.8,754.9 2453.4,755.2"/>
<polyline stroke="#454545" points="1900.2,1263.0 1901.8,1261.6 1903.3,1258.8 1904.9,1258.9 1906.4,1260.4 1908.0,1262.1 1909.6,1262.5 1911.2,1262.1 1912.8,1261.4 1914.4,1262.7 1916.0,1261.4 1917.6,1262.2 1919.2,1262.2 1920.8,1262.8 1922.4,1262.6 1924.0,1260.4 1925.6,1260.7 1927.2,1259.2 1928.8,1259.2 1930.4,1260.1 1932.0,1261.6 1933.6,1261.9 1935.2,1261.0 1936.8,1261.1 1938.4,1261.3 1940.0,1261.3 1941.6,1259.8 1943.1,1259.8 1944.7,1258.7 1946.3,1260.0 1947.8,1259.1 1949.2,1258.2 1950.5,1256.9 1951.8,1255.4 1953.2,1255.5 1954.5,1254.7 1955.8,1254.7 1957.2,1252.8 1958.5,1252.7 1959.8,1251.2 1961.1,1251.5 1962.4,1250.1 1963.7,1248.8 1965.0,1247.4 1966.3,1245.8 1967.6,1245.5 1968.8,1245.0 1970.1,1244.5 1971.3,1243.8 1972.6,1241.8 1973.8,1240.5 1975.1,1239.3 1976.3,1239.0 1977.5,1237.7 1978.7,1236.7 1979.9,1235.4 1981.1,1234.0 1982.2,1232.5 1983.4,1231.4 1984.5,1230.4 1985.7,1229.3 1986.8,1228.3 1988.0,1227.5 1989.1,1226.6 1990.2,1225.3 1991.3,1224.0 1992.4,1222.7 1993.5,1221.5 1994.6,1220.5 1995.7,1219.7 1996.8,1218.5 1997.9,1217.3 1999.0,1215.8 2000.1,1214.5 2001.2,1213.4 2002.3,1212.4 2003.4,1211.4 2004.5,1210.3 2005.6,1208.9 2006.7,1208.1 2007.8,1207.0 2008.9,1205.8 2010.0,1204.1 2011.1,1202.7 2012.2,1201.4 2013.2,1200.3 2014.3,1199.2 2015.3,1198.3 2016.3,1197.2 2017.3,1195.9 2018.3,1194.6 2019.3,1193.3 2020.2,1192.0 2021.2,1190.7 2022.0,1189.4 2022.9,1188.0 2023.8,1186.7 2024.6,1185.3 2025.4,1183.9 2026.1,1182.5 2026.8,1181.1 2027.6,1179.7 2028.2,1178.2 2028.9,1176.7 2029.5,1175.3 2030.2,1173.8 2030.8,1172.3 2031.4,1170.8 2031.9,1169.3 2032.5,1167.9 2033.1,1166.4 2033.6,1164.9 2034.2,1163.4 2034.7,1161.8 2035.2,1160.3 2035.7,1158.8 2036.2,1157.3 2036.7,1155.7 2037.1,1154.2 2037.6,1152.7 2038.0,1151.1 2038.4,1149.6 2038.8,1148.1 2039.3,1146.5 2039.7,1145.0 2040.1,1143.4 2040.5,1141.9 2040.9,1140.3 2041.3,1138.8 2041.6,1137.2 2042.0,1135.7 2042.4,1134.1 2042.8,1132.5 2043.2,1131.0 2043.6,1129.4 2043.9,1127.9 2044.3,1126.3 2044.6,1124.8 2045.0,1123.2 2045.3,1121.6 2045.6,1120.1 2046.0,1118.5 2046.3,1116.9 2046.6,1115.4 2046.9,1113.8 2047.2,1112.2 2047.4,1110.6 2047.7,1109.1 2048.0,1107.5 2048.2,1105.9 2048.5,1104.3 2048.7,1102.7 2049.0,1101.2 2049.2,1099.6 2049.4,1098.0 2049.7,1096.4 2049.9,1094.8 2050.1,1093.2 2050.3,1091.7 2050.6,1090.1 2050.8,1088.5 2051.0,1086.9 2051.2,1085.3 2051.4,1083.7 2051.6,1082.1 2051.8,1080.6 2052.0,1079.0 2052.2,1077.4 2052.4,1075.8 2052.6,1074.2 2052.8,1072.6 2053.0,1071.0 2053.2,1069.4 2053.3,1067.8 2053.5,1066.3 2053.7,1064.7 2053.9,1063.1 2054.1,1061.5 2054.3,1059.9 2054.5,1058.3 2054.6,1056.7 2054.8,1055.1 2055.0,1053.5 2055.2,1052.0 2055.4,1050.4 2055.5,1048.8 2055.7,1047.2 2055.9,1045.6 2056.1,1044.0 2056.2,1042.4 2056.4,1040.8 2056.6,1039.2 2056.8,1037.6 2056.9,1036.1 2057.1,1034.5 2057.3,1032.9 2057.4,1031.3 2057.6,1029.7 2057.8,1028.1 2057.9,1026.5 2058.1,1024.9 2058.3,1023.3 2058.5,1021.7 2058.6,1020.1 2058.8,1018.5 2058.9,1017.0 2059.1,1015.4 2059.3,1013.8 2059.4,1012.2 2059.6,1010.6 2059.7,1009.0 2059.9,1007.4 2060.1,1005.8 2060.2,1004.2 2060.4,1002.6 2060.5,1001.0 2060.7,999.4 2060.9,997.9 2061.0,996.3 2061.2,994.7 2061.3,993.1 2061.5,991.5 2061.6,989.9 2061.8,988.3 2061.9,986.7 2062.1,985.1 2062.2,983.5 2062.4,981.9 2062.5,980.3 2062.7,978.7 2062.8,977.1 2062.9,975.6 2063.1,974.0 2063.2,972.4 2063.4,970.8 2063.5,969.2 2063.6,967.6 2063.8,966.0 2063.9,964.4 2064.1,962.8 2064.2,961.2 2064.3,959.6 2064.5,958.0 2064.6,956.4 2064.7,954.8 2064.8,953.2 2065.0,951.6 2065.1,950.0 2065.2,948.4 2065.4,946.9 2065.5,945.3 2065.6,943.7 2065.7,942.1 2065.8,940.5 2066.0,938.9 2066.1,937.3 2066.2,935.7 2066.3,934.1 2066.5,932.5 2066.6,930.9 2066.7,929.3 2066.8,927.7 2066.9,926.1 2067.1,924.5 2067.2,922.9 2067.3,921.3 2067.4,919.7 2067.6,918.1 2067.7,916.5 2067.8,914.9 2067.9,913.3 2068.0,911.8 2068.2,910.2 2068.3,908.6 2068.4,907.0 2068.6,905.4 2068.7,903.8 2068.8,902.2 2069.0,900.6 2069.1,899.0 2069.3,897.4 2069.4,895.8 2069.6,894.2 2069.8,892.6 2070.2,891.1 2070.5,889.5 2070.7,887.9 2070.8,886.3 2071.0,884.7 2071.1,883.1 2071.2,881.5 2071.3,880.0 2071.4,878.4 2071.6,876.8 2071.7,875.2 2071.8,873.6 2071.9,872.0 2072.0,870.4 2072.1,868.8 2072.2,867.2 2072.3,865.6 2072.4,864.0 2072.5,862.4 2072.5,860.8 2072.6,859.2 2072.7,857.6 2072.8,856.0 2072.9,854.4 2073.0,852.8 2073.1,851.2 2073.2,849.6 2073.3,848.0 2073.4,846.4 2073.5,844.8 2073.6,843.2 2073.7,841.6 2073.8,840.0 2073.9,838.4 2073.9,836.8 2074.0,835.2 2074.1,833.6 2074.2,832.0 2074.3,830.4 2074.4,828.8 2074.5,827.2 2074.6,825.6 2074.7,824.1 2074.8,822.5 2074.8,820.9 2074.9,819.3 2075.0,817.7 2075.1,816.1 2075.2,814.5 2075.3,812.9 2075.4,811.3 2075.5,809.7 2075.6,808.1 2075.7,806.5 2075.7,804.9 2075.8,803.3 2075.9,801.7 2076.0,800.1 2076.1,798.5 2076.2,796.9 2076.3,795.3 2076.4,793.7 2076.5,792.1 2076.5,790.5 2076.6,788.9 2076.7,787.3 2076.8,785.7 2076.9,784.1 2077.0,782.5 2077.1,780.9 2077.2,779.3 2077.3,777.7 2077.3,776.1 2077.4,774.5 2077.5,772.9 2077.6,771.3 2077.7,769.7 2077.8,768.1 2077.9,766.5 2078.0,764.9 2078.1,763.3 2078.2,761.7 2078.2,760.2 2078.3,758.6 2078.4,757.0 2078.5,755.4 2078.6,753.8 2078.7,752.2 2078.8,750.6 2078.9,749.0 2079.0,747.4 2079.0,745.8 2079.1,744.2 2079.2,742.6 2079.3,741.0 2079.4,739.4 2079.5,737.8 2079.6,736.2 2079.7,734.6 2079.8,733.0 2079.8,731.4 2079.9,729.8 2080.0,728.2 2080.1,726.6 2080.2,725.0 2080.3,723.4 2080.4,721.8 2080.5,720.2 2080.6,718.6 2080.6,717.0 2080.7,715.4 2080.8,713.8 2080.9,712.2 2081.0,710.6 2081.1,709.0 2081.2,707.4 2081.3,705.8 2081.4,704.2 2081.4,702.6 2081.5,701.0 2081.6,699.4 2081.7,697.8 2081.8,696.3 2081.9,694.7 2082.0,693.1 2082.1,691.5 2082.1,689.9 2082.2,688.3 2082.3,686.7 2082.4,685.1 2082.5,683.5 2082.6,681.9 2082.7,680.3 2082.8,678.7 2082.9,677.1 2082.9,675.5 2083.0,673.9 2083.1,672.3 2083.2,670.7 2083.3,669.1 2083.4,667.5 2083.5,665.9 2083.6,664.3 2083.6,662.7 2083.7,661.1 2083.8,659.5 2083.9,657.9 2084.0,656.3 2084.1,654.7 2084.2,653.1 2084.2,651.5 2084.3,649.9 2084.4,648.3 2084.5,646.7 2084.6,645.1 2084.7,643.5 2084.8,641.9 2084.9,640.3 2084.9,638.7 2085.0,637.1 2085.1,635.5 2085.2,633.9 2085.3,632.3 2085.3,630.7 2085.4,629.1 2085.5,627.6 2085.6,626.0 2085.7,624.4 2085.7,622.8 2085.8,621.2 2085.9,619.6 2085.9,618.0 2086.0,616.4 2086.1,614.8 2086.2,613.2 2086.2,611.6 2086.3,610.0 2086.4,608.4 2086.4,606.8 2086.5,605.2 2086.6,603.6 2086.6,602.0 2086.7,600.4 2086.8,598.8 2086.8,597.2 2086.9,595.6 2087.0,594.0 2087.1,592.4 2087.2,590.8 2087.3,589.2 2087.4,587.6 2087.5,586.0 2087.6,584.4 2087.7,582.8 2087.8,581.2 2087.9,579.6 2088.1,578.0 2088.2,576.4 2088.4,574.8 2088.5,573.2 2088.7,571.7 2088.9,570.1 2089.0,568.5 2089.2,566.9 2089.4,565.3 2089.6,563.7 2089.8,562.1 2090.0,560.5 2090.2,558.9 2090.4,557.4 2090.7,555.8 2090.9,554.2 2091.1,552.6 2091.4,551.0 2091.6,549.4 2091.8,547.9 2092.1,546.3 2092.3,544.7 2092.5,543.1 2092.8,541.5 2093.0,539.9 2093.2,538.4 2093.5,536.8 2093.7,535.2 2093.9,533.6 2094.1,532.0 2094.4,530.4 2094.6,528.9 2094.8,527.3 2095.0,525.7 2095.3,524.1 2095.5,522.5 2095.7,520.9 2096.0,519.4 2096.2,517.8 2096.5,516.2 2096.8,514.6 2097.1,513.1 2097.4,511.5 2097.8,510.0 2098.5,510.2 2099.2,509.9 2099.5,511.5 2099.6,513.1 2099.8,514.6 2099.9,516.2 2100.1,517.8 2100.2,519.4 2100.3,521.0 2100.4,522.6 2100.5,524.2 2100.7,525.8 2100.8,527.4 2100.9,529.0 2101.0,530.6 2101.2,532.2 2101.3,533.8 2101.4,535.4 2101.5,537.0 2101.6,538.6 2101.6,540.2 2101.7,541.8 2101.8,543.4 2101.9,545.0 2102.0,546.6 2102.0,548.2 2102.1,549.8 2102.2,551.4 2102.3,553.0 2102.4,554.6 2102.5,556.2 2102.6,557.8 2102.7,559.3 2102.8,560.9 2102.9,562.5 2103.0,564.1 2103.1,565.7 2103.2,567.3 2103.4,568.9 2103.5,570.5 2103.6,572.1 2103.8,573.7 2103.9,575.3 2104.0,576.9 2104.2,578.5 2104.3,580.1 2104.5,581.7 2104.6,583.3 2104.7,584.9 2104.9,586.5 2105.0,588.1 2105.2,589.6 2105.3,591.2 2105.5,592.8 2105.6,594.4 2105.7,596.0 2105.9,597.6 2106.0,599.2 2106.2,600.8 2106.3,602.4 2106.5,604.0 2106.6,605.6 2106.8,607.2 2106.9,608.8 2107.0,610.4 2107.2,612.0 2107.3,613.6 2107.5,615.1 2107.6,616.7 2107.8,618.3 2107.9,619.9 2108.1,621.5 2108.2,623.1 2108.4,624.7 2108.5,626.3 2108.7,627.9 2108.8,629.5 2109.0,631.1 2109.1,632.7 2109.3,634.3 2109.4,635.9 2109.6,637.4 2109.7,639.0 2109.9,640.6 2110.0,642.2 2110.2,643.8 2110.4,645.4 2110.5,647.0 2110.7,648.6 2110.8,650.2 2111.0,651.8 2111.1,653.4 2111.3,655.0 2111.5,656.6 2111.6,658.1 2111.8,659.7 2112.0,661.3 2112.1,662.9 2112.3,664.5 2112.5,666.1 2112.6,667.7 2112.8,669.3 2113.0,670.9 2113.1,672.5 2113.3,674.1 2113.5,675.6 2113.6,677.2 2113.8,678.8 2114.0,680.4 2114.2,682.0 2114.4,683.6 2114.6,685.2 2114.7,686.8 2114.9,688.4 2115.1,690.0 2115.3,691.5 2115.5,693.1 2115.7,694.7 2115.9,696.3 2116.1,697.9 2116.3,699.5 2116.5,701.1 2116.7,702.7 2116.9,704.2 2117.2,705.8 2117.4,707.4 2117.6,709.0 2117.8,710.6 2118.1,712.2 2118.3,713.7 2118.5,715.3 2118.8,716.9 2119.0,718.5 2119.3,720.1 2119.6,721.6 2119.8,723.2 2120.1,724.8 2120.4,726.4 2120.6,727.9 2120.9,729.5 2121.2,731.1 2121.4,732.7 2121.7,734.3 2122.0,735.8 2122.3,737.4 2122.6,739.0 2122.9,740.5 2123.2,742.1 2123.5,743.7 2123.7,745.3 2124.0,746.8 2124.3,748.4 2124.6,750.0 2124.9,751.6 2125.2,753.1 2125.5,754.7 2125.8,756.3 2126.1,757.9 2126.4,759.4 2126.6,761.0 2126.9,762.6 2127.2,764.2 2127.4,765.7 2127.7,767.3 2128.0,768.9 2128.3,770.5 2128.5,772.0 2128.8,773.6 2129.1,775.2 2129.3,776.8 2129.5,778.4 2129.8,780.0 2130.0,781.5 2130.2,783.1 2130.5,784.7 2130.7,786.3 2130.9,787.9 2131.1,789.4 2131.3,791.0 2131.5,792.6 2131.7,794.2 2131.9,795.8 2132.1,797.4 2132.3,799.0 2132.5,800.6 2132.7,802.1 2132.9,803.7 2133.1,805.3 2133.3,806.9 2133.5,808.5 2133.6,810.1 2133.8,811.7 2134.0,813.3 2134.2,814.9 2134.4,816.5 2134.5,818.0 2134.7,819.6 2134.9,821.2 2135.0,822.8 2135.2,824.4 2135.3,826.0 2135.5,827.6 2135.7,829.2 2135.8,830.8 2136.0,832.4 2136.1,834.0 2136.3,835.6 2136.4,837.2 2136.6,838.7 2136.7,840.3 2136.9,841.9 2137.0,843.5 2137.2,845.1 2137.3,846.7 2137.5,848.3 2137.6,849.9 2137.7,851.5 2137.9,853.1 2138.0,854.7 2138.2,856.3 2138.3,857.9 2138.4,859.5 2138.6,861.1 2138.7,862.7 2138.9,864.2 2139.0,865.8 2139.1,867.4 2139.3,869.0 2139.4,870.6 2139.5,872.2 2139.7,873.8 2139.8,875.4 2139.9,877.0 2140.1,878.6 2140.2,880.2 2140.3,881.8 2140.5,883.4 2140.6,885.0 2140.7,886.6 2140.8,888.2 2141.0,889.8 2141.1,891.4 2141.2,892.9 2141.3,894.5 2141.5,896.1 2141.6,897.7 2141.7,899.3 2141.8,900.9 2141.9,902.5 2142.0,904.1 2142.1,905.7 2142.3,907.3 2142.4,908.9 2142.5,910.5 2142.6,912.1 2142.7,913.7 2142.8,915.3 2142.9,916.9 2143.0,918.5 2143.1,920.1 2143.2,921.7 2143.4,923.3 2143.5,924.9 2143.6,926.5 2143.7,928.1 2143.8,929.7 2143.9,931.3 2144.0,932.9 2144.1,934.4 2144.2,936.0 2144.3,937.6 2144.4,939.2 2144.5,940.8 2144.6,942.4 2144.7,944.0 2144.8,945.6 2145.0,947.2 2145.1,948.8 2145.2,950.4 2145.3,952.0 2145.4,953.6 2145.5,955.2 2145.6,956.8 2145.7,958.4 2145.8,960.0 2146.0,961.6 2146.1,963.2 2146.2,964.8 2146.3,966.4 2146.4,968.0 2146.6,969.6 2146.7,971.2 2146.8,972.8 2146.9,974.3 2147.1,975.9 2147.2,977.5 2147.3,979.1 2147.4,980.7 2147.6,982.3 2147.7,983.9 2147.8,985.5 2148.0,987.1 2148.1,988.7 2148.2,990.3 2148.4,991.9 2148.5,993.5 2148.7,995.1 2148.8,996.7 2148.9,998.3 2149.1,999.9 2149.2,1001.5 2149.4,1003.0 2149.5,1004.6 2149.6,1006.2 2149.8,1007.8 2149.9,1009.4 2150.1,1011.0 2150.2,1012.6 2150.4,1014.2 2150.5,1015.8 2150.7,1017.4 2150.8,1019.0 2151.0,1020.6 2151.1,1022.2 2151.3,1023.8 2151.4,1025.3 2151.6,1026.9 2151.7,1028.5 2151.9,1030.1 2152.0,1031.7 2152.2,1033.3 2152.4,1034.9 2152.5,1036.5 2152.7,1038.1 2152.8,1039.7 2153.0,1041.3 2153.1,1042.9 2153.3,1044.5 2153.5,1046.1 2153.6,1047.6 2153.8,1049.2 2153.9,1050.8 2154.1,1052.4 2154.2,1054.0 2154.4,1055.6 2154.6,1057.2 2154.7,1058.8 2154.9,1060.4 2155.0,1062.0 2155.2,1063.6 2155.3,1065.2 2155.5,1066.7 2155.7,1068.3 2155.8,1069.9 2156.0,1071.5 2156.1,1073.1 2156.3,1074.7 2156.4,1076.3 2156.6,1077.9 2156.8,1079.5 2156.9,1081.1 2157.1,1082.7 2157.3,1084.3 2157.4,1085.9 2157.6,1087.4 2157.7,1089.0 2157.9,1090.6 2158.1,1092.2 2158.2,1093.8 2158.4,1095.4 2158.6,1097.0 2158.8,1098.6 2158.9,1100.2 2159.1,1101.8 2159.3,1103.4 2159.4,1104.9 2159.6,1106.5 2159.8,1108.1 2160.0,1109.7 2160.2,1111.3 2160.3,1112.9 2160.5,1114.5 2160.7,1116.1 2160.9,1117.7 2161.1,1119.2 2161.3,1120.8 2161.5,1122.4 2161.7,1124.0 2161.9,1125.6 2162.1,1127.2 2162.3,1128.8 2162.6,1130.4 2162.8,1131.9 2163.0,1133.5 2163.2,1135.1 2163.5,1136.7 2163.7,1138.3 2164.0,1139.9 2164.2,1141.4 2164.4,1143.0 2164.7,1144.6 2164.9,1146.2 2165.2,1147.8 2165.5,1149.3 2165.8,1150.9 2166.0,1152.5 2166.3,1154.1 2166.7,1155.6 2167.0,1157.2 2167.3,1158.8 2167.6,1160.3 2168.0,1161.9 2168.3,1163.4 2168.7,1165.0 2169.0,1166.6 2169.4,1168.1 2169.8,1169.7 2170.2,1171.2 2170.6,1172.8 2171.0,1174.3 2171.4,1175.9 2171.9,1177.4 2172.3,1178.9 2172.8,1180.5 2173.3,1182.0 2173.7,1183.5 2174.2,1185.0 2174.7,1186.6 2175.3,1188.1 2175.8,1189.6 2176.4,1191.1 2176.9,1192.6 2177.5,1194.1 2178.1,1195.6 2178.7,1197.0 2179.3,1198.5 2179.9,1200.0 2180.6,1201.4 2181.2,1202.9 2181.9,1204.4 2182.6,1205.8 2183.3,1207.2 2184.0,1208.7 2184.7,1210.1 2185.5,1211.5 2186.2,1212.9 2187.0,1214.3 2187.8,1215.7 2188.6,1217.1 2189.4,1218.5 2190.2,1219.9 2191.1,1221.2 2191.9,1222.6 2192.8,1223.9 2193.8,1225.2 2194.7,1226.5 2195.6,1227.8 2196.6,1229.1 2197.6,1230.2 2198.6,1231.3 2199.7,1232.6 2200.7,1234.2 2201.8,1235.5 2203.0,1236.4 2204.1,1237.2 2205.3,1238.7 2206.5,1240.3 2207.7,1241.4 2208.9,1242.2 2210.2,1242.6 2211.4,1243.6 2212.7,1245.3 2214.0,1245.9 2215.3,1247.0 2216.7,1246.4 2218.0,1247.0 2219.4,1246.6 2220.7,1247.7 2222.1,1249.9 2223.5,1252.6 2224.9,1254.3 2226.3,1254.2 2227.7,1254.6 2229.1,1254.3 2230.5,1254.2 2231.9,1253.6 2233.3,1254.8 2234.8,1255.2 2236.3,1255.8 2237.8,1257.6 2239.3,1259.1 2240.9,1259.8 2242.4,1258.7 2244.0,1259.6 2245.5,1260.6 2247.1,1261.3 2248.7,1261.0 2250.3,1259.3 2251.9,1258.5 2253.5,1258.5 2255.0,1259.7 2256.6,1260.6 2258.2,1260.6 2259.8,1262.3 2261.4,1263.3 2263.0,1263.0 2264.6,1262.4 2266.2,1262.0 2267.8,1262.7 2269.4,1262.1 2271.0,1262.2 2272.6,1263.5 2274.2,1263.4 2275.8,1263.1 2277.4,1261.8 2279.0,1261.1 2280.6,1261.3 2282.2,1260.9 2283.8,1262.3 2285.4,1262.6 2287.0,1264.4 2288.6,1264.2 2290.2,1263.8 2291.8,1263.2 2293.4,1264.8 2295.0,1265.2 2296.6,1265.2 2298.2,1264.4 2299.8,1264.8 2301.4,1264.3 2303.0,1263.7 2304.5,1263.2 2306.1,1263.6 2307.7,1264.6 2309.2,1264.8 2310.8,1264.9 2312.4,1265.0 2313.9,1265.8 2315.5,1266.7 2317.1,1266.1 2318.7,1267.6 2320.3,1267.6 2321.8,1268.4 2323.4,1266.7 2325.0,1267.3 2326.6,1268.2 2328.2,1268.8 2329.8,1268.4 2331.4,1267.6 2333.0,1269.2 2334.6,1269.6 2336.2,1269.5 2337.8,1268.2 2339.4,1268.5 2341.0,1268.9 2342.6,1269.0 2344.2,1268.4 2345.8,1268.1 2347.4,1268.3 2349.0,1269.2 2350.6,1269.6 2352.2,1269.0 2353.8,1267.4 2355.4,1267.0 2357.0,1266.8 2358.6,1266.8 2360.2,1267.2 2361.8,1267.7 2363.4,1268.9 2365.0,1268.8 2366.6,1268.3 2368.2,1268.2 2369.8,1268.1 2371.4,1269.2 2373.0,1267.9 2374.6,1267.4 2376.2,1266.5 2377.8,1268.1 2379.4,1268.6 2381.0,1267.8 2382.6,1266.2 2384.2,1266.2 2385.8,1265.9 2387.4,1266.0 2389.0,1265.5 2390.6,1266.2 2392.2,1266.8 2393.8,1267.4 2395.4,1267.7 2397.0,1266.7 2398.6,1267.0 2400.2,1267.4 2401.8,1267.7 2403.4,1266.6 2405.0,1265.0 2406.6,1266.4 2408.2,1266.2 2409.8,1267.3 2411.4,1266.7 2413.0,1267.8 2414.6,1267.5 2416.2,1266.9 2417.8,1266.5 2419.4,1267.0 2421.0,1266.8 2422.6,1266.3 2424.2,1264.7 2425.8,1265.9 2427.4,1265.4 2429.0,1267.0 2430.6,1266.6 2432.2,1267.5 2433.8,1267.4 2435.4,1266.3 2437.0,1265.9 2438.6,1264.8 2440.2,1265.2 2441.8,1264.5 2443.4,1266.4 2445.0,1266.6 2446.6,1267.7 2448.2,1265.7 2449.8,1266.7 2451.4,1265.9 2453.0,1266.3"/>
</g>
<g stroke="#000" fill="none">
<line x1="1898.7" y1="40" x2="1898.7" y2="1335" stroke-width="4.4"/>
<line x1="2457" y1="40" x2="2457" y2="1335" stroke-width="3.4"/>
<line x1="1896.5" y1="42.4" x2="2458.7" y2="42.4" stroke-width="4.8"/>
<line x1="1896.5" y1="1331.8" x2="2458.7" y2="1331.8" stroke-width="6"/>
<line x1="2098.1" y1="1306" x2="2098.1" y2="1331" stroke-width="3.6"/>
<line x1="2407.3" y1="1306" x2="2407.3" y2="1331" stroke-width="3.6"/>
<line x1="1942.5" y1="1318.5" x2="1942.5" y2="1331" stroke-width="3.6"/>
<line x1="2253.3" y1="1318.5" x2="2253.3" y2="1331" stroke-width="3.6"/>
</g>
<text x="2065.9" y="1403.8" font-size="74">50</text>
<text x="2373.4" y="1402.4" font-size="74">60</text>
<text x="2136" y="1498" font-size="73.3">2θ</text>
<text transform="translate(2193.1,315) scale(0.835,1)" font-size="65" fill="#6ba022">Sample 4</text>
<text transform="translate(2197.7,501) scale(0.835,1)" font-size="65" fill="#0000ee">Sample 3</text>
<text transform="translate(2213.1,703.5) scale(0.835,1)" font-size="65" fill="#ee0000">Sample 2</text>
<text transform="translate(2213.1,1233) scale(0.835,1)" font-size="65" fill="#000">Sample 1</text>
<text x="2159.2" y="93.8" font-size="66.5" class="g">γ</text><text x="2193.1" y="109.9" font-size="50">(111)</text>
</svg>
</body></html>
